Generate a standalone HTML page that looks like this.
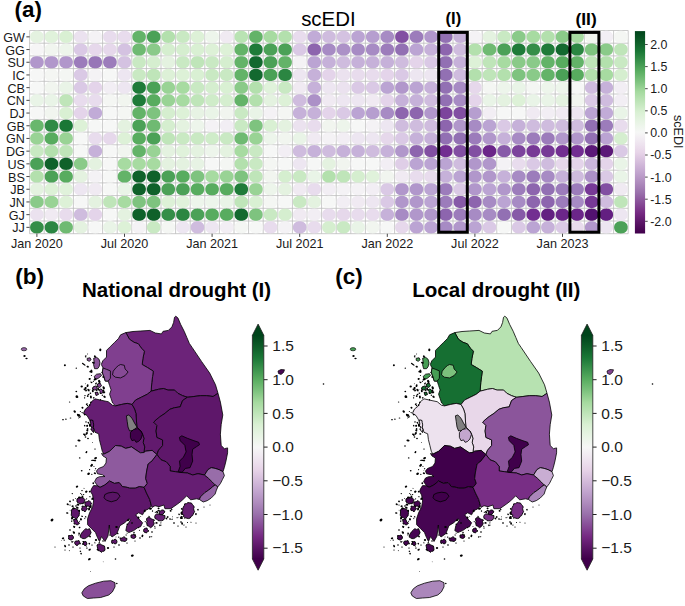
<!DOCTYPE html>
<html><head><meta charset="utf-8"><title>scEDI figure</title>
<style>html,body{margin:0;padding:0;background:#fff;}body{width:685px;height:606px;overflow:hidden;font-family:"Liberation Sans",sans-serif;}svg{display:block;}</style>
</head><body>
<svg width="685" height="606" viewBox="0 0 685 606"><defs><path id="se" d="M6.75 0.00 L6.70 0.99 L6.55 1.82 L6.29 2.58 L5.94 3.27 L5.49 3.89 L4.96 4.45 L4.34 4.92 L3.65 5.32 L2.87 5.64 L2.03 5.87 L1.10 6.00 L0.00 6.05 L-1.10 6.00 L-2.03 5.87 L-2.87 5.64 L-3.65 5.32 L-4.34 4.92 L-4.96 4.45 L-5.49 3.89 L-5.94 3.27 L-6.29 2.58 L-6.55 1.82 L-6.70 0.99 L-6.75 0.00 L-6.70 -0.99 L-6.55 -1.82 L-6.29 -2.58 L-5.94 -3.27 L-5.49 -3.89 L-4.96 -4.45 L-4.34 -4.92 L-3.65 -5.32 L-2.87 -5.64 L-2.03 -5.87 L-1.10 -6.00 L-0.00 -6.05 L1.10 -6.00 L2.03 -5.87 L2.87 -5.64 L3.65 -5.32 L4.34 -4.92 L4.96 -4.45 L5.49 -3.89 L5.94 -3.27 L6.29 -2.58 L6.55 -1.82 L6.70 -0.99Z"/><linearGradient id="cbA" x1="0" y1="0" x2="0" y2="1"><stop offset="0.000" stop-color="#00441b"/><stop offset="0.050" stop-color="#0d5c28"/><stop offset="0.100" stop-color="#1a7736"/><stop offset="0.150" stop-color="#3a924c"/><stop offset="0.200" stop-color="#5aae61"/><stop offset="0.250" stop-color="#7ec37f"/><stop offset="0.300" stop-color="#a5da9f"/><stop offset="0.350" stop-color="#bfe5b9"/><stop offset="0.400" stop-color="#d9f0d3"/><stop offset="0.450" stop-color="#e8f4e5"/><stop offset="0.500" stop-color="#f6f7f6"/><stop offset="0.550" stop-color="#efe6f0"/><stop offset="0.600" stop-color="#e7d4e8"/><stop offset="0.650" stop-color="#d4bcdb"/><stop offset="0.700" stop-color="#c1a4ce"/><stop offset="0.750" stop-color="#ae8bbd"/><stop offset="0.800" stop-color="#9970ab"/><stop offset="0.850" stop-color="#874c97"/><stop offset="0.900" stop-color="#752982"/><stop offset="0.950" stop-color="#591465"/><stop offset="1.000" stop-color="#40004b"/></linearGradient><linearGradient id="cbM" x1="0" y1="0" x2="0" y2="1"><stop offset="0.000" stop-color="#00441b"/><stop offset="0.050" stop-color="#0d5c28"/><stop offset="0.100" stop-color="#1a7736"/><stop offset="0.150" stop-color="#3a924c"/><stop offset="0.200" stop-color="#5aae61"/><stop offset="0.250" stop-color="#7ec37f"/><stop offset="0.300" stop-color="#a5da9f"/><stop offset="0.350" stop-color="#bfe5b9"/><stop offset="0.400" stop-color="#d9f0d3"/><stop offset="0.450" stop-color="#e8f4e5"/><stop offset="0.500" stop-color="#f6f7f6"/><stop offset="0.550" stop-color="#efe6f0"/><stop offset="0.600" stop-color="#e7d4e8"/><stop offset="0.650" stop-color="#d4bcdb"/><stop offset="0.700" stop-color="#c1a4ce"/><stop offset="0.750" stop-color="#ae8bbd"/><stop offset="0.800" stop-color="#9970ab"/><stop offset="0.850" stop-color="#874c97"/><stop offset="0.900" stop-color="#752982"/><stop offset="0.950" stop-color="#591465"/><stop offset="1.000" stop-color="#40004b"/></linearGradient></defs><rect x="29.6" y="30.5" width="598.6" height="203.2" fill="#ffffff"/>
<path d="M29.60 30.5V233.7M44.20 30.5V233.7M58.80 30.5V233.7M73.40 30.5V233.7M88.00 30.5V233.7M102.60 30.5V233.7M117.20 30.5V233.7M131.80 30.5V233.7M146.40 30.5V233.7M161.00 30.5V233.7M175.60 30.5V233.7M190.20 30.5V233.7M204.80 30.5V233.7M219.40 30.5V233.7M234.00 30.5V233.7M248.60 30.5V233.7M263.20 30.5V233.7M277.80 30.5V233.7M292.40 30.5V233.7M307.00 30.5V233.7M321.60 30.5V233.7M336.20 30.5V233.7M350.80 30.5V233.7M365.40 30.5V233.7M380.00 30.5V233.7M394.60 30.5V233.7M409.20 30.5V233.7M423.80 30.5V233.7M438.40 30.5V233.7M453.00 30.5V233.7M467.60 30.5V233.7M482.20 30.5V233.7M496.80 30.5V233.7M511.40 30.5V233.7M526.00 30.5V233.7M540.60 30.5V233.7M555.20 30.5V233.7M569.80 30.5V233.7M584.40 30.5V233.7M599.00 30.5V233.7M613.60 30.5V233.7M628.20 30.5V233.7M29.6 30.50H628.2M29.6 43.20H628.2M29.6 55.90H628.2M29.6 68.60H628.2M29.6 81.30H628.2M29.6 94.00H628.2M29.6 106.70H628.2M29.6 119.40H628.2M29.6 132.10H628.2M29.6 144.80H628.2M29.6 157.50H628.2M29.6 170.20H628.2M29.6 182.90H628.2M29.6 195.60H628.2M29.6 208.30H628.2M29.6 221.00H628.2M29.6 233.70H628.2" stroke="#bdbdbd" stroke-width="0.8" fill="none"/>
<use href="#se" x="36.90" y="36.85" fill="#e4f2e0"/>
<use href="#se" x="51.50" y="36.85" fill="#e0f2db"/>
<use href="#se" x="66.10" y="36.85" fill="#d9f0d3"/>
<use href="#se" x="80.70" y="36.85" fill="#ebe2ef"/>
<use href="#se" x="95.30" y="36.85" fill="#f4f2f5"/>
<use href="#se" x="109.90" y="36.85" fill="#e8dced"/>
<use href="#se" x="124.50" y="36.85" fill="#e8dced"/>
<use href="#se" x="139.10" y="36.85" fill="#63b368"/>
<use href="#se" x="153.70" y="36.85" fill="#4ba157"/>
<use href="#se" x="168.30" y="36.85" fill="#b3e0ad"/>
<use href="#se" x="182.90" y="36.85" fill="#c9e9c3"/>
<use href="#se" x="197.50" y="36.85" fill="#ddf1d7"/>
<use href="#se" x="212.10" y="36.85" fill="#edf5eb"/>
<use href="#se" x="226.70" y="36.85" fill="#f0eaf2"/>
<use href="#se" x="241.30" y="36.85" fill="#b9e3b3"/>
<use href="#se" x="255.90" y="36.85" fill="#63b368"/>
<use href="#se" x="270.50" y="36.85" fill="#a7dba1"/>
<use href="#se" x="285.10" y="36.85" fill="#b3e0ad"/>
<use href="#se" x="299.70" y="36.85" fill="#e8dced"/>
<use href="#se" x="314.30" y="36.85" fill="#c1abd7"/>
<use href="#se" x="328.90" y="36.85" fill="#cfbcde"/>
<use href="#se" x="343.50" y="36.85" fill="#d4c2e1"/>
<use href="#se" x="358.10" y="36.85" fill="#bba4d3"/>
<use href="#se" x="372.70" y="36.85" fill="#b69ecf"/>
<use href="#se" x="387.30" y="36.85" fill="#a78bc4"/>
<use href="#se" x="401.90" y="36.85" fill="#824fa2"/>
<use href="#se" x="416.50" y="36.85" fill="#9c7cbb"/>
<use href="#se" x="431.10" y="36.85" fill="#b197cb"/>
<use href="#se" x="445.70" y="36.85" fill="#9270b3"/>
<use href="#se" x="460.30" y="36.85" fill="#c6b1d9"/>
<use href="#se" x="474.90" y="36.85" fill="#f4f2f5"/>
<use href="#se" x="489.50" y="36.85" fill="#e4f2e0"/>
<use href="#se" x="504.10" y="36.85" fill="#c9e9c3"/>
<use href="#se" x="518.70" y="36.85" fill="#8aca89"/>
<use href="#se" x="533.30" y="36.85" fill="#a7dba1"/>
<use href="#se" x="547.90" y="36.85" fill="#b3e0ad"/>
<use href="#se" x="562.50" y="36.85" fill="#8aca89"/>
<use href="#se" x="577.10" y="36.85" fill="#a7dba1"/>
<use href="#se" x="591.70" y="36.85" fill="#f1f5ef"/>
<use href="#se" x="606.30" y="36.85" fill="#f2eef4"/>
<use href="#se" x="620.90" y="36.85" fill="#f4f6f3"/>
<use href="#se" x="36.90" y="49.55" fill="#f6f5f6"/>
<use href="#se" x="51.50" y="49.55" fill="#f1f5ef"/>
<use href="#se" x="66.10" y="49.55" fill="#edf5eb"/>
<use href="#se" x="80.70" y="49.55" fill="#dac9e5"/>
<use href="#se" x="95.30" y="49.55" fill="#e6d8eb"/>
<use href="#se" x="109.90" y="49.55" fill="#e6d8eb"/>
<use href="#se" x="124.50" y="49.55" fill="#d4c2e1"/>
<use href="#se" x="139.10" y="49.55" fill="#6fba72"/>
<use href="#se" x="153.70" y="49.55" fill="#8aca89"/>
<use href="#se" x="168.30" y="49.55" fill="#d5eecf"/>
<use href="#se" x="182.90" y="49.55" fill="#d5eecf"/>
<use href="#se" x="197.50" y="49.55" fill="#d9f0d3"/>
<use href="#se" x="212.10" y="49.55" fill="#ddf1d7"/>
<use href="#se" x="226.70" y="49.55" fill="#ddf1d7"/>
<use href="#se" x="241.30" y="49.55" fill="#63b368"/>
<use href="#se" x="255.90" y="49.55" fill="#1f7b39"/>
<use href="#se" x="270.50" y="49.55" fill="#4ba157"/>
<use href="#se" x="285.10" y="49.55" fill="#4ba157"/>
<use href="#se" x="299.70" y="49.55" fill="#dac9e5"/>
<use href="#se" x="314.30" y="49.55" fill="#8d65ae"/>
<use href="#se" x="328.90" y="49.55" fill="#a78bc4"/>
<use href="#se" x="343.50" y="49.55" fill="#ac91c7"/>
<use href="#se" x="358.10" y="49.55" fill="#a78bc4"/>
<use href="#se" x="372.70" y="49.55" fill="#a78bc4"/>
<use href="#se" x="387.30" y="49.55" fill="#9c7cbb"/>
<use href="#se" x="401.90" y="49.55" fill="#9270b3"/>
<use href="#se" x="416.50" y="49.55" fill="#bba4d3"/>
<use href="#se" x="431.10" y="49.55" fill="#c6b1d9"/>
<use href="#se" x="445.70" y="49.55" fill="#8d65ae"/>
<use href="#se" x="460.30" y="49.55" fill="#cfbcde"/>
<use href="#se" x="474.90" y="49.55" fill="#b3e0ad"/>
<use href="#se" x="489.50" y="49.55" fill="#6fba72"/>
<use href="#se" x="504.10" y="49.55" fill="#4ba157"/>
<use href="#se" x="518.70" y="49.55" fill="#1f7b39"/>
<use href="#se" x="533.30" y="49.55" fill="#358e48"/>
<use href="#se" x="547.90" y="49.55" fill="#1f7b39"/>
<use href="#se" x="562.50" y="49.55" fill="#13692f"/>
<use href="#se" x="577.10" y="49.55" fill="#2b8642"/>
<use href="#se" x="591.70" y="49.55" fill="#7ec37f"/>
<use href="#se" x="606.30" y="49.55" fill="#8aca89"/>
<use href="#se" x="620.90" y="49.55" fill="#bfe5b9"/>
<use href="#se" x="36.90" y="62.25" fill="#b197cb"/>
<use href="#se" x="51.50" y="62.25" fill="#b197cb"/>
<use href="#se" x="66.10" y="62.25" fill="#b197cb"/>
<use href="#se" x="80.70" y="62.25" fill="#9c7cbb"/>
<use href="#se" x="95.30" y="62.25" fill="#9776b7"/>
<use href="#se" x="109.90" y="62.25" fill="#9c7cbb"/>
<use href="#se" x="124.50" y="62.25" fill="#d4c2e1"/>
<use href="#se" x="139.10" y="62.25" fill="#c9e9c3"/>
<use href="#se" x="153.70" y="62.25" fill="#d5eecf"/>
<use href="#se" x="168.30" y="62.25" fill="#e4f2e0"/>
<use href="#se" x="182.90" y="62.25" fill="#c9e9c3"/>
<use href="#se" x="197.50" y="62.25" fill="#bfe5b9"/>
<use href="#se" x="212.10" y="62.25" fill="#c9e9c3"/>
<use href="#se" x="226.70" y="62.25" fill="#d5eecf"/>
<use href="#se" x="241.30" y="62.25" fill="#63b368"/>
<use href="#se" x="255.90" y="62.25" fill="#13692f"/>
<use href="#se" x="270.50" y="62.25" fill="#4ba157"/>
<use href="#se" x="285.10" y="62.25" fill="#63b368"/>
<use href="#se" x="299.70" y="62.25" fill="#f4f2f5"/>
<use href="#se" x="314.30" y="62.25" fill="#bba4d3"/>
<use href="#se" x="328.90" y="62.25" fill="#c6b1d9"/>
<use href="#se" x="343.50" y="62.25" fill="#cfbcde"/>
<use href="#se" x="358.10" y="62.25" fill="#c6b1d9"/>
<use href="#se" x="372.70" y="62.25" fill="#c6b1d9"/>
<use href="#se" x="387.30" y="62.25" fill="#c6b1d9"/>
<use href="#se" x="401.90" y="62.25" fill="#cfbcde"/>
<use href="#se" x="416.50" y="62.25" fill="#e4d4ea"/>
<use href="#se" x="431.10" y="62.25" fill="#dac9e5"/>
<use href="#se" x="445.70" y="62.25" fill="#9270b3"/>
<use href="#se" x="460.30" y="62.25" fill="#c6b1d9"/>
<use href="#se" x="474.90" y="62.25" fill="#ddf1d7"/>
<use href="#se" x="489.50" y="62.25" fill="#bfe5b9"/>
<use href="#se" x="504.10" y="62.25" fill="#a7dba1"/>
<use href="#se" x="518.70" y="62.25" fill="#8aca89"/>
<use href="#se" x="533.30" y="62.25" fill="#8aca89"/>
<use href="#se" x="547.90" y="62.25" fill="#63b368"/>
<use href="#se" x="562.50" y="62.25" fill="#58ac5f"/>
<use href="#se" x="577.10" y="62.25" fill="#63b368"/>
<use href="#se" x="591.70" y="62.25" fill="#bfe5b9"/>
<use href="#se" x="606.30" y="62.25" fill="#b3e0ad"/>
<use href="#se" x="620.90" y="62.25" fill="#c9e9c3"/>
<use href="#se" x="36.90" y="74.95" fill="#f6f7f6"/>
<use href="#se" x="51.50" y="74.95" fill="#f4f6f3"/>
<use href="#se" x="66.10" y="74.95" fill="#f4f6f3"/>
<use href="#se" x="80.70" y="74.95" fill="#dac9e5"/>
<use href="#se" x="95.30" y="74.95" fill="#f4f2f5"/>
<use href="#se" x="109.90" y="74.95" fill="#f6f7f6"/>
<use href="#se" x="124.50" y="74.95" fill="#ede6f1"/>
<use href="#se" x="139.10" y="74.95" fill="#c9e9c3"/>
<use href="#se" x="153.70" y="74.95" fill="#bfe5b9"/>
<use href="#se" x="168.30" y="74.95" fill="#ddf1d7"/>
<use href="#se" x="182.90" y="74.95" fill="#ddf1d7"/>
<use href="#se" x="197.50" y="74.95" fill="#d9f0d3"/>
<use href="#se" x="212.10" y="74.95" fill="#c9e9c3"/>
<use href="#se" x="226.70" y="74.95" fill="#c9e9c3"/>
<use href="#se" x="241.30" y="74.95" fill="#63b368"/>
<use href="#se" x="255.90" y="74.95" fill="#13692f"/>
<use href="#se" x="270.50" y="74.95" fill="#4ba157"/>
<use href="#se" x="285.10" y="74.95" fill="#2b8642"/>
<use href="#se" x="299.70" y="74.95" fill="#ede6f1"/>
<use href="#se" x="314.30" y="74.95" fill="#c6b1d9"/>
<use href="#se" x="328.90" y="74.95" fill="#e4d4ea"/>
<use href="#se" x="343.50" y="74.95" fill="#ebe2ef"/>
<use href="#se" x="358.10" y="74.95" fill="#e8dced"/>
<use href="#se" x="372.70" y="74.95" fill="#e8dced"/>
<use href="#se" x="387.30" y="74.95" fill="#e4d4ea"/>
<use href="#se" x="401.90" y="74.95" fill="#dac9e5"/>
<use href="#se" x="416.50" y="74.95" fill="#ede6f1"/>
<use href="#se" x="431.10" y="74.95" fill="#ede6f1"/>
<use href="#se" x="445.70" y="74.95" fill="#9270b3"/>
<use href="#se" x="460.30" y="74.95" fill="#cfbcde"/>
<use href="#se" x="474.90" y="74.95" fill="#b3e0ad"/>
<use href="#se" x="489.50" y="74.95" fill="#bfe5b9"/>
<use href="#se" x="504.10" y="74.95" fill="#b3e0ad"/>
<use href="#se" x="518.70" y="74.95" fill="#7ec37f"/>
<use href="#se" x="533.30" y="74.95" fill="#8aca89"/>
<use href="#se" x="547.90" y="74.95" fill="#63b368"/>
<use href="#se" x="562.50" y="74.95" fill="#4ba157"/>
<use href="#se" x="577.10" y="74.95" fill="#58ac5f"/>
<use href="#se" x="591.70" y="74.95" fill="#b3e0ad"/>
<use href="#se" x="606.30" y="74.95" fill="#a7dba1"/>
<use href="#se" x="620.90" y="74.95" fill="#d5eecf"/>
<use href="#se" x="36.90" y="87.65" fill="#f6f7f6"/>
<use href="#se" x="51.50" y="87.65" fill="#f1f5ef"/>
<use href="#se" x="66.10" y="87.65" fill="#e9f4e7"/>
<use href="#se" x="80.70" y="87.65" fill="#dac9e5"/>
<use href="#se" x="95.30" y="87.65" fill="#e4d4ea"/>
<use href="#se" x="109.90" y="87.65" fill="#f2eef4"/>
<use href="#se" x="124.50" y="87.65" fill="#ede6f1"/>
<use href="#se" x="139.10" y="87.65" fill="#1f7b39"/>
<use href="#se" x="153.70" y="87.65" fill="#4ba157"/>
<use href="#se" x="168.30" y="87.65" fill="#99d395"/>
<use href="#se" x="182.90" y="87.65" fill="#a7dba1"/>
<use href="#se" x="197.50" y="87.65" fill="#c9e9c3"/>
<use href="#se" x="212.10" y="87.65" fill="#d5eecf"/>
<use href="#se" x="226.70" y="87.65" fill="#d9f0d3"/>
<use href="#se" x="241.30" y="87.65" fill="#8aca89"/>
<use href="#se" x="255.90" y="87.65" fill="#b3e0ad"/>
<use href="#se" x="270.50" y="87.65" fill="#e0f2db"/>
<use href="#se" x="285.10" y="87.65" fill="#c9e9c3"/>
<use href="#se" x="299.70" y="87.65" fill="#f0eaf2"/>
<use href="#se" x="314.30" y="87.65" fill="#c6b1d9"/>
<use href="#se" x="328.90" y="87.65" fill="#ede6f1"/>
<use href="#se" x="343.50" y="87.65" fill="#ebe2ef"/>
<use href="#se" x="358.10" y="87.65" fill="#dac9e5"/>
<use href="#se" x="372.70" y="87.65" fill="#dac9e5"/>
<use href="#se" x="387.30" y="87.65" fill="#bba4d3"/>
<use href="#se" x="401.90" y="87.65" fill="#b197cb"/>
<use href="#se" x="416.50" y="87.65" fill="#bba4d3"/>
<use href="#se" x="431.10" y="87.65" fill="#c6b1d9"/>
<use href="#se" x="445.70" y="87.65" fill="#9270b3"/>
<use href="#se" x="460.30" y="87.65" fill="#a78bc4"/>
<use href="#se" x="474.90" y="87.65" fill="#e6d8eb"/>
<use href="#se" x="489.50" y="87.65" fill="#f4f6f3"/>
<use href="#se" x="504.10" y="87.65" fill="#edf5eb"/>
<use href="#se" x="518.70" y="87.65" fill="#e9f4e7"/>
<use href="#se" x="533.30" y="87.65" fill="#f4f6f3"/>
<use href="#se" x="547.90" y="87.65" fill="#edf5eb"/>
<use href="#se" x="562.50" y="87.65" fill="#edf5eb"/>
<use href="#se" x="577.10" y="87.65" fill="#f6f7f6"/>
<use href="#se" x="591.70" y="87.65" fill="#cfbcde"/>
<use href="#se" x="606.30" y="87.65" fill="#c6b1d9"/>
<use href="#se" x="620.90" y="87.65" fill="#f2eef4"/>
<use href="#se" x="36.90" y="100.35" fill="#e9f4e7"/>
<use href="#se" x="51.50" y="100.35" fill="#e9f4e7"/>
<use href="#se" x="66.10" y="100.35" fill="#bfe5b9"/>
<use href="#se" x="80.70" y="100.35" fill="#e8dced"/>
<use href="#se" x="95.30" y="100.35" fill="#e8dced"/>
<use href="#se" x="109.90" y="100.35" fill="#f4f6f3"/>
<use href="#se" x="124.50" y="100.35" fill="#f1f5ef"/>
<use href="#se" x="139.10" y="100.35" fill="#1f7b39"/>
<use href="#se" x="153.70" y="100.35" fill="#58ac5f"/>
<use href="#se" x="168.30" y="100.35" fill="#99d395"/>
<use href="#se" x="182.90" y="100.35" fill="#a7dba1"/>
<use href="#se" x="197.50" y="100.35" fill="#bfe5b9"/>
<use href="#se" x="212.10" y="100.35" fill="#cfecc9"/>
<use href="#se" x="226.70" y="100.35" fill="#d5eecf"/>
<use href="#se" x="241.30" y="100.35" fill="#63b368"/>
<use href="#se" x="255.90" y="100.35" fill="#b3e0ad"/>
<use href="#se" x="270.50" y="100.35" fill="#e4f2e0"/>
<use href="#se" x="285.10" y="100.35" fill="#ddf1d7"/>
<use href="#se" x="299.70" y="100.35" fill="#cfbcde"/>
<use href="#se" x="314.30" y="100.35" fill="#ac91c7"/>
<use href="#se" x="328.90" y="100.35" fill="#f0eaf2"/>
<use href="#se" x="343.50" y="100.35" fill="#ede6f1"/>
<use href="#se" x="358.10" y="100.35" fill="#ede6f1"/>
<use href="#se" x="372.70" y="100.35" fill="#f0eaf2"/>
<use href="#se" x="387.30" y="100.35" fill="#e4d4ea"/>
<use href="#se" x="401.90" y="100.35" fill="#c6b1d9"/>
<use href="#se" x="416.50" y="100.35" fill="#c6b1d9"/>
<use href="#se" x="431.10" y="100.35" fill="#cfbcde"/>
<use href="#se" x="445.70" y="100.35" fill="#9270b3"/>
<use href="#se" x="460.30" y="100.35" fill="#a78bc4"/>
<use href="#se" x="474.90" y="100.35" fill="#e4d4ea"/>
<use href="#se" x="489.50" y="100.35" fill="#e9f4e7"/>
<use href="#se" x="504.10" y="100.35" fill="#e4f2e0"/>
<use href="#se" x="518.70" y="100.35" fill="#ddf1d7"/>
<use href="#se" x="533.30" y="100.35" fill="#e9f4e7"/>
<use href="#se" x="547.90" y="100.35" fill="#e9f4e7"/>
<use href="#se" x="562.50" y="100.35" fill="#e4f2e0"/>
<use href="#se" x="577.10" y="100.35" fill="#f1f5ef"/>
<use href="#se" x="591.70" y="100.35" fill="#dac9e5"/>
<use href="#se" x="606.30" y="100.35" fill="#cfbcde"/>
<use href="#se" x="620.90" y="100.35" fill="#f2eef4"/>
<use href="#se" x="36.90" y="113.05" fill="#f6f7f6"/>
<use href="#se" x="51.50" y="113.05" fill="#f1f5ef"/>
<use href="#se" x="66.10" y="113.05" fill="#d9f0d3"/>
<use href="#se" x="80.70" y="113.05" fill="#e4d4ea"/>
<use href="#se" x="95.30" y="113.05" fill="#c1abd7"/>
<use href="#se" x="109.90" y="113.05" fill="#f6f7f6"/>
<use href="#se" x="124.50" y="113.05" fill="#f4f6f3"/>
<use href="#se" x="139.10" y="113.05" fill="#63b368"/>
<use href="#se" x="153.70" y="113.05" fill="#7ec37f"/>
<use href="#se" x="168.30" y="113.05" fill="#d5eecf"/>
<use href="#se" x="182.90" y="113.05" fill="#ddf1d7"/>
<use href="#se" x="197.50" y="113.05" fill="#e7f3e4"/>
<use href="#se" x="212.10" y="113.05" fill="#e9f4e7"/>
<use href="#se" x="226.70" y="113.05" fill="#f1f5ef"/>
<use href="#se" x="241.30" y="113.05" fill="#c9e9c3"/>
<use href="#se" x="255.90" y="113.05" fill="#e9f4e7"/>
<use href="#se" x="270.50" y="113.05" fill="#f4f2f5"/>
<use href="#se" x="285.10" y="113.05" fill="#f4f6f3"/>
<use href="#se" x="299.70" y="113.05" fill="#c6b1d9"/>
<use href="#se" x="314.30" y="113.05" fill="#c6b1d9"/>
<use href="#se" x="328.90" y="113.05" fill="#e4d4ea"/>
<use href="#se" x="343.50" y="113.05" fill="#dac9e5"/>
<use href="#se" x="358.10" y="113.05" fill="#bba4d3"/>
<use href="#se" x="372.70" y="113.05" fill="#b69ecf"/>
<use href="#se" x="387.30" y="113.05" fill="#a78bc4"/>
<use href="#se" x="401.90" y="113.05" fill="#8d65ae"/>
<use href="#se" x="416.50" y="113.05" fill="#8d65ae"/>
<use href="#se" x="431.10" y="113.05" fill="#b197cb"/>
<use href="#se" x="445.70" y="113.05" fill="#7c449c"/>
<use href="#se" x="460.30" y="113.05" fill="#824fa2"/>
<use href="#se" x="474.90" y="113.05" fill="#b69ecf"/>
<use href="#se" x="489.50" y="113.05" fill="#f2eef4"/>
<use href="#se" x="504.10" y="113.05" fill="#f6f7f6"/>
<use href="#se" x="518.70" y="113.05" fill="#f6f7f6"/>
<use href="#se" x="533.30" y="113.05" fill="#f0eaf2"/>
<use href="#se" x="547.90" y="113.05" fill="#f2eef4"/>
<use href="#se" x="562.50" y="113.05" fill="#f0eaf2"/>
<use href="#se" x="577.10" y="113.05" fill="#ede6f1"/>
<use href="#se" x="591.70" y="113.05" fill="#bba4d3"/>
<use href="#se" x="606.30" y="113.05" fill="#c1abd7"/>
<use href="#se" x="620.90" y="113.05" fill="#e9f4e7"/>
<use href="#se" x="36.90" y="125.75" fill="#69b76d"/>
<use href="#se" x="51.50" y="125.75" fill="#308a45"/>
<use href="#se" x="66.10" y="125.75" fill="#1a7736"/>
<use href="#se" x="80.70" y="125.75" fill="#ddf1d7"/>
<use href="#se" x="95.30" y="125.75" fill="#f6f7f6"/>
<use href="#se" x="109.90" y="125.75" fill="#f6f7f6"/>
<use href="#se" x="124.50" y="125.75" fill="#e4f2e0"/>
<use href="#se" x="139.10" y="125.75" fill="#4ba157"/>
<use href="#se" x="153.70" y="125.75" fill="#6fba72"/>
<use href="#se" x="168.30" y="125.75" fill="#d5eecf"/>
<use href="#se" x="182.90" y="125.75" fill="#e4f2e0"/>
<use href="#se" x="197.50" y="125.75" fill="#edf5eb"/>
<use href="#se" x="212.10" y="125.75" fill="#f4f2f5"/>
<use href="#se" x="226.70" y="125.75" fill="#f2eef4"/>
<use href="#se" x="241.30" y="125.75" fill="#c9e9c3"/>
<use href="#se" x="255.90" y="125.75" fill="#7ec37f"/>
<use href="#se" x="270.50" y="125.75" fill="#d9f0d3"/>
<use href="#se" x="285.10" y="125.75" fill="#e4f2e0"/>
<use href="#se" x="299.70" y="125.75" fill="#ebe2ef"/>
<use href="#se" x="314.30" y="125.75" fill="#e8dced"/>
<use href="#se" x="328.90" y="125.75" fill="#f1f5ef"/>
<use href="#se" x="343.50" y="125.75" fill="#edf5eb"/>
<use href="#se" x="358.10" y="125.75" fill="#f6f7f6"/>
<use href="#se" x="372.70" y="125.75" fill="#f4f2f5"/>
<use href="#se" x="387.30" y="125.75" fill="#ede6f1"/>
<use href="#se" x="401.90" y="125.75" fill="#cfbcde"/>
<use href="#se" x="416.50" y="125.75" fill="#cfbcde"/>
<use href="#se" x="431.10" y="125.75" fill="#cfbcde"/>
<use href="#se" x="445.70" y="125.75" fill="#8d65ae"/>
<use href="#se" x="460.30" y="125.75" fill="#b197cb"/>
<use href="#se" x="474.90" y="125.75" fill="#a78bc4"/>
<use href="#se" x="489.50" y="125.75" fill="#bba4d3"/>
<use href="#se" x="504.10" y="125.75" fill="#dac9e5"/>
<use href="#se" x="518.70" y="125.75" fill="#c6b1d9"/>
<use href="#se" x="533.30" y="125.75" fill="#cfbcde"/>
<use href="#se" x="547.90" y="125.75" fill="#cfbcde"/>
<use href="#se" x="562.50" y="125.75" fill="#cfbcde"/>
<use href="#se" x="577.10" y="125.75" fill="#cfbcde"/>
<use href="#se" x="591.70" y="125.75" fill="#9270b3"/>
<use href="#se" x="606.30" y="125.75" fill="#9c7cbb"/>
<use href="#se" x="620.90" y="125.75" fill="#e8dced"/>
<use href="#se" x="36.90" y="138.45" fill="#99d395"/>
<use href="#se" x="51.50" y="138.45" fill="#58ac5f"/>
<use href="#se" x="66.10" y="138.45" fill="#99d395"/>
<use href="#se" x="80.70" y="138.45" fill="#f6f7f6"/>
<use href="#se" x="95.30" y="138.45" fill="#e8dced"/>
<use href="#se" x="109.90" y="138.45" fill="#e6d8eb"/>
<use href="#se" x="124.50" y="138.45" fill="#ddf1d7"/>
<use href="#se" x="139.10" y="138.45" fill="#58ac5f"/>
<use href="#se" x="153.70" y="138.45" fill="#4ba157"/>
<use href="#se" x="168.30" y="138.45" fill="#bfe5b9"/>
<use href="#se" x="182.90" y="138.45" fill="#c9e9c3"/>
<use href="#se" x="197.50" y="138.45" fill="#c9e9c3"/>
<use href="#se" x="212.10" y="138.45" fill="#cfecc9"/>
<use href="#se" x="226.70" y="138.45" fill="#c9e9c3"/>
<use href="#se" x="241.30" y="138.45" fill="#6fba72"/>
<use href="#se" x="255.90" y="138.45" fill="#99d395"/>
<use href="#se" x="270.50" y="138.45" fill="#edf5eb"/>
<use href="#se" x="285.10" y="138.45" fill="#f1f5ef"/>
<use href="#se" x="299.70" y="138.45" fill="#e9f4e7"/>
<use href="#se" x="314.30" y="138.45" fill="#f0eaf2"/>
<use href="#se" x="328.90" y="138.45" fill="#f4f2f5"/>
<use href="#se" x="343.50" y="138.45" fill="#f2eef4"/>
<use href="#se" x="358.10" y="138.45" fill="#ede6f1"/>
<use href="#se" x="372.70" y="138.45" fill="#ede6f1"/>
<use href="#se" x="387.30" y="138.45" fill="#e6d8eb"/>
<use href="#se" x="401.90" y="138.45" fill="#dac9e5"/>
<use href="#se" x="416.50" y="138.45" fill="#c6b1d9"/>
<use href="#se" x="431.10" y="138.45" fill="#c6b1d9"/>
<use href="#se" x="445.70" y="138.45" fill="#9270b3"/>
<use href="#se" x="460.30" y="138.45" fill="#9270b3"/>
<use href="#se" x="474.90" y="138.45" fill="#9c7cbb"/>
<use href="#se" x="489.50" y="138.45" fill="#b197cb"/>
<use href="#se" x="504.10" y="138.45" fill="#c6b1d9"/>
<use href="#se" x="518.70" y="138.45" fill="#a78bc4"/>
<use href="#se" x="533.30" y="138.45" fill="#9c7cbb"/>
<use href="#se" x="547.90" y="138.45" fill="#9c7cbb"/>
<use href="#se" x="562.50" y="138.45" fill="#b197cb"/>
<use href="#se" x="577.10" y="138.45" fill="#b197cb"/>
<use href="#se" x="591.70" y="138.45" fill="#9270b3"/>
<use href="#se" x="606.30" y="138.45" fill="#bba4d3"/>
<use href="#se" x="620.90" y="138.45" fill="#d5eecf"/>
<use href="#se" x="36.90" y="151.15" fill="#c9e9c3"/>
<use href="#se" x="51.50" y="151.15" fill="#b3e0ad"/>
<use href="#se" x="66.10" y="151.15" fill="#bfe5b9"/>
<use href="#se" x="80.70" y="151.15" fill="#f6f7f6"/>
<use href="#se" x="95.30" y="151.15" fill="#c6b1d9"/>
<use href="#se" x="109.90" y="151.15" fill="#f6f7f6"/>
<use href="#se" x="124.50" y="151.15" fill="#f1f5ef"/>
<use href="#se" x="139.10" y="151.15" fill="#63b368"/>
<use href="#se" x="153.70" y="151.15" fill="#99d395"/>
<use href="#se" x="168.30" y="151.15" fill="#e4f2e0"/>
<use href="#se" x="182.90" y="151.15" fill="#e0f2db"/>
<use href="#se" x="197.50" y="151.15" fill="#e4f2e0"/>
<use href="#se" x="212.10" y="151.15" fill="#edf5eb"/>
<use href="#se" x="226.70" y="151.15" fill="#e4f2e0"/>
<use href="#se" x="241.30" y="151.15" fill="#a7dba1"/>
<use href="#se" x="255.90" y="151.15" fill="#c9e9c3"/>
<use href="#se" x="270.50" y="151.15" fill="#f6f7f6"/>
<use href="#se" x="285.10" y="151.15" fill="#f2eef4"/>
<use href="#se" x="299.70" y="151.15" fill="#cfbcde"/>
<use href="#se" x="314.30" y="151.15" fill="#c6b1d9"/>
<use href="#se" x="328.90" y="151.15" fill="#cfbcde"/>
<use href="#se" x="343.50" y="151.15" fill="#c6b1d9"/>
<use href="#se" x="358.10" y="151.15" fill="#c6b1d9"/>
<use href="#se" x="372.70" y="151.15" fill="#cfbcde"/>
<use href="#se" x="387.30" y="151.15" fill="#c6b1d9"/>
<use href="#se" x="401.90" y="151.15" fill="#b197cb"/>
<use href="#se" x="416.50" y="151.15" fill="#8d65ae"/>
<use href="#se" x="431.10" y="151.15" fill="#824fa2"/>
<use href="#se" x="445.70" y="151.15" fill="#722e91"/>
<use href="#se" x="460.30" y="151.15" fill="#824fa2"/>
<use href="#se" x="474.90" y="151.15" fill="#824fa2"/>
<use href="#se" x="489.50" y="151.15" fill="#6b2689"/>
<use href="#se" x="504.10" y="151.15" fill="#875aa8"/>
<use href="#se" x="518.70" y="151.15" fill="#7c449c"/>
<use href="#se" x="533.30" y="151.15" fill="#773996"/>
<use href="#se" x="547.90" y="151.15" fill="#773996"/>
<use href="#se" x="562.50" y="151.15" fill="#722e91"/>
<use href="#se" x="577.10" y="151.15" fill="#722e91"/>
<use href="#se" x="591.70" y="151.15" fill="#5b1978"/>
<use href="#se" x="606.30" y="151.15" fill="#5b1978"/>
<use href="#se" x="620.90" y="151.15" fill="#dac9e5"/>
<use href="#se" x="36.90" y="163.85" fill="#4ba157"/>
<use href="#se" x="51.50" y="163.85" fill="#0f612a"/>
<use href="#se" x="66.10" y="163.85" fill="#0f612a"/>
<use href="#se" x="80.70" y="163.85" fill="#8aca89"/>
<use href="#se" x="95.30" y="163.85" fill="#e4f2e0"/>
<use href="#se" x="109.90" y="163.85" fill="#f6f7f6"/>
<use href="#se" x="124.50" y="163.85" fill="#a7dba1"/>
<use href="#se" x="139.10" y="163.85" fill="#a7dba1"/>
<use href="#se" x="153.70" y="163.85" fill="#a7dba1"/>
<use href="#se" x="168.30" y="163.85" fill="#e4f2e0"/>
<use href="#se" x="182.90" y="163.85" fill="#e4f2e0"/>
<use href="#se" x="197.50" y="163.85" fill="#e7f3e4"/>
<use href="#se" x="212.10" y="163.85" fill="#f6f7f6"/>
<use href="#se" x="226.70" y="163.85" fill="#f4f6f3"/>
<use href="#se" x="241.30" y="163.85" fill="#b3e0ad"/>
<use href="#se" x="255.90" y="163.85" fill="#c9e9c3"/>
<use href="#se" x="270.50" y="163.85" fill="#f4f6f3"/>
<use href="#se" x="285.10" y="163.85" fill="#f6f7f6"/>
<use href="#se" x="299.70" y="163.85" fill="#ede6f1"/>
<use href="#se" x="314.30" y="163.85" fill="#f6f7f6"/>
<use href="#se" x="328.90" y="163.85" fill="#e4f2e0"/>
<use href="#se" x="343.50" y="163.85" fill="#f1f5ef"/>
<use href="#se" x="358.10" y="163.85" fill="#f6f7f6"/>
<use href="#se" x="372.70" y="163.85" fill="#f6f7f6"/>
<use href="#se" x="387.30" y="163.85" fill="#f2eef4"/>
<use href="#se" x="401.90" y="163.85" fill="#dfcee7"/>
<use href="#se" x="416.50" y="163.85" fill="#bba4d3"/>
<use href="#se" x="431.10" y="163.85" fill="#bba4d3"/>
<use href="#se" x="445.70" y="163.85" fill="#bba4d3"/>
<use href="#se" x="460.30" y="163.85" fill="#cfbcde"/>
<use href="#se" x="474.90" y="163.85" fill="#b197cb"/>
<use href="#se" x="489.50" y="163.85" fill="#b197cb"/>
<use href="#se" x="504.10" y="163.85" fill="#f4f2f5"/>
<use href="#se" x="518.70" y="163.85" fill="#e8dced"/>
<use href="#se" x="533.30" y="163.85" fill="#dac9e5"/>
<use href="#se" x="547.90" y="163.85" fill="#cfbcde"/>
<use href="#se" x="562.50" y="163.85" fill="#e6d8eb"/>
<use href="#se" x="577.10" y="163.85" fill="#e4d4ea"/>
<use href="#se" x="591.70" y="163.85" fill="#cbb7dc"/>
<use href="#se" x="606.30" y="163.85" fill="#e4d4ea"/>
<use href="#se" x="620.90" y="163.85" fill="#e9f4e7"/>
<use href="#se" x="36.90" y="176.55" fill="#b3e0ad"/>
<use href="#se" x="51.50" y="176.55" fill="#4ba157"/>
<use href="#se" x="66.10" y="176.55" fill="#58ac5f"/>
<use href="#se" x="80.70" y="176.55" fill="#e4f2e0"/>
<use href="#se" x="95.30" y="176.55" fill="#f4f2f5"/>
<use href="#se" x="109.90" y="176.55" fill="#f6f7f6"/>
<use href="#se" x="124.50" y="176.55" fill="#63b368"/>
<use href="#se" x="139.10" y="176.55" fill="#0f612a"/>
<use href="#se" x="153.70" y="176.55" fill="#0f612a"/>
<use href="#se" x="168.30" y="176.55" fill="#4ba157"/>
<use href="#se" x="182.90" y="176.55" fill="#58ac5f"/>
<use href="#se" x="197.50" y="176.55" fill="#7ec37f"/>
<use href="#se" x="212.10" y="176.55" fill="#a7dba1"/>
<use href="#se" x="226.70" y="176.55" fill="#99d395"/>
<use href="#se" x="241.30" y="176.55" fill="#7ec37f"/>
<use href="#se" x="255.90" y="176.55" fill="#bfe5b9"/>
<use href="#se" x="270.50" y="176.55" fill="#f1f5ef"/>
<use href="#se" x="285.10" y="176.55" fill="#d5eecf"/>
<use href="#se" x="299.70" y="176.55" fill="#c9e9c3"/>
<use href="#se" x="314.30" y="176.55" fill="#e9f4e7"/>
<use href="#se" x="328.90" y="176.55" fill="#b3e0ad"/>
<use href="#se" x="343.50" y="176.55" fill="#bfe5b9"/>
<use href="#se" x="358.10" y="176.55" fill="#d5eecf"/>
<use href="#se" x="372.70" y="176.55" fill="#e0f2db"/>
<use href="#se" x="387.30" y="176.55" fill="#f1f5ef"/>
<use href="#se" x="401.90" y="176.55" fill="#f0eaf2"/>
<use href="#se" x="416.50" y="176.55" fill="#e8dced"/>
<use href="#se" x="431.10" y="176.55" fill="#e8dced"/>
<use href="#se" x="445.70" y="176.55" fill="#c6b1d9"/>
<use href="#se" x="460.30" y="176.55" fill="#bba4d3"/>
<use href="#se" x="474.90" y="176.55" fill="#b197cb"/>
<use href="#se" x="489.50" y="176.55" fill="#b197cb"/>
<use href="#se" x="504.10" y="176.55" fill="#c6b1d9"/>
<use href="#se" x="518.70" y="176.55" fill="#a78bc4"/>
<use href="#se" x="533.30" y="176.55" fill="#9c7cbb"/>
<use href="#se" x="547.90" y="176.55" fill="#a78bc4"/>
<use href="#se" x="562.50" y="176.55" fill="#c6b1d9"/>
<use href="#se" x="577.10" y="176.55" fill="#cfbcde"/>
<use href="#se" x="591.70" y="176.55" fill="#ac91c7"/>
<use href="#se" x="606.30" y="176.55" fill="#dac9e5"/>
<use href="#se" x="620.90" y="176.55" fill="#e9f4e7"/>
<use href="#se" x="36.90" y="189.25" fill="#e4f2e0"/>
<use href="#se" x="51.50" y="189.25" fill="#ddf1d7"/>
<use href="#se" x="66.10" y="189.25" fill="#e0f2db"/>
<use href="#se" x="80.70" y="189.25" fill="#ede6f1"/>
<use href="#se" x="95.30" y="189.25" fill="#f0eaf2"/>
<use href="#se" x="109.90" y="189.25" fill="#f6f7f6"/>
<use href="#se" x="124.50" y="189.25" fill="#e9f4e7"/>
<use href="#se" x="139.10" y="189.25" fill="#0f612a"/>
<use href="#se" x="153.70" y="189.25" fill="#0f612a"/>
<use href="#se" x="168.30" y="189.25" fill="#4ba157"/>
<use href="#se" x="182.90" y="189.25" fill="#4ba157"/>
<use href="#se" x="197.50" y="189.25" fill="#58ac5f"/>
<use href="#se" x="212.10" y="189.25" fill="#58ac5f"/>
<use href="#se" x="226.70" y="189.25" fill="#58ac5f"/>
<use href="#se" x="241.30" y="189.25" fill="#1f7b39"/>
<use href="#se" x="255.90" y="189.25" fill="#99d395"/>
<use href="#se" x="270.50" y="189.25" fill="#edf5eb"/>
<use href="#se" x="285.10" y="189.25" fill="#e4f2e0"/>
<use href="#se" x="299.70" y="189.25" fill="#f0eaf2"/>
<use href="#se" x="314.30" y="189.25" fill="#e8dced"/>
<use href="#se" x="328.90" y="189.25" fill="#f2eef4"/>
<use href="#se" x="343.50" y="189.25" fill="#f4f2f5"/>
<use href="#se" x="358.10" y="189.25" fill="#f4f2f5"/>
<use href="#se" x="372.70" y="189.25" fill="#f2eef4"/>
<use href="#se" x="387.30" y="189.25" fill="#dac9e5"/>
<use href="#se" x="401.90" y="189.25" fill="#b197cb"/>
<use href="#se" x="416.50" y="189.25" fill="#b197cb"/>
<use href="#se" x="431.10" y="189.25" fill="#bba4d3"/>
<use href="#se" x="445.70" y="189.25" fill="#9c7cbb"/>
<use href="#se" x="460.30" y="189.25" fill="#dac9e5"/>
<use href="#se" x="474.90" y="189.25" fill="#b197cb"/>
<use href="#se" x="489.50" y="189.25" fill="#bba4d3"/>
<use href="#se" x="504.10" y="189.25" fill="#b197cb"/>
<use href="#se" x="518.70" y="189.25" fill="#9c7cbb"/>
<use href="#se" x="533.30" y="189.25" fill="#8d65ae"/>
<use href="#se" x="547.90" y="189.25" fill="#9270b3"/>
<use href="#se" x="562.50" y="189.25" fill="#9c7cbb"/>
<use href="#se" x="577.10" y="189.25" fill="#9c7cbb"/>
<use href="#se" x="591.70" y="189.25" fill="#773996"/>
<use href="#se" x="606.30" y="189.25" fill="#824fa2"/>
<use href="#se" x="620.90" y="189.25" fill="#f0eaf2"/>
<use href="#se" x="36.90" y="201.95" fill="#8aca89"/>
<use href="#se" x="51.50" y="201.95" fill="#99d395"/>
<use href="#se" x="66.10" y="201.95" fill="#ddf1d7"/>
<use href="#se" x="80.70" y="201.95" fill="#f6f7f6"/>
<use href="#se" x="95.30" y="201.95" fill="#e4f2e0"/>
<use href="#se" x="109.90" y="201.95" fill="#bfe5b9"/>
<use href="#se" x="124.50" y="201.95" fill="#a7dba1"/>
<use href="#se" x="139.10" y="201.95" fill="#7ec37f"/>
<use href="#se" x="153.70" y="201.95" fill="#7ec37f"/>
<use href="#se" x="168.30" y="201.95" fill="#ddf1d7"/>
<use href="#se" x="182.90" y="201.95" fill="#e0f2db"/>
<use href="#se" x="197.50" y="201.95" fill="#edf5eb"/>
<use href="#se" x="212.10" y="201.95" fill="#edf5eb"/>
<use href="#se" x="226.70" y="201.95" fill="#e9f4e7"/>
<use href="#se" x="241.30" y="201.95" fill="#bfe5b9"/>
<use href="#se" x="255.90" y="201.95" fill="#d9f0d3"/>
<use href="#se" x="270.50" y="201.95" fill="#f4f6f3"/>
<use href="#se" x="285.10" y="201.95" fill="#f6f7f6"/>
<use href="#se" x="299.70" y="201.95" fill="#c9e9c3"/>
<use href="#se" x="314.30" y="201.95" fill="#e4f2e0"/>
<use href="#se" x="328.90" y="201.95" fill="#f6f7f6"/>
<use href="#se" x="343.50" y="201.95" fill="#f2eef4"/>
<use href="#se" x="358.10" y="201.95" fill="#f0eaf2"/>
<use href="#se" x="372.70" y="201.95" fill="#ede6f1"/>
<use href="#se" x="387.30" y="201.95" fill="#dac9e5"/>
<use href="#se" x="401.90" y="201.95" fill="#b197cb"/>
<use href="#se" x="416.50" y="201.95" fill="#b197cb"/>
<use href="#se" x="431.10" y="201.95" fill="#bba4d3"/>
<use href="#se" x="445.70" y="201.95" fill="#9c7cbb"/>
<use href="#se" x="460.30" y="201.95" fill="#875aa8"/>
<use href="#se" x="474.90" y="201.95" fill="#8d65ae"/>
<use href="#se" x="489.50" y="201.95" fill="#a78bc4"/>
<use href="#se" x="504.10" y="201.95" fill="#bba4d3"/>
<use href="#se" x="518.70" y="201.95" fill="#a78bc4"/>
<use href="#se" x="533.30" y="201.95" fill="#8d65ae"/>
<use href="#se" x="547.90" y="201.95" fill="#8d65ae"/>
<use href="#se" x="562.50" y="201.95" fill="#9c7cbb"/>
<use href="#se" x="577.10" y="201.95" fill="#a78bc4"/>
<use href="#se" x="591.70" y="201.95" fill="#773996"/>
<use href="#se" x="606.30" y="201.95" fill="#cfbcde"/>
<use href="#se" x="620.90" y="201.95" fill="#bfe5b9"/>
<use href="#se" x="36.90" y="214.65" fill="#ebe2ef"/>
<use href="#se" x="51.50" y="214.65" fill="#f0eaf2"/>
<use href="#se" x="66.10" y="214.65" fill="#e8dced"/>
<use href="#se" x="80.70" y="214.65" fill="#cfbcde"/>
<use href="#se" x="95.30" y="214.65" fill="#e4d4ea"/>
<use href="#se" x="109.90" y="214.65" fill="#f6f7f6"/>
<use href="#se" x="124.50" y="214.65" fill="#e4f2e0"/>
<use href="#se" x="139.10" y="214.65" fill="#0f612a"/>
<use href="#se" x="153.70" y="214.65" fill="#0f612a"/>
<use href="#se" x="168.30" y="214.65" fill="#358e48"/>
<use href="#se" x="182.90" y="214.65" fill="#2b8642"/>
<use href="#se" x="197.50" y="214.65" fill="#4ba157"/>
<use href="#se" x="212.10" y="214.65" fill="#58ac5f"/>
<use href="#se" x="226.70" y="214.65" fill="#58ac5f"/>
<use href="#se" x="241.30" y="214.65" fill="#13692f"/>
<use href="#se" x="255.90" y="214.65" fill="#7ec37f"/>
<use href="#se" x="270.50" y="214.65" fill="#c9e9c3"/>
<use href="#se" x="285.10" y="214.65" fill="#d5eecf"/>
<use href="#se" x="299.70" y="214.65" fill="#f0eaf2"/>
<use href="#se" x="314.30" y="214.65" fill="#f2eef4"/>
<use href="#se" x="328.90" y="214.65" fill="#e8dced"/>
<use href="#se" x="343.50" y="214.65" fill="#e6d8eb"/>
<use href="#se" x="358.10" y="214.65" fill="#e8dced"/>
<use href="#se" x="372.70" y="214.65" fill="#e8dced"/>
<use href="#se" x="387.30" y="214.65" fill="#c6b1d9"/>
<use href="#se" x="401.90" y="214.65" fill="#a78bc4"/>
<use href="#se" x="416.50" y="214.65" fill="#b197cb"/>
<use href="#se" x="431.10" y="214.65" fill="#b197cb"/>
<use href="#se" x="445.70" y="214.65" fill="#8d65ae"/>
<use href="#se" x="460.30" y="214.65" fill="#9c7cbb"/>
<use href="#se" x="474.90" y="214.65" fill="#a78bc4"/>
<use href="#se" x="489.50" y="214.65" fill="#a78bc4"/>
<use href="#se" x="504.10" y="214.65" fill="#9270b3"/>
<use href="#se" x="518.70" y="214.65" fill="#875aa8"/>
<use href="#se" x="533.30" y="214.65" fill="#722e91"/>
<use href="#se" x="547.90" y="214.65" fill="#631f81"/>
<use href="#se" x="562.50" y="214.65" fill="#6b2689"/>
<use href="#se" x="577.10" y="214.65" fill="#6b2689"/>
<use href="#se" x="591.70" y="214.65" fill="#531270"/>
<use href="#se" x="606.30" y="214.65" fill="#631f81"/>
<use href="#se" x="620.90" y="214.65" fill="#ede6f1"/>
<use href="#se" x="36.90" y="227.35" fill="#358e48"/>
<use href="#se" x="51.50" y="227.35" fill="#2b8642"/>
<use href="#se" x="66.10" y="227.35" fill="#6fba72"/>
<use href="#se" x="80.70" y="227.35" fill="#e4f2e0"/>
<use href="#se" x="95.30" y="227.35" fill="#f6f7f6"/>
<use href="#se" x="109.90" y="227.35" fill="#e9f4e7"/>
<use href="#se" x="124.50" y="227.35" fill="#ddf1d7"/>
<use href="#se" x="139.10" y="227.35" fill="#f4f2f5"/>
<use href="#se" x="153.70" y="227.35" fill="#c9e9c3"/>
<use href="#se" x="168.30" y="227.35" fill="#f4f6f3"/>
<use href="#se" x="182.90" y="227.35" fill="#ede6f1"/>
<use href="#se" x="197.50" y="227.35" fill="#cfbcde"/>
<use href="#se" x="212.10" y="227.35" fill="#ede6f1"/>
<use href="#se" x="226.70" y="227.35" fill="#f2eef4"/>
<use href="#se" x="241.30" y="227.35" fill="#f4f6f3"/>
<use href="#se" x="255.90" y="227.35" fill="#f6f7f6"/>
<use href="#se" x="270.50" y="227.35" fill="#e8dced"/>
<use href="#se" x="285.10" y="227.35" fill="#f4f2f5"/>
<use href="#se" x="299.70" y="227.35" fill="#cfbcde"/>
<use href="#se" x="314.30" y="227.35" fill="#e8dced"/>
<use href="#se" x="328.90" y="227.35" fill="#d5eecf"/>
<use href="#se" x="343.50" y="227.35" fill="#c9e9c3"/>
<use href="#se" x="358.10" y="227.35" fill="#e9f4e7"/>
<use href="#se" x="372.70" y="227.35" fill="#f1f5ef"/>
<use href="#se" x="387.30" y="227.35" fill="#f6f7f6"/>
<use href="#se" x="401.90" y="227.35" fill="#e6d8eb"/>
<use href="#se" x="416.50" y="227.35" fill="#bba4d3"/>
<use href="#se" x="431.10" y="227.35" fill="#bba4d3"/>
<use href="#se" x="445.70" y="227.35" fill="#a78bc4"/>
<use href="#se" x="460.30" y="227.35" fill="#b197cb"/>
<use href="#se" x="474.90" y="227.35" fill="#bba4d3"/>
<use href="#se" x="489.50" y="227.35" fill="#dac9e5"/>
<use href="#se" x="504.10" y="227.35" fill="#f6f7f6"/>
<use href="#se" x="518.70" y="227.35" fill="#dac9e5"/>
<use href="#se" x="533.30" y="227.35" fill="#bba4d3"/>
<use href="#se" x="547.90" y="227.35" fill="#c6b1d9"/>
<use href="#se" x="562.50" y="227.35" fill="#dac9e5"/>
<use href="#se" x="577.10" y="227.35" fill="#e8dced"/>
<use href="#se" x="591.70" y="227.35" fill="#b197cb"/>
<use href="#se" x="606.30" y="227.35" fill="#ede6f1"/>
<use href="#se" x="620.90" y="227.35" fill="#4ba157"/>
<rect x="438.7" y="32.4" width="28.6" height="199.8" fill="none" stroke="#000" stroke-width="3"/>
<rect x="569.9" y="32.4" width="29.0" height="199.8" fill="none" stroke="#000" stroke-width="3"/>
<text x="24.9" y="41.85" font-size="12.6" text-anchor="end" font-family="Liberation Sans, sans-serif" fill="#1a1a1a">GW</text>
<text x="24.9" y="54.55" font-size="12.6" text-anchor="end" font-family="Liberation Sans, sans-serif" fill="#1a1a1a">GG</text>
<text x="24.9" y="67.25" font-size="12.6" text-anchor="end" font-family="Liberation Sans, sans-serif" fill="#1a1a1a">SU</text>
<text x="24.9" y="79.95" font-size="12.6" text-anchor="end" font-family="Liberation Sans, sans-serif" fill="#1a1a1a">IC</text>
<text x="24.9" y="92.65" font-size="12.6" text-anchor="end" font-family="Liberation Sans, sans-serif" fill="#1a1a1a">CB</text>
<text x="24.9" y="105.35" font-size="12.6" text-anchor="end" font-family="Liberation Sans, sans-serif" fill="#1a1a1a">CN</text>
<text x="24.9" y="118.05" font-size="12.6" text-anchor="end" font-family="Liberation Sans, sans-serif" fill="#1a1a1a">DJ</text>
<text x="24.9" y="130.75" font-size="12.6" text-anchor="end" font-family="Liberation Sans, sans-serif" fill="#1a1a1a">GB</text>
<text x="24.9" y="143.45" font-size="12.6" text-anchor="end" font-family="Liberation Sans, sans-serif" fill="#1a1a1a">GN</text>
<text x="24.9" y="156.15" font-size="12.6" text-anchor="end" font-family="Liberation Sans, sans-serif" fill="#1a1a1a">DG</text>
<text x="24.9" y="168.85" font-size="12.6" text-anchor="end" font-family="Liberation Sans, sans-serif" fill="#1a1a1a">US</text>
<text x="24.9" y="181.55" font-size="12.6" text-anchor="end" font-family="Liberation Sans, sans-serif" fill="#1a1a1a">BS</text>
<text x="24.9" y="194.25" font-size="12.6" text-anchor="end" font-family="Liberation Sans, sans-serif" fill="#1a1a1a">JB</text>
<text x="24.9" y="206.95" font-size="12.6" text-anchor="end" font-family="Liberation Sans, sans-serif" fill="#1a1a1a">JN</text>
<text x="24.9" y="219.65" font-size="12.6" text-anchor="end" font-family="Liberation Sans, sans-serif" fill="#1a1a1a">GJ</text>
<text x="24.9" y="232.35" font-size="12.6" text-anchor="end" font-family="Liberation Sans, sans-serif" fill="#1a1a1a">JJ</text>
<text x="36.90" y="247.7" font-size="12.6" text-anchor="middle" font-family="Liberation Sans, sans-serif" fill="#1a1a1a">Jan 2020</text>
<text x="124.50" y="247.7" font-size="12.6" text-anchor="middle" font-family="Liberation Sans, sans-serif" fill="#1a1a1a">Jul 2020</text>
<text x="212.10" y="247.7" font-size="12.6" text-anchor="middle" font-family="Liberation Sans, sans-serif" fill="#1a1a1a">Jan 2021</text>
<text x="299.70" y="247.7" font-size="12.6" text-anchor="middle" font-family="Liberation Sans, sans-serif" fill="#1a1a1a">Jul 2021</text>
<text x="387.30" y="247.7" font-size="12.6" text-anchor="middle" font-family="Liberation Sans, sans-serif" fill="#1a1a1a">Jan 2022</text>
<text x="474.90" y="247.7" font-size="12.6" text-anchor="middle" font-family="Liberation Sans, sans-serif" fill="#1a1a1a">Jul 2022</text>
<text x="562.50" y="247.7" font-size="12.6" text-anchor="middle" font-family="Liberation Sans, sans-serif" fill="#1a1a1a">Jan 2023</text>
<path d="M26.4 36.85H29.6M26.4 49.55H29.6M26.4 62.25H29.6M26.4 74.95H29.6M26.4 87.65H29.6M26.4 100.35H29.6M26.4 113.05H29.6M26.4 125.75H29.6M26.4 138.45H29.6M26.4 151.15H29.6M26.4 163.85H29.6M26.4 176.55H29.6M26.4 189.25H29.6M26.4 201.95H29.6M26.4 214.65H29.6M26.4 227.35H29.6M36.90 233.7V236.89999999999998M124.50 233.7V236.89999999999998M212.10 233.7V236.89999999999998M299.70 233.7V236.89999999999998M387.30 233.7V236.89999999999998M474.90 233.7V236.89999999999998M562.50 233.7V236.89999999999998" stroke="#333" stroke-width="0.9" fill="none"/>
<text x="14.6" y="17.3" font-size="22.4" font-weight="bold" font-family="Liberation Sans, sans-serif" fill="#000">(a)</text>
<text x="328.4" y="25.9" font-size="19.6" text-anchor="middle" textLength="54.5" lengthAdjust="spacingAndGlyphs" font-family="Liberation Sans, sans-serif" fill="#000">scEDI</text>
<text x="453.4" y="24.2" font-size="16.6" font-weight="bold" text-anchor="middle" font-family="Liberation Sans, sans-serif" fill="#000">(I)</text>
<text x="586.1" y="25.2" font-size="17.4" font-weight="bold" text-anchor="middle" font-family="Liberation Sans, sans-serif" fill="#000">(II)</text>
<rect x="634.9" y="31.1" width="10.2" height="202.4" fill="url(#cbA)"/>
<text x="650.2" y="48.90" font-size="12.4" font-family="Liberation Sans, sans-serif" fill="#1a1a1a">2.0</text>
<text x="650.2" y="71.00" font-size="12.4" font-family="Liberation Sans, sans-serif" fill="#1a1a1a">1.5</text>
<text x="650.2" y="93.10" font-size="12.4" font-family="Liberation Sans, sans-serif" fill="#1a1a1a">1.0</text>
<text x="650.2" y="115.20" font-size="12.4" font-family="Liberation Sans, sans-serif" fill="#1a1a1a">0.5</text>
<text x="650.2" y="137.30" font-size="12.4" font-family="Liberation Sans, sans-serif" fill="#1a1a1a">0.0</text>
<text x="650.2" y="159.40" font-size="12.4" font-family="Liberation Sans, sans-serif" fill="#1a1a1a">-0.5</text>
<text x="650.2" y="181.50" font-size="12.4" font-family="Liberation Sans, sans-serif" fill="#1a1a1a">-1.0</text>
<text x="650.2" y="203.60" font-size="12.4" font-family="Liberation Sans, sans-serif" fill="#1a1a1a">-1.5</text>
<text x="650.2" y="225.70" font-size="12.4" font-family="Liberation Sans, sans-serif" fill="#1a1a1a">-2.0</text>
<path d="M645.1 44.50h2.6M645.1 66.60h2.6M645.1 88.70h2.6M645.1 110.80h2.6M645.1 132.90h2.6M645.1 155.00h2.6M645.1 177.10h2.6M645.1 199.20h2.6M645.1 221.30h2.6" stroke="#333" stroke-width="0.9" fill="none"/>
<text x="0" y="0" font-size="12.6" text-anchor="middle" font-family="Liberation Sans, sans-serif" fill="#1a1a1a" transform="translate(674.4 131.75) rotate(90)">scEDI</text>
<path d="M175.8 316.2 L174.5 317.3 L173.6 322.5 L171.9 326.9 L168.4 330.4 L163.1 331.3 L161.4 333.9 L155.3 333.0 L150.0 330.4 L140.7 331.0 L133.0 331.5 L125.8 332.6 L129.5 339.3 L134.0 342.3 L138.4 343.8 L141.4 348.2 L144.4 351.2 L142.9 358.6 L142.2 364.5 L147.4 367.5 L153.3 371.2 L152.6 376.4 L151.8 382.3 L151.1 391.2 L158.5 389.3 L163.4 388.5 L168.2 390.1 L174.6 390.1 L177.8 393.3 L182.6 395.7 L187.4 397.3 L193.9 396.5 L200.3 395.7 L206.7 395.7 L213.1 396.5 L218.0 393.3 L215.5 384.8 L209.7 373.1 L201.5 361.4 L192.1 347.4 L189.4 343.5 L186.8 337.4 L184.2 331.3 L180.6 324.3 L178.0 318.1Z" fill="#6c2379" stroke="#000" stroke-width="0.8" stroke-linejoin="round"/>
<path d="M125.8 332.6 L120.6 334.8 L118.4 338.6 L114.7 342.3 L110.2 346.7 L106.5 350.4 L106.5 357.1 L102.8 360.8 L101.3 364.5 L103.1 368.0 L102.3 372.3 L103.8 376.7 L105.3 381.1 L108.2 381.1 L109.6 385.5 L111.1 389.9 L109.6 394.2 L111.1 398.6 L112.6 403.0 L115.5 405.9 L121.3 404.5 L127.2 403.4 L132.0 404.5 L135.5 400.1 L141.4 397.2 L147.4 394.2 L151.1 391.2 L151.8 382.3 L152.6 376.4 L153.3 371.2 L147.4 367.5 L142.2 364.5 L142.9 358.6 L144.4 351.2 L141.4 348.2 L138.4 343.8 L134.0 342.3 L129.5 339.3Z" fill="#803f8f" stroke="#000" stroke-width="0.8" stroke-linejoin="round"/>
<path d="M132.0 404.5 L135.5 400.1 L141.4 397.2 L147.4 394.2 L151.1 391.2 L158.5 389.3 L163.4 388.5 L168.2 390.1 L174.6 390.1 L177.8 393.3 L182.6 395.7 L187.4 397.3 L182.6 400.5 L180.2 406.9 L174.6 407.7 L169.8 409.3 L165.0 413.4 L160.1 416.6 L156.1 419.8 L153.7 422.2 L156.9 425.4 L156.1 431.0 L156.9 437.4 L162.6 439.9 L162.6 445.5 L158.5 450.3 L156.9 454.5 L152.1 450.4 L145.7 451.2 L143.9 452.5 L144.7 446.9 L143.2 442.6 L143.9 438.2 L142.5 434.2 L140.9 431.0 L136.9 427.0 L135.9 413.4 L134.5 409.0Z" fill="#621a6e" stroke="#000" stroke-width="0.8" stroke-linejoin="round"/>
<path d="M95.0 398.8 L100.9 400.2 L108.2 401.7 L112.6 405.3 L115.5 405.9 L121.3 404.5 L127.2 403.4 L132.0 404.5 L134.5 409.0 L135.9 413.4 L136.9 427.0 L140.9 431.0 L142.5 434.2 L143.9 438.2 L143.2 442.6 L144.7 446.9 L143.9 452.5 L140.3 452.8 L135.9 449.9 L131.5 446.9 L125.7 448.4 L121.3 446.2 L115.5 445.5 L109.6 451.3 L103.8 454.2 L102.3 451.3 L100.9 445.5 L99.4 439.6 L98.7 433.8 L95.0 432.3 L93.6 427.9 L91.4 423.6 L89.2 419.2 L87.0 415.5 L83.4 413.4 L85.5 409.0 L89.2 406.1 L91.4 401.7Z" fill="#661e73" stroke="#000" stroke-width="0.8" stroke-linejoin="round"/>
<path d="M187.4 397.3 L193.9 396.5 L200.3 395.7 L206.7 395.7 L213.1 396.5 L218.0 393.3 L220.4 402.1 L222.8 415.0 L221.2 424.6 L220.4 434.2 L221.2 445.5 L224.4 448.7 L227.6 447.9 L227.6 452.8 L226.0 460.9 L224.4 467.3 L223.0 471.7 L219.1 469.7 L215.1 468.4 L211.2 467.7 L207.9 469.7 L204.6 475.0 L198.0 473.7 L192.7 475.0 L187.4 473.0 L178.8 472.3 L175.5 471.7 L170.2 471.0 L170.2 466.4 L166.3 461.8 L161.0 459.8 L156.9 454.5 L158.5 450.3 L162.6 445.5 L162.6 439.9 L156.9 437.4 L156.1 431.0 L156.9 425.4 L153.7 422.2 L156.1 419.8 L160.1 416.6 L165.0 413.4 L169.8 409.3 L174.6 407.7 L180.2 406.9 L182.6 400.5Z" fill="#5e176a" stroke="#000" stroke-width="0.8" stroke-linejoin="round"/>
<path d="M103.8 454.2 L109.6 451.3 L115.5 445.5 L121.3 446.2 L125.7 448.4 L131.5 446.9 L135.9 449.9 L140.3 452.8 L143.9 452.5 L145.7 451.2 L152.1 450.4 L156.9 454.5 L152.1 460.9 L148.1 464.1 L146.5 472.1 L145.7 478.5 L147.3 483.4 L144.1 487.4 L139.3 486.6 L135.3 488.2 L129.6 488.2 L127.3 487.4 L122.4 486.6 L119.2 482.6 L114.4 483.4 L109.6 481.0 L104.8 485.0 L100.0 487.4 L97.6 485.8 L94.6 481.7 L96.5 478.0 L99.5 476.7 L105.0 476.5 L102.5 474.8 L97.5 473.8 L96.5 471.0 L98.5 468.5 L103.5 466.5 L106.0 463.0 L106.4 458.0 L103.0 456.0 L101.5 453.5Z" fill="#8e5a9e" stroke="#000" stroke-width="0.8" stroke-linejoin="round"/>
<path d="M97.6 485.8 L100.0 487.4 L104.8 485.0 L109.6 481.0 L114.4 483.4 L119.2 482.6 L122.4 486.6 L127.3 487.4 L129.6 488.2 L135.3 488.2 L139.3 486.6 L144.1 487.4 L146.5 493.0 L149.7 499.4 L151.4 505.8 L148.6 508.9 L144.6 510.8 L142.6 514.8 L138.7 512.8 L135.7 514.8 L138.7 518.8 L142.6 522.7 L140.6 526.7 L137.7 527.7 L133.7 530.6 L128.8 532.6 L125.8 530.6 L126.8 525.7 L130.7 519.8 L128.8 518.8 L124.8 522.7 L119.9 525.7 L116.9 533.6 L112.0 537.0 L110.2 534.6 L109.3 525.0 L108.0 536.0 L105.0 541.5 L101.5 536.6 L99.5 541.5 L97.5 537.6 L95.5 532.6 L91.6 528.7 L87.6 524.7 L87.6 518.8 L89.6 512.8 L92.6 506.9 L93.6 500.9 L92.6 495.0 L90.6 491.6 L91.6 488.6 L93.6 485.6Z" fill="#5e176a" stroke="#000" stroke-width="0.8" stroke-linejoin="round"/>
<path d="M156.9 454.5 L161.0 459.8 L166.3 461.8 L170.2 466.4 L170.2 471.0 L175.5 471.7 L178.8 472.3 L187.4 473.0 L192.7 475.0 L198.0 473.7 L204.6 475.0 L208.5 478.3 L212.5 482.2 L215.1 484.9 L212.5 486.9 L208.5 490.2 L204.6 492.8 L200.6 496.8 L199.3 499.4 L196.6 498.8 L190.6 499.8 L186.7 495.8 L181.7 500.8 L177.8 503.8 L170.8 508.7 L164.9 508.7 L163.9 505.0 L159.0 506.7 L155.0 505.7 L152.1 507.4 L151.4 505.8 L149.7 499.4 L146.5 493.0 L144.1 487.4 L147.3 483.4 L145.7 478.5 L146.5 472.1 L148.1 464.1 L152.1 460.9Z" fill="#661e73" stroke="#000" stroke-width="0.8" stroke-linejoin="round"/>
<path d="M204.6 475.0 L207.9 469.7 L211.2 467.7 L215.1 468.4 L219.1 469.7 L223.0 471.7 L224.4 475.6 L222.4 479.6 L220.4 483.6 L217.8 486.9 L215.1 484.9 L212.5 482.2 L208.5 478.3Z" fill="#986da9" stroke="#000" stroke-width="0.8" stroke-linejoin="round"/>
<path d="M215.1 484.9 L217.8 486.9 L216.4 490.2 L215.1 494.1 L211.2 498.1 L207.2 500.7 L203.2 502.0 L199.3 499.4 L200.6 496.8 L204.6 492.8 L208.5 490.2 L212.5 486.9Z" fill="#9465a5" stroke="#000" stroke-width="0.8" stroke-linejoin="round"/>
<path d="M113.2 371.2 L116.2 367.5 L118.5 365.5 L120.6 364.5 L124.3 365.3 L125.1 369.0 L128.1 372.0 L125.1 375.6 L120.6 377.9 L115.4 377.2 L112.5 374.9Z" fill="#864a95" stroke="#000" stroke-width="0.8" stroke-linejoin="round"/>
<path d="M103.1 368.0 L106.7 369.4 L110.4 370.9 L110.4 378.2 L108.2 381.1 L105.3 381.1 L103.8 376.7 L102.3 372.3Z" fill="#8b559b" stroke="#000" stroke-width="0.8" stroke-linejoin="round"/>
<path d="M93.6 358.3 L96.6 357.3 L99.1 359.3 L100.0 362.8 L99.1 366.7 L97.6 368.7 L94.6 368.7 L93.6 364.8 L94.1 361.8Z" fill="#8b559b" stroke="#000" stroke-width="0.8" stroke-linejoin="round"/>
<path d="M87.2 358.3 L90.1 357.8 L91.1 359.8 L89.2 361.3 L87.2 360.3Z" fill="#8b559b" stroke="#000" stroke-width="0.8" stroke-linejoin="round"/>
<path d="M94.1 376.6 L96.6 374.2 L100.5 373.7 L101.5 375.6 L98.6 378.1 L95.6 379.6Z" fill="#8b559b" stroke="#000" stroke-width="0.8" stroke-linejoin="round"/>
<path d="M80.7 534.6 L81.6 533.1 L82.7 531.6 L84.2 530.2 L85.6 528.7 L87.6 529.4 L89.6 528.7 L90.4 530.6 L91.1 532.6 L90.3 534.1 L89.6 535.6 L88.0 536.5 L86.6 537.6 L84.8 538.6 L82.7 538.6 L81.5 537.8 L80.2 537.1Z" fill="#5e176a" stroke="#000" stroke-width="0.9" stroke-linejoin="round"/>
<path d="M182.7 508.7 L183.3 507.1 L184.3 505.5 L184.7 503.8 L186.4 503.7 L187.9 502.6 L189.7 502.8 L191.5 503.1 L192.4 504.6 L193.6 505.7 L194.2 507.1 L193.6 508.8 L194.0 510.3 L194.6 511.7 L193.8 512.9 L193.2 514.3 L192.6 515.6 L191.1 516.4 L190.3 518.0 L188.7 518.6 L186.7 518.2 L184.7 517.6 L183.5 516.7 L183.8 514.8 L181.8 514.3 L181.7 512.7 L182.7 510.8Z" fill="#661e73" stroke="#000" stroke-width="0.9" stroke-linejoin="round"/>
<path d="M155.5 514.7 L156.9 513.9 L158.6 514.2 L160.0 513.5 L161.5 514.4 L163.1 515.4 L164.9 515.5 L164.9 517.1 L164.4 518.6 L163.5 520.0 L161.7 520.8 L159.9 520.8 L158.0 520.6 L156.7 519.2 L155.0 518.5 L154.7 516.5Z" fill="#661e73" stroke="#000" stroke-width="0.9" stroke-linejoin="round"/>
<path d="M146.6 518.5 L148.2 517.5 L150.0 517.8 L151.4 518.8 L152.9 519.5 L154.5 520.0 L153.5 521.5 L154.2 523.4 L153.5 525.0 L152.3 526.6 L150.5 527.7 L148.9 526.3 L147.0 525.5 L147.2 524.1 L146.5 522.7 L147.1 521.3 L146.5 519.9Z" fill="#5e176a" stroke="#000" stroke-width="0.9" stroke-linejoin="round"/>
<path d="M158.5 510.5 L160.4 510.9 L162.0 509.9 L163.9 510.3 L165.0 512.0 L163.7 513.0 L163.0 514.5 L160.9 514.8 L159.0 514.0 L159.5 512.1Z" fill="#5e176a" stroke="#000" stroke-width="0.9" stroke-linejoin="round"/>
<path d="M72.0 509.0 L73.7 508.5 L75.5 508.5 L76.8 509.3 L78.2 510.1 L79.5 511.0 L79.4 512.7 L79.3 514.3 L79.0 516.0 L77.8 516.8 L77.3 518.3 L76.0 519.0 L74.4 517.8 L72.5 517.0 L71.2 515.2 L71.5 513.0 L71.4 511.0Z" fill="#5e176a" stroke="#000" stroke-width="0.9" stroke-linejoin="round"/>
<path d="M73.5 519.5 L75.2 519.5 L77.0 519.5 L77.4 521.0 L78.1 522.3 L79.5 523.0 L78.5 524.3 L77.0 525.0 L75.6 524.1 L74.0 524.0 L74.2 522.5 L73.9 521.0Z" fill="#5e176a" stroke="#000" stroke-width="0.9" stroke-linejoin="round"/>
<path d="M77.0 499.0 L78.2 498.0 L79.8 498.2 L81.0 497.5 L82.5 497.9 L83.9 498.4 L85.0 499.5 L84.5 501.3 L84.0 503.0 L82.0 503.5 L80.0 504.0 L78.5 503.0 L77.0 502.0 L76.9 500.5Z" fill="#5e176a" stroke="#000" stroke-width="0.9" stroke-linejoin="round"/>
<path d="M85.0 502.0 L86.4 501.8 L87.8 501.4 L89.0 500.5 L90.2 501.8 L91.5 503.0 L91.0 504.3 L90.7 505.7 L90.0 507.0 L88.1 506.0 L86.0 506.5 L85.3 505.1 L84.8 503.6Z" fill="#5e176a" stroke="#000" stroke-width="0.9" stroke-linejoin="round"/>
<path d="M82.0 506.0 L84.1 506.4 L86.0 505.5 L86.5 507.4 L87.5 509.0 L85.9 510.2 L85.0 512.0 L83.8 510.7 L82.0 510.5 L81.6 509.0 L82.2 507.5Z" fill="#5e176a" stroke="#000" stroke-width="0.9" stroke-linejoin="round"/>
<path d="M97.0 545.0 L98.6 544.0 L100.5 544.0 L101.7 544.9 L103.1 545.5 L104.5 546.0 L104.8 548.0 L105.0 550.0 L104.1 551.2 L102.4 551.2 L101.5 552.4 L100.0 551.0 L98.0 550.5 L97.7 548.7 L97.3 546.8Z" fill="#5e176a" stroke="#000" stroke-width="0.9" stroke-linejoin="round"/>
<path d="M112.0 540.0 L113.7 540.2 L115.0 539.0 L116.4 539.9 L117.0 541.5 L116.6 543.2 L115.0 544.0 L113.6 543.0 L112.0 543.5 L111.5 541.8Z" fill="#5e176a" stroke="#000" stroke-width="0.9" stroke-linejoin="round"/>
<path d="M120.0 538.0 L121.6 538.1 L122.9 537.7 L124.0 536.5 L125.2 538.0 L127.0 538.5 L126.6 540.4 L125.0 541.5 L123.0 541.1 L121.0 541.0 L120.4 539.5Z" fill="#5e176a" stroke="#000" stroke-width="0.9" stroke-linejoin="round"/>
<path d="M131.0 535.0 L132.6 534.8 L134.0 534.0 L134.6 535.6 L136.0 536.5 L135.1 537.9 L133.5 538.5 L131.0 537.5Z" fill="#5e176a" stroke="#000" stroke-width="0.9" stroke-linejoin="round"/>
<path d="M144.0 529.0 L145.4 528.3 L147.0 528.0 L147.4 529.9 L149.0 531.0 L147.4 531.6 L146.5 533.0 L144.0 532.0 L143.5 530.5Z" fill="#5e176a" stroke="#000" stroke-width="0.9" stroke-linejoin="round"/>
<path d="M68.5 535.5 L70.3 535.6 L72.0 535.0 L73.2 536.3 L73.5 538.0 L72.5 539.4 L71.0 540.0 L68.5 539.0 L68.7 537.2Z" fill="#5e176a" stroke="#000" stroke-width="0.9" stroke-linejoin="round"/>
<path d="M75.5 541.0 L77.3 541.0 L79.0 540.5 L79.5 542.1 L80.5 543.5 L78.6 543.9 L77.5 545.5 L76.0 545.2 L75.0 544.0 L74.6 542.4Z" fill="#5e176a" stroke="#000" stroke-width="0.9" stroke-linejoin="round"/>
<path d="M83.5 542.0 L86.0 541.5 L87.0 544.0 L86.1 545.3 L84.5 545.5 L83.4 543.9Z" fill="#5e176a" stroke="#000" stroke-width="0.9" stroke-linejoin="round"/>
<path d="M90.6 419.8 L93.0 420.5 L93.1 422.3 L93.6 424.1 L93.6 426.0 L93.0 427.6 L93.9 429.3 L93.6 431.0 L93.6 432.6 L92.4 431.5 L91.5 430.0 L91.2 428.5 L91.9 426.9 L90.3 425.6 L90.8 424.0 L90.6 422.6 L90.2 421.2Z" fill="#661e73" stroke="#000" stroke-width="0.9" stroke-linejoin="round"/>
<path d="M97.5 384.0 L100.0 383.0 L100.7 384.3 L101.5 385.5 L100.7 386.7 L99.5 387.5 L97.0 386.5Z" fill="#803f8f" stroke="#000" stroke-width="0.9" stroke-linejoin="round"/>
<path d="M93.0 387.0 L95.5 386.0 L96.9 386.8 L97.0 388.5 L96.1 389.8 L94.5 390.0 L92.5 389.0Z" fill="#803f8f" stroke="#000" stroke-width="0.9" stroke-linejoin="round"/>
<path d="M99.0 390.0 L100.4 389.1 L102.0 389.5 L102.9 390.9 L103.0 392.5 L101.6 393.3 L100.0 393.5 L100.1 391.6Z" fill="#803f8f" stroke="#000" stroke-width="0.9" stroke-linejoin="round"/>
<path d="M95.0 392.5 L97.5 392.0 L98.5 394.5 L96.0 395.5 L95.6 394.0Z" fill="#803f8f" stroke="#000" stroke-width="0.9" stroke-linejoin="round"/>
<ellipse cx="64.9" cy="365.2" rx="1.0" ry="1.0" transform="rotate(0 64.9 365.2)" fill="#000"/>
<ellipse cx="76.3" cy="368.2" rx="0.7" ry="0.6" transform="rotate(0 76.3 368.2)" fill="#000"/>
<ellipse cx="83.7" cy="364.3" rx="2.2" ry="0.7" transform="rotate(35 83.7 364.3)" fill="#000"/>
<ellipse cx="87.7" cy="366.7" rx="1.2" ry="0.9" transform="rotate(20 87.7 366.7)" fill="#000"/>
<ellipse cx="90.6" cy="371.7" rx="1.3" ry="0.8" transform="rotate(10 90.6 371.7)" fill="#000"/>
<ellipse cx="81.7" cy="386.5" rx="1.2" ry="1.1" transform="rotate(0 81.7 386.5)" fill="#000"/>
<ellipse cx="84.7" cy="389.5" rx="1.3" ry="0.9" transform="rotate(30 84.7 389.5)" fill="#000"/>
<ellipse cx="76.3" cy="391.5" rx="0.9" ry="0.7" transform="rotate(0 76.3 391.5)" fill="#000"/>
<ellipse cx="76.8" cy="396.4" rx="1.2" ry="1.1" transform="rotate(0 76.8 396.4)" fill="#000"/>
<ellipse cx="91.5" cy="382.5" rx="1.0" ry="0.8" transform="rotate(0 91.5 382.5)" fill="#000"/>
<ellipse cx="88.5" cy="394.5" rx="0.9" ry="0.7" transform="rotate(0 88.5 394.5)" fill="#000"/>
<ellipse cx="77.0" cy="397.0" rx="1.4" ry="1.1" transform="rotate(0 77.0 397.0)" fill="#000"/>
<ellipse cx="69.6" cy="402.0" rx="0.7" ry="0.6" transform="rotate(0 69.6 402.0)" fill="#000"/>
<ellipse cx="63.0" cy="419.7" rx="0.9" ry="0.6" transform="rotate(0 63.0 419.7)" fill="#000"/>
<ellipse cx="65.9" cy="419.2" rx="0.8" ry="0.6" transform="rotate(0 65.9 419.2)" fill="#000"/>
<ellipse cx="70.5" cy="418.0" rx="0.8" ry="0.6" transform="rotate(0 70.5 418.0)" fill="#000"/>
<ellipse cx="80.0" cy="417.0" rx="1.2" ry="0.6" transform="rotate(-20 80.0 417.0)" fill="#000"/>
<ellipse cx="84.7" cy="414.6" rx="1.0" ry="0.8" transform="rotate(0 84.7 414.6)" fill="#000"/>
<ellipse cx="86.0" cy="421.9" rx="0.8" ry="0.7" transform="rotate(0 86.0 421.9)" fill="#000"/>
<ellipse cx="87.2" cy="425.5" rx="0.9" ry="0.8" transform="rotate(0 87.2 425.5)" fill="#000"/>
<ellipse cx="79.0" cy="440.5" rx="1.6" ry="0.9" transform="rotate(10 79.0 440.5)" fill="#000"/>
<ellipse cx="76.0" cy="446.0" rx="0.8" ry="0.7" transform="rotate(0 76.0 446.0)" fill="#000"/>
<ellipse cx="85.5" cy="437.0" rx="0.8" ry="0.7" transform="rotate(0 85.5 437.0)" fill="#000"/>
<ellipse cx="88.0" cy="438.5" rx="0.9" ry="0.8" transform="rotate(0 88.0 438.5)" fill="#000"/>
<ellipse cx="86.3" cy="452.5" rx="0.9" ry="0.8" transform="rotate(0 86.3 452.5)" fill="#000"/>
<ellipse cx="95.0" cy="449.0" rx="0.8" ry="0.6" transform="rotate(0 95.0 449.0)" fill="#000"/>
<ellipse cx="86.6" cy="451.8" rx="0.8" ry="0.8" transform="rotate(0 86.6 451.8)" fill="#000"/>
<ellipse cx="79.7" cy="457.9" rx="0.8" ry="0.7" transform="rotate(0 79.7 457.9)" fill="#000"/>
<ellipse cx="93.5" cy="460.4" rx="2.8" ry="0.7" transform="rotate(5 93.5 460.4)" fill="#000"/>
<ellipse cx="81.7" cy="470.8" rx="0.9" ry="0.8" transform="rotate(0 81.7 470.8)" fill="#000"/>
<ellipse cx="88.6" cy="473.8" rx="1.4" ry="1.1" transform="rotate(-30 88.6 473.8)" fill="#000"/>
<ellipse cx="77.0" cy="486.6" rx="1.3" ry="0.9" transform="rotate(-30 77.0 486.6)" fill="#000"/>
<ellipse cx="82.0" cy="490.6" rx="0.8" ry="0.7" transform="rotate(0 82.0 490.6)" fill="#000"/>
<ellipse cx="83.5" cy="494.6" rx="0.8" ry="0.6" transform="rotate(0 83.5 494.6)" fill="#000"/>
<ellipse cx="72.3" cy="493.6" rx="0.7" ry="0.6" transform="rotate(0 72.3 493.6)" fill="#000"/>
<ellipse cx="73.3" cy="500.0" rx="0.8" ry="0.7" transform="rotate(0 73.3 500.0)" fill="#000"/>
<ellipse cx="52.0" cy="520.0" rx="1.6" ry="1.2" transform="rotate(-40 52.0 520.0)" fill="#000"/>
<ellipse cx="70.0" cy="530.0" rx="0.9" ry="0.7" transform="rotate(0 70.0 530.0)" fill="#000"/>
<ellipse cx="74.0" cy="533.0" rx="1.0" ry="0.7" transform="rotate(0 74.0 533.0)" fill="#000"/>
<ellipse cx="69.0" cy="545.0" rx="0.8" ry="0.7" transform="rotate(0 69.0 545.0)" fill="#000"/>
<ellipse cx="73.0" cy="547.0" rx="0.9" ry="0.6" transform="rotate(0 73.0 547.0)" fill="#000"/>
<ellipse cx="80.0" cy="548.0" rx="0.8" ry="0.6" transform="rotate(0 80.0 548.0)" fill="#000"/>
<ellipse cx="65.0" cy="550.0" rx="0.7" ry="0.6" transform="rotate(0 65.0 550.0)" fill="#000"/>
<ellipse cx="55.0" cy="547.0" rx="0.6" ry="0.5" transform="rotate(0 55.0 547.0)" fill="#000"/>
<ellipse cx="92.0" cy="545.0" rx="0.8" ry="0.6" transform="rotate(0 92.0 545.0)" fill="#000"/>
<ellipse cx="108.0" cy="548.0" rx="1.2" ry="0.9" transform="rotate(0 108.0 548.0)" fill="#000"/>
<ellipse cx="114.0" cy="547.0" rx="0.8" ry="0.6" transform="rotate(0 114.0 547.0)" fill="#000"/>
<ellipse cx="119.0" cy="545.0" rx="0.9" ry="0.7" transform="rotate(0 119.0 545.0)" fill="#000"/>
<ellipse cx="127.0" cy="543.0" rx="0.8" ry="0.6" transform="rotate(0 127.0 543.0)" fill="#000"/>
<ellipse cx="135.0" cy="541.0" rx="0.7" ry="0.6" transform="rotate(0 135.0 541.0)" fill="#000"/>
<ellipse cx="140.0" cy="538.0" rx="0.9" ry="0.7" transform="rotate(0 140.0 538.0)" fill="#000"/>
<ellipse cx="152.0" cy="532.0" rx="0.9" ry="0.7" transform="rotate(0 152.0 532.0)" fill="#000"/>
<ellipse cx="155.0" cy="528.0" rx="0.8" ry="0.6" transform="rotate(0 155.0 528.0)" fill="#000"/>
<ellipse cx="170.0" cy="519.0" rx="0.9" ry="0.7" transform="rotate(0 170.0 519.0)" fill="#000"/>
<ellipse cx="174.0" cy="523.0" rx="1.0" ry="0.8" transform="rotate(0 174.0 523.0)" fill="#000"/>
<ellipse cx="178.0" cy="526.0" rx="0.8" ry="0.6" transform="rotate(0 178.0 526.0)" fill="#000"/>
<ellipse cx="181.0" cy="522.0" rx="0.9" ry="0.7" transform="rotate(0 181.0 522.0)" fill="#000"/>
<ellipse cx="186.0" cy="527.0" rx="0.7" ry="0.6" transform="rotate(0 186.0 527.0)" fill="#000"/>
<ellipse cx="196.0" cy="523.0" rx="0.6" ry="0.5" transform="rotate(0 196.0 523.0)" fill="#000"/>
<ellipse cx="204.0" cy="507.0" rx="0.6" ry="0.5" transform="rotate(0 204.0 507.0)" fill="#000"/>
<ellipse cx="210.0" cy="505.0" rx="0.5" ry="0.5" transform="rotate(0 210.0 505.0)" fill="#000"/>
<ellipse cx="96.0" cy="540.0" rx="1.2" ry="1.0" transform="rotate(0 96.0 540.0)" fill="#000"/>
<ellipse cx="103.0" cy="541.0" rx="0.8" ry="0.7" transform="rotate(0 103.0 541.0)" fill="#000"/>
<ellipse cx="116.5" cy="527.0" rx="1.3" ry="0.9" transform="rotate(0 116.5 527.0)" fill="#000"/>
<ellipse cx="132.0" cy="523.0" rx="1.0" ry="0.8" transform="rotate(0 132.0 523.0)" fill="#000"/>
<ellipse cx="76.0" cy="506.0" rx="0.9" ry="0.7" transform="rotate(0 76.0 506.0)" fill="#000"/>
<ellipse cx="70.0" cy="505.0" rx="0.7" ry="0.6" transform="rotate(0 70.0 505.0)" fill="#000"/>
<ellipse cx="87.0" cy="548.0" rx="0.8" ry="0.6" transform="rotate(0 87.0 548.0)" fill="#000"/>
<ellipse cx="89.4" cy="559.2" rx="1.5" ry="1.0" transform="rotate(-30 89.4 559.2)" fill="#000"/>
<ellipse cx="115.5" cy="559.0" rx="0.8" ry="0.8" transform="rotate(0 115.5 559.0)" fill="#000"/>
<ellipse cx="132.3" cy="555.6" rx="1.5" ry="1.1" transform="rotate(-20 132.3 555.6)" fill="#000"/>
<ellipse cx="103.2" cy="561.8" rx="0.4" ry="0.4" transform="rotate(0 103.2 561.8)" fill="#000"/>
<ellipse cx="90.4" cy="571.5" rx="0.4" ry="0.4" transform="rotate(0 90.4 571.5)" fill="#000"/>
<ellipse cx="116.8" cy="583.5" rx="0.8" ry="0.8" transform="rotate(0 116.8 583.5)" fill="#000"/>
<ellipse cx="94.5" cy="379.6" rx="0.5283787874742435" ry="0.6242666876844392" transform="rotate(91.33843197409564 94.5 379.6)" fill="#000"/>
<ellipse cx="103.4" cy="390.7" rx="0.9060821617998973" ry="1.08219132919469" transform="rotate(154.52432262876232 103.4 390.7)" fill="#000"/>
<ellipse cx="99.5" cy="382.0" rx="0.9103772768244055" ry="0.8291851016946381" transform="rotate(98.5940038277204 99.5 382.0)" fill="#000"/>
<ellipse cx="87.8" cy="384.9" rx="0.7173552166624212" ry="0.6898882822780815" transform="rotate(142.9883066740484 87.8 384.9)" fill="#000"/>
<ellipse cx="96.0" cy="383.4" rx="1.1159278928651157" ry="0.7438973778585887" transform="rotate(131.30015209905918 96.0 383.4)" fill="#000"/>
<ellipse cx="89.7" cy="378.9" rx="1.1620611467175304" ry="0.92342814965961" transform="rotate(157.58600612955988 89.7 378.9)" fill="#000"/>
<ellipse cx="92.8" cy="390.8" rx="1.5245923845877303" ry="0.9799758353844061" transform="rotate(85.337700735536 92.8 390.8)" fill="#000"/>
<ellipse cx="94.9" cy="379.3" rx="1.3319407984131322" ry="0.8353466408957516" transform="rotate(147.94646158974868 94.9 379.3)" fill="#000"/>
<ellipse cx="88.5" cy="390.1" rx="1.4381905879533483" ry="0.964459878376806" transform="rotate(50.11579161250148 88.5 390.1)" fill="#000"/>
<ellipse cx="87.5" cy="385.9" rx="0.9836215724838985" ry="1.0682984029729936" transform="rotate(31.719191128266658 87.5 385.9)" fill="#000"/>
<ellipse cx="86.1" cy="390.5" rx="1.0521999344473896" ry="0.8678702428519834" transform="rotate(111.16669489364298 86.1 390.5)" fill="#000"/>
<ellipse cx="95.3" cy="379.2" rx="1.4021015476883656" ry="0.9349771180295546" transform="rotate(143.61716181538188 95.3 379.2)" fill="#000"/>
<ellipse cx="93.4" cy="381.3" rx="0.666303433868391" ry="0.6105421595402762" transform="rotate(22.111601537195085 93.4 381.3)" fill="#000"/>
<ellipse cx="100.5" cy="399.8" rx="0.619280884514761" ry="0.7128759923122021" transform="rotate(18.39377101467032 100.5 399.8)" fill="#000"/>
<ellipse cx="85.3" cy="383.8" rx="0.38556709287731894" ry="0.4710789578948236" transform="rotate(171.17740311744637 85.3 383.8)" fill="#000"/>
<ellipse cx="90.8" cy="381.2" rx="0.4526649753319512" ry="0.37028186856662637" transform="rotate(176.1302236894151 90.8 381.2)" fill="#000"/>
<ellipse cx="100.9" cy="393.3" rx="0.5835442122937843" ry="0.6250248438208841" transform="rotate(138.94882351236564 100.9 393.3)" fill="#000"/>
<ellipse cx="104.5" cy="396.8" rx="1.3414416915710792" ry="0.96374970749403" transform="rotate(40.81310820568528 104.5 396.8)" fill="#000"/>
<ellipse cx="103.7" cy="387.8" rx="1.706369193303631" ry="1.0910285436521452" transform="rotate(65.6344593651359 103.7 387.8)" fill="#000"/>
<ellipse cx="93.7" cy="397.8" rx="0.9383692794371247" ry="0.7096050696961537" transform="rotate(143.93587407293882 93.7 397.8)" fill="#000"/>
<ellipse cx="102.3" cy="395.2" rx="0.6680092640828492" ry="0.7085245584455002" transform="rotate(142.04437758364975 102.3 395.2)" fill="#000"/>
<ellipse cx="85.0" cy="395.6" rx="0.7252220183999047" ry="0.6468788713020861" transform="rotate(170.42346116368074 85.0 395.6)" fill="#000"/>
<ellipse cx="99.2" cy="381.2" rx="1.4388130963193455" ry="1.0852294575852728" transform="rotate(63.07335218835052 99.2 381.2)" fill="#000"/>
<ellipse cx="104.1" cy="392.3" rx="1.20465067582142" ry="1.05021860379307" transform="rotate(156.91372703809273 104.1 392.3)" fill="#000"/>
<ellipse cx="99.8" cy="382.6" rx="0.5654130339223509" ry="0.5697249895026641" transform="rotate(105.55869026987311 99.8 382.6)" fill="#000"/>
<ellipse cx="85.6" cy="388.1" rx="1.1685776536138046" ry="1.02822258090653" transform="rotate(165.18979518167959 85.6 388.1)" fill="#000"/>
<ellipse cx="90.0" cy="389.7" rx="0.41939738321986314" ry="0.364028650929065" transform="rotate(32.959419708995775 90.0 389.7)" fill="#000"/>
<ellipse cx="96.8" cy="390.2" rx="0.9192805010836137" ry="0.7387615345272777" transform="rotate(141.16904556578558 96.8 390.2)" fill="#000"/>
<ellipse cx="98.2" cy="389.2" rx="1.4075833259100097" ry="0.9199948569425125" transform="rotate(79.784710843939 98.2 389.2)" fill="#000"/>
<ellipse cx="90.4" cy="393.2" rx="0.886779315820772" ry="0.7499640781843782" transform="rotate(169.4702029569301 90.4 393.2)" fill="#000"/>
<ellipse cx="89.6" cy="405.1" rx="0.7728297174826156" ry="0.8451923863935282" transform="rotate(158.90991005827357 89.6 405.1)" fill="#000"/>
<ellipse cx="87.5" cy="405.5" rx="0.7892255546200103" ry="0.7367037933532694" transform="rotate(35.23403990410761 87.5 405.5)" fill="#000"/>
<ellipse cx="92.5" cy="442.5" rx="0.4339211828455927" ry="0.42858469570462365" transform="rotate(7.125874184532178 92.5 442.5)" fill="#000"/>
<ellipse cx="90.3" cy="429.7" rx="0.35287261747916593" ry="0.41709665588510575" transform="rotate(123.87700284273866 90.3 429.7)" fill="#000"/>
<ellipse cx="91.0" cy="433.4" rx="0.6130111833513967" ry="0.41280689467588855" transform="rotate(11.992056277403062 91.0 433.4)" fill="#000"/>
<ellipse cx="88.5" cy="422.8" rx="1.17881038903296" ry="0.7647980888435264" transform="rotate(48.21475440194175 88.5 422.8)" fill="#000"/>
<ellipse cx="90.8" cy="402.3" rx="0.8062641430246218" ry="0.6741331893383121" transform="rotate(150.23050799944008 90.8 402.3)" fill="#000"/>
<ellipse cx="84.4" cy="411.1" rx="0.6088909402498452" ry="0.41336365453094803" transform="rotate(156.69680782459469 84.4 411.1)" fill="#000"/>
<ellipse cx="82.1" cy="412.6" rx="0.6652698719004362" ry="0.5697938694352516" transform="rotate(28.355929169257024 82.1 412.6)" fill="#000"/>
<ellipse cx="74.7" cy="411.5" rx="1.3360120306604237" ry="1.0794672484597823" transform="rotate(44.00036890954084 74.7 411.5)" fill="#000"/>
<ellipse cx="84.8" cy="434.8" rx="1.121971210857632" ry="1.0093180201755425" transform="rotate(58.704255742742916 84.8 434.8)" fill="#000"/>
<ellipse cx="86.8" cy="404.2" rx="1.0690761679563667" ry="0.7282782884415957" transform="rotate(144.84196903477874 86.8 404.2)" fill="#000"/>
<ellipse cx="87.3" cy="430.5" rx="1.1679500639938318" ry="0.8621715271253756" transform="rotate(41.38932969656963 87.3 430.5)" fill="#000"/>
<ellipse cx="87.6" cy="429.0" rx="1.102071794687998" ry="0.8196698441995895" transform="rotate(88.07297667475581 87.6 429.0)" fill="#000"/>
<ellipse cx="84.7" cy="425.7" rx="0.7202019730001936" ry="0.8444746169782624" transform="rotate(132.62189913760508 84.7 425.7)" fill="#000"/>
<ellipse cx="90.9" cy="397.0" rx="1.5192587591693842" ry="0.9649232695249013" transform="rotate(80.90117453719714 90.9 397.0)" fill="#000"/>
<ellipse cx="87.1" cy="426.0" rx="0.8644340270475889" ry="0.8775027790955559" transform="rotate(161.58702520807194 87.1 426.0)" fill="#000"/>
<ellipse cx="87.7" cy="396.1" rx="0.8775148484574815" ry="0.9793330959878465" transform="rotate(166.75179477954956 87.7 396.1)" fill="#000"/>
<ellipse cx="86.8" cy="433.2" rx="1.3081985806723926" ry="1.0555244737536813" transform="rotate(129.52306475120665 86.8 433.2)" fill="#000"/>
<ellipse cx="89.9" cy="425.3" rx="1.6446076232423152" ry="1.0296945426585205" transform="rotate(80.99287984472619 89.9 425.3)" fill="#000"/>
<ellipse cx="83.8" cy="434.2" rx="0.8601443887010672" ry="0.6929937814455669" transform="rotate(7.118326576395974 83.8 434.2)" fill="#000"/>
<ellipse cx="90.4" cy="434.1" rx="0.4466151808662138" ry="0.4459751361597668" transform="rotate(114.53239752901713 90.4 434.1)" fill="#000"/>
<ellipse cx="91.6" cy="434.0" rx="0.6978693593801633" ry="0.7064781650506577" transform="rotate(44.47050918095225 91.6 434.0)" fill="#000"/>
<ellipse cx="82.5" cy="407.7" rx="1.088745703248946" ry="0.9043469163318149" transform="rotate(36.93934566695399 82.5 407.7)" fill="#000"/>
<ellipse cx="84.6" cy="397.9" rx="0.6967948220968196" ry="0.6339645622621868" transform="rotate(59.7055481347317 84.6 397.9)" fill="#000"/>
<ellipse cx="80.4" cy="411.5" rx="0.5994061624468318" ry="0.5873627233741511" transform="rotate(0.6788908681494754 80.4 411.5)" fill="#000"/>
<ellipse cx="78.2" cy="415.2" rx="1.610305821441862" ry="1.0126059698232717" transform="rotate(47.680436912389716 78.2 415.2)" fill="#000"/>
<ellipse cx="78.7" cy="418.0" rx="0.49836546802995535" ry="0.499392568167659" transform="rotate(44.16125344031096 78.7 418.0)" fill="#000"/>
<ellipse cx="79.1" cy="415.3" rx="1.3196162399885256" ry="1.09433654497908" transform="rotate(41.64856997829167 79.1 415.3)" fill="#000"/>
<ellipse cx="86.7" cy="434.5" rx="0.5034831984332825" ry="0.42674931551045975" transform="rotate(147.43848712444634 86.7 434.5)" fill="#000"/>
<ellipse cx="73.5" cy="508.4" rx="1.1500776292690802" ry="1.0476303108508693" transform="rotate(155.90291911361084 73.5 508.4)" fill="#000"/>
<ellipse cx="90.6" cy="506.7" rx="1.033021775281268" ry="0.7971102992615072" transform="rotate(39.176175942583455 90.6 506.7)" fill="#000"/>
<ellipse cx="95.6" cy="468.7" rx="0.7001617423545886" ry="0.6178862870526316" transform="rotate(155.56434734165126 95.6 468.7)" fill="#000"/>
<ellipse cx="91.8" cy="474.4" rx="0.6470069097023898" ry="0.6956796767547047" transform="rotate(2.670187423416752 91.8 474.4)" fill="#000"/>
<ellipse cx="84.0" cy="488.4" rx="0.5408699598269677" ry="0.41677333399391453" transform="rotate(66.75185242820388 84.0 488.4)" fill="#000"/>
<ellipse cx="91.3" cy="508.0" rx="0.6917159351217942" ry="0.44498776590801187" transform="rotate(175.59838491904551 91.3 508.0)" fill="#000"/>
<ellipse cx="94.9" cy="473.3" rx="1.189985809584021" ry="0.8152572256785812" transform="rotate(28.84970691247578 94.9 473.3)" fill="#000"/>
<ellipse cx="90.1" cy="496.8" rx="0.5712279683490082" ry="0.4846767757676319" transform="rotate(19.27369290651171 90.1 496.8)" fill="#000"/>
<ellipse cx="89.3" cy="496.7" rx="0.4700649391394616" ry="0.3906986982676697" transform="rotate(68.01527334372861 89.3 496.7)" fill="#000"/>
<ellipse cx="95.6" cy="458.2" rx="1.520206318724788" ry="1.0970931370600523" transform="rotate(146.69810071383304 95.6 458.2)" fill="#000"/>
<ellipse cx="90.9" cy="505.8" rx="0.8614736817365242" ry="0.6131730490016452" transform="rotate(28.57814087190493 90.9 505.8)" fill="#000"/>
<ellipse cx="94.0" cy="466.5" rx="0.5500271471815584" ry="0.4576792213367003" transform="rotate(165.58340613856438 94.0 466.5)" fill="#000"/>
<ellipse cx="72.7" cy="506.2" rx="0.9551519369971451" ry="1.0215598276453512" transform="rotate(141.27647673771793 72.7 506.2)" fill="#000"/>
<ellipse cx="93.3" cy="483.3" rx="0.8942039762181271" ry="1.0119012014722513" transform="rotate(178.73182949741354 93.3 483.3)" fill="#000"/>
<ellipse cx="91.1" cy="465.9" rx="0.8520836490468829" ry="0.7830203839365139" transform="rotate(137.63505454845276 91.1 465.9)" fill="#000"/>
<ellipse cx="91.8" cy="465.2" rx="1.3803940528044276" ry="1.0880413983220043" transform="rotate(119.46573556386035 91.8 465.2)" fill="#000"/>
<ellipse cx="82.9" cy="503.7" rx="0.6882812551367583" ry="0.5204447303666888" transform="rotate(4.012114031543912 82.9 503.7)" fill="#000"/>
<ellipse cx="71.9" cy="506.2" rx="0.40499609005916215" ry="0.46198481051727996" transform="rotate(114.87781737777956 71.9 506.2)" fill="#000"/>
<ellipse cx="86.6" cy="498.8" rx="0.6054422780500731" ry="0.582036868466626" transform="rotate(8.728339962147478 86.6 498.8)" fill="#000"/>
<ellipse cx="81.5" cy="494.5" rx="0.4593208613273729" ry="0.5194613117535253" transform="rotate(41.81340378465917 81.5 494.5)" fill="#000"/>
<ellipse cx="89.7" cy="491.7" rx="0.8950666474504766" ry="0.88376317053586" transform="rotate(99.68179644839672 89.7 491.7)" fill="#000"/>
<ellipse cx="80.6" cy="497.3" rx="0.7211312599099922" ry="0.5489721840002592" transform="rotate(173.72534603589799 80.6 497.3)" fill="#000"/>
<ellipse cx="89.6" cy="469.6" rx="0.591246879975953" ry="0.5964152943411707" transform="rotate(163.3623109262215 89.6 469.6)" fill="#000"/>
<ellipse cx="86.3" cy="491.6" rx="1.2746500043321498" ry="1.084260057302318" transform="rotate(151.14802819126317 86.3 491.6)" fill="#000"/>
<ellipse cx="80.7" cy="493.5" rx="0.5631406587442596" ry="0.5808131258331373" transform="rotate(112.0719725292907 80.7 493.5)" fill="#000"/>
<ellipse cx="94.9" cy="470.7" rx="0.30961943847525397" ry="0.3715494708951741" transform="rotate(124.67253860710598 94.9 470.7)" fill="#000"/>
<ellipse cx="86.4" cy="491.8" rx="0.508091106231224" ry="0.39932395102361945" transform="rotate(65.41310083773875 86.4 491.8)" fill="#000"/>
<ellipse cx="91.7" cy="499.2" rx="0.5968886030005184" ry="0.39946131378252764" transform="rotate(164.5935801269439 91.7 499.2)" fill="#000"/>
<ellipse cx="92.6" cy="498.7" rx="1.2644997828637428" ry="0.9687952016559975" transform="rotate(51.72571618766159 92.6 498.7)" fill="#000"/>
<ellipse cx="77.3" cy="507.8" rx="1.2797752621652931" ry="0.9885329940597458" transform="rotate(5.576644852981372 77.3 507.8)" fill="#000"/>
<ellipse cx="71.8" cy="521.2" rx="0.8319914431916073" ry="0.6100862503178883" transform="rotate(96.81849794013452 71.8 521.2)" fill="#000"/>
<ellipse cx="61.7" cy="540.7" rx="0.421331924458661" ry="0.3532712519977447" transform="rotate(88.46713725579849 61.7 540.7)" fill="#000"/>
<ellipse cx="82.1" cy="516.3" rx="0.9768863359559069" ry="0.6459495944446421" transform="rotate(15.511122763033196 82.1 516.3)" fill="#000"/>
<ellipse cx="74.1" cy="526.9" rx="1.2047518002965698" ry="0.9147420618981994" transform="rotate(62.72737998280371 74.1 526.9)" fill="#000"/>
<ellipse cx="67.7" cy="504.3" rx="1.1797784727587242" ry="0.846575133243963" transform="rotate(30.519096131386487 67.7 504.3)" fill="#000"/>
<ellipse cx="73.1" cy="541.4" rx="0.5199436327363737" ry="0.4445427846203767" transform="rotate(159.32259414629257 73.1 541.4)" fill="#000"/>
<ellipse cx="85.8" cy="545.6" rx="0.4660855847936398" ry="0.4669892902007363" transform="rotate(58.7812631467068 85.8 545.6)" fill="#000"/>
<ellipse cx="77.1" cy="504.7" rx="0.7773473219763942" ry="0.49195505860459887" transform="rotate(131.1718144944799 77.1 504.7)" fill="#000"/>
<ellipse cx="99.2" cy="542.7" rx="0.647084031956986" ry="0.676192252005379" transform="rotate(114.83655530253387 99.2 542.7)" fill="#000"/>
<ellipse cx="90.0" cy="536.6" rx="0.9649253220431531" ry="0.8242833038580415" transform="rotate(25.52625496907859 90.0 536.6)" fill="#000"/>
<ellipse cx="81.0" cy="519.3" rx="1.179490734895985" ry="1.0310029159461593" transform="rotate(103.31604604226968 81.0 519.3)" fill="#000"/>
<ellipse cx="63.0" cy="538.3" rx="1.2655877819079018" ry="0.9305362666492855" transform="rotate(153.4399177219652 63.0 538.3)" fill="#000"/>
<ellipse cx="72.1" cy="541.9" rx="0.822251145272656" ry="0.8222110283921942" transform="rotate(76.24437218080347 72.1 541.9)" fill="#000"/>
<ellipse cx="73.8" cy="532.3" rx="1.3224689519164394" ry="0.8564337551282898" transform="rotate(32.95117364085462 73.8 532.3)" fill="#000"/>
<ellipse cx="83.4" cy="541.7" rx="1.1332422588017939" ry="0.7173801230724451" transform="rotate(6.86619524076699 83.4 541.7)" fill="#000"/>
<ellipse cx="78.1" cy="504.7" rx="1.2827573804733323" ry="1.0554407868523796" transform="rotate(18.195659164255172 78.1 504.7)" fill="#000"/>
<ellipse cx="79.6" cy="527.5" rx="0.962762247152844" ry="0.7341433712249983" transform="rotate(149.217357833568 79.6 527.5)" fill="#000"/>
<ellipse cx="84.8" cy="518.5" rx="0.7013840942534368" ry="0.4417959701033671" transform="rotate(63.98514028461564 84.8 518.5)" fill="#000"/>
<ellipse cx="89.3" cy="543.6" rx="0.8770857368122181" ry="0.7018689683202615" transform="rotate(40.67762528833059 89.3 543.6)" fill="#000"/>
<ellipse cx="82.7" cy="544.1" rx="0.7259455206844838" ry="0.7010756622784141" transform="rotate(98.68818817235048 82.7 544.1)" fill="#000"/>
<ellipse cx="70.1" cy="510.2" rx="0.39258903889050534" ry="0.4894172933785374" transform="rotate(129.92209392640237 70.1 510.2)" fill="#000"/>
<ellipse cx="69.4" cy="550.7" rx="0.5743950961588353" ry="0.39279715429216583" transform="rotate(163.04507060681402 69.4 550.7)" fill="#000"/>
<ellipse cx="94.9" cy="542.3" rx="0.6744463747284363" ry="0.4980278828803166" transform="rotate(95.54318602495421 94.9 542.3)" fill="#000"/>
<ellipse cx="75.7" cy="498.5" rx="0.5468153602094162" ry="0.458315628210576" transform="rotate(89.67161871217897 75.7 498.5)" fill="#000"/>
<ellipse cx="79.0" cy="534.9" rx="0.7164666318395148" ry="0.6312184081924006" transform="rotate(172.91043700032205 79.0 534.9)" fill="#000"/>
<ellipse cx="82.5" cy="496.7" rx="1.3318665110378525" ry="0.8619410515010801" transform="rotate(59.482041489689976 82.5 496.7)" fill="#000"/>
<ellipse cx="74.8" cy="526.5" rx="0.5833115051016952" ry="0.5080439654224611" transform="rotate(76.02994803550058 74.8 526.5)" fill="#000"/>
<ellipse cx="67.2" cy="513.0" rx="1.1791747354308473" ry="0.8261156649565857" transform="rotate(7.20919766871706 67.2 513.0)" fill="#000"/>
<ellipse cx="86.7" cy="548.1" rx="0.4028915862787215" ry="0.38727468884633154" transform="rotate(1.117921980853387 86.7 548.1)" fill="#000"/>
<ellipse cx="89.9" cy="549.6" rx="1.0574609750251827" ry="0.8125243590048605" transform="rotate(125.35263153942282 89.9 549.6)" fill="#000"/>
<ellipse cx="89.2" cy="549.8" rx="0.9137140885596444" ry="0.6266519889529165" transform="rotate(141.57720875503318 89.2 549.8)" fill="#000"/>
<ellipse cx="79.0" cy="510.5" rx="0.7028416671271954" ry="0.6663385300016449" transform="rotate(77.52151147976427 79.0 510.5)" fill="#000"/>
<ellipse cx="79.2" cy="497.4" rx="1.2070097694442614" ry="0.9577488628462226" transform="rotate(165.35334358242693 79.2 497.4)" fill="#000"/>
<ellipse cx="80.4" cy="551.3" rx="0.798395666653601" ry="0.7065863097266479" transform="rotate(18.36777549182214 80.4 551.3)" fill="#000"/>
<ellipse cx="86.3" cy="546.3" rx="0.5383800920702345" ry="0.4132172094274869" transform="rotate(127.66232706351144 86.3 546.3)" fill="#000"/>
<ellipse cx="83.2" cy="544.0" rx="0.807022558097057" ry="0.5832969492999547" transform="rotate(29.879466387524122 83.2 544.0)" fill="#000"/>
<ellipse cx="79.6" cy="521.3" rx="0.6595305986267728" ry="0.4586798960325603" transform="rotate(65.38780727759496 79.6 521.3)" fill="#000"/>
<ellipse cx="72.1" cy="518.1" rx="1.5114931237000548" ry="1.058691456943643" transform="rotate(102.02697739079144 72.1 518.1)" fill="#000"/>
<ellipse cx="81.1" cy="553.6" rx="0.8383955218745194" ry="0.8008529817645902" transform="rotate(77.1411358993482 81.1 553.6)" fill="#000"/>
<ellipse cx="95.0" cy="543.4" rx="0.3549294154263484" ry="0.35126375251370967" transform="rotate(76.05000278585015 95.0 543.4)" fill="#000"/>
<ellipse cx="80.2" cy="544.0" rx="0.5598283103598386" ry="0.3817224317520192" transform="rotate(146.11543476812724 80.2 544.0)" fill="#000"/>
<ellipse cx="65.1" cy="546.1" rx="1.3219860068604632" ry="0.8634790974317779" transform="rotate(62.43358415529376 65.1 546.1)" fill="#000"/>
<ellipse cx="90.3" cy="507.0" rx="1.0353945460426717" ry="1.0487920476995958" transform="rotate(109.2416767057845 90.3 507.0)" fill="#000"/>
<ellipse cx="64.2" cy="540.1" rx="0.604577352274913" ry="0.6947880924151943" transform="rotate(145.18349113999992 64.2 540.1)" fill="#000"/>
<ellipse cx="89.1" cy="509.0" rx="1.5423037156986046" ry="1.022696826567174" transform="rotate(93.93453417553532 89.1 509.0)" fill="#000"/>
<ellipse cx="85.7" cy="516.8" rx="0.7912209298275081" ry="0.6518684691543051" transform="rotate(26.82162377487772 85.7 516.8)" fill="#000"/>
<ellipse cx="70.0" cy="501.4" rx="0.8699008435945702" ry="0.9405106612392112" transform="rotate(107.49823008078769 70.0 501.4)" fill="#000"/>
<ellipse cx="79.2" cy="510.7" rx="1.0424867624628826" ry="0.6694624880167157" transform="rotate(138.10481329829713 79.2 510.7)" fill="#000"/>
<ellipse cx="97.5" cy="549.6" rx="0.8927141679446843" ry="0.7985511368504282" transform="rotate(21.584886216727977 97.5 549.6)" fill="#000"/>
<ellipse cx="79.1" cy="533.4" rx="0.9498738709233644" ry="0.8522911159684938" transform="rotate(80.70181781757618 79.1 533.4)" fill="#000"/>
<ellipse cx="116.0" cy="537.0" rx="0.42898927434968936" ry="0.5162913943014517" transform="rotate(46.055194358603146 116.0 537.0)" fill="#000"/>
<ellipse cx="135.2" cy="535.1" rx="0.8191333486096418" ry="0.9779134280184845" transform="rotate(141.5471830397857 135.2 535.1)" fill="#000"/>
<ellipse cx="167.7" cy="517.0" rx="0.8121947849883404" ry="0.9184233493312194" transform="rotate(58.30531423467279 167.7 517.0)" fill="#000"/>
<ellipse cx="144.7" cy="510.9" rx="1.2788402121392957" ry="0.9816869837515213" transform="rotate(81.4200920985343 144.7 510.9)" fill="#000"/>
<ellipse cx="134.0" cy="532.7" rx="0.7506955275398858" ry="0.8211373636463588" transform="rotate(39.89716136821591 134.0 532.7)" fill="#000"/>
<ellipse cx="155.3" cy="512.3" rx="0.6209553278197186" ry="0.5497975898064469" transform="rotate(28.023562912461216 155.3 512.3)" fill="#000"/>
<ellipse cx="127.1" cy="533.2" rx="0.5675946033579202" ry="0.47584839348125535" transform="rotate(57.25203366661992 127.1 533.2)" fill="#000"/>
<ellipse cx="197.9" cy="509.7" rx="0.8247602230860515" ry="0.8512100092613792" transform="rotate(85.94196371995517 197.9 509.7)" fill="#000"/>
<ellipse cx="172.6" cy="516.8" rx="0.5233448114710962" ry="0.3620213950543268" transform="rotate(61.36307293132838 172.6 516.8)" fill="#000"/>
<ellipse cx="157.1" cy="512.1" rx="1.2704785372341572" ry="0.9278343075723589" transform="rotate(35.40807268110926 157.1 512.1)" fill="#000"/>
<ellipse cx="160.9" cy="522.9" rx="0.6508089613516306" ry="0.5045239340721117" transform="rotate(127.39636878013637 160.9 522.9)" fill="#000"/>
<ellipse cx="181.1" cy="518.1" rx="1.1924775434985666" ry="0.9983790014626969" transform="rotate(2.780124945290521 181.1 518.1)" fill="#000"/>
<ellipse cx="191.0" cy="522.3" rx="0.5215732346503386" ry="0.5496946590859815" transform="rotate(149.69210831395097 191.0 522.3)" fill="#000"/>
<ellipse cx="171.1" cy="519.4" rx="0.5931632702315026" ry="0.39590600333106696" transform="rotate(171.72935717977776 171.1 519.4)" fill="#000"/>
<ellipse cx="181.7" cy="508.9" rx="0.8358189362963837" ry="0.8742254570429135" transform="rotate(3.1837228739241685 181.7 508.9)" fill="#000"/>
<ellipse cx="159.9" cy="525.3" rx="0.7737556741084046" ry="0.8769840067860428" transform="rotate(156.5147027142579 159.9 525.3)" fill="#000"/>
<ellipse cx="171.7" cy="509.4" rx="0.8646680259312342" ry="0.7201939317541313" transform="rotate(50.332110969775904 171.7 509.4)" fill="#000"/>
<ellipse cx="151.7" cy="536.7" rx="0.6109079706049493" ry="0.536963333955947" transform="rotate(113.88416738867616 151.7 536.7)" fill="#000"/>
<ellipse cx="150.5" cy="508.6" rx="1.5310877369142313" ry="1.077272130905008" transform="rotate(168.64824698620762 150.5 508.6)" fill="#000"/>
<ellipse cx="127.3" cy="524.3" rx="0.8163226780764407" ry="0.8159433370484274" transform="rotate(93.65490006253198 127.3 524.3)" fill="#000"/>
<ellipse cx="146.6" cy="524.0" rx="0.40090300762957715" ry="0.4429400372037615" transform="rotate(52.84790340666377 146.6 524.0)" fill="#000"/>
<ellipse cx="140.7" cy="516.6" rx="0.5144717542560799" ry="0.41588541757540914" transform="rotate(151.15450025905255 140.7 516.6)" fill="#000"/>
<ellipse cx="161.0" cy="525.1" rx="0.6853670420169665" ry="0.5008938961582675" transform="rotate(82.95901745949455 161.0 525.1)" fill="#000"/>
<ellipse cx="154.8" cy="526.4" rx="0.5792666328178486" ry="0.5828784057738017" transform="rotate(39.88450731325696 154.8 526.4)" fill="#000"/>
<ellipse cx="158.6" cy="508.4" rx="0.9872650927042854" ry="0.9963989109848342" transform="rotate(100.19757537980375 158.6 508.4)" fill="#000"/>
<ellipse cx="149.1" cy="516.5" rx="0.8103989343473367" ry="0.5716281931302" transform="rotate(28.542002433561787 149.1 516.5)" fill="#000"/>
<ellipse cx="182.1" cy="523.5" rx="1.2774805380194547" ry="0.9074592068160179" transform="rotate(85.54291463168617 182.1 523.5)" fill="#000"/>
<ellipse cx="149.8" cy="536.9" rx="0.9466844212152457" ry="0.6634326013733443" transform="rotate(157.09702977427781 149.8 536.9)" fill="#000"/>
<ellipse cx="145.2" cy="521.7" rx="0.6338062597082728" ry="0.5696891364806537" transform="rotate(99.96329819541938 145.2 521.7)" fill="#000"/>
<ellipse cx="138.5" cy="517.7" rx="1.1842541457305722" ry="0.9871747329257098" transform="rotate(79.92556299272249 138.5 517.7)" fill="#000"/>
<ellipse cx="158.2" cy="510.6" rx="0.8743569773065776" ry="0.5929001888387833" transform="rotate(150.86752238629398 158.2 510.6)" fill="#000"/>
<ellipse cx="195.9" cy="514.1" rx="0.8351794891931554" ry="1.0329299887041414" transform="rotate(8.539574490329333 195.9 514.1)" fill="#000"/>
<ellipse cx="156.5" cy="522.9" rx="1.1447805669022297" ry="0.9301111961477545" transform="rotate(179.69896285749044 156.5 522.9)" fill="#000"/>
<ellipse cx="152.5" cy="511.0" rx="0.8127333128241638" ry="0.6506702585995365" transform="rotate(103.3298601788258 152.5 511.0)" fill="#000"/>
<ellipse cx="181.6" cy="513.1" rx="1.5832697584594773" ry="1.0838200606876272" transform="rotate(92.26684906784779 181.6 513.1)" fill="#000"/>
<ellipse cx="178.8" cy="517.2" rx="0.36831051609329307" ry="0.35293480558525075" transform="rotate(151.58843157983938 178.8 517.2)" fill="#000"/>
<ellipse cx="177.1" cy="517.7" rx="0.5757108661793763" ry="0.6153836008651988" transform="rotate(47.98980961118403 177.1 517.7)" fill="#000"/>
<ellipse cx="109.9" cy="535.1" rx="0.7094583409588577" ry="0.6116701825986772" transform="rotate(69.41818716763483 109.9 535.1)" fill="#000"/>
<ellipse cx="144.0" cy="526.6" rx="0.5915796293291437" ry="0.3829840695079533" transform="rotate(153.84879627254315 144.0 526.6)" fill="#000"/>
<ellipse cx="181.6" cy="517.1" rx="1.2802184138298993" ry="1.070021742695011" transform="rotate(170.94803953286015 181.6 517.1)" fill="#000"/>
<ellipse cx="187.5" cy="522.5" rx="0.49993777049931176" ry="0.5325432223498764" transform="rotate(64.51128876374413 187.5 522.5)" fill="#000"/>
<ellipse cx="118.7" cy="537.1" rx="0.6877961488952182" ry="0.7711505206093359" transform="rotate(96.07508791139183 118.7 537.1)" fill="#000"/>
<ellipse cx="182.6" cy="518.5" rx="0.5066539340100524" ry="0.4933966185916989" transform="rotate(42.69144608381211 182.6 518.5)" fill="#000"/>
<ellipse cx="170.6" cy="510.8" rx="0.8808128049878373" ry="0.9762559450462183" transform="rotate(79.79556325129798 170.6 510.8)" fill="#000"/>
<ellipse cx="172.2" cy="519.3" rx="0.7898091260054283" ry="0.5060442110370116" transform="rotate(90.86934981346269 172.2 519.3)" fill="#000"/>
<ellipse cx="126.1" cy="535.0" rx="0.6241191372570103" ry="0.6259968072250173" transform="rotate(109.47665223356263 126.1 535.0)" fill="#000"/>
<ellipse cx="138.5" cy="527.7" rx="0.6483675912161393" ry="0.5830917195323874" transform="rotate(15.486653335686064 138.5 527.7)" fill="#000"/>
<ellipse cx="117.7" cy="533.5" rx="0.7514868398708752" ry="0.8470616040266346" transform="rotate(101.1583192981261 117.7 533.5)" fill="#000"/>
<ellipse cx="128.2" cy="520.1" rx="1.402649623606024" ry="0.931247605167525" transform="rotate(155.03048058865537 128.2 520.1)" fill="#000"/>
<ellipse cx="166.4" cy="518.5" rx="1.1477373128905597" ry="0.8442976704078896" transform="rotate(44.71577972165577 166.4 518.5)" fill="#000"/>
<ellipse cx="184.7" cy="518.6" rx="0.4338185993107835" ry="0.4862426744297695" transform="rotate(164.28348980549737 184.7 518.6)" fill="#000"/>
<ellipse cx="183.9" cy="525.1" rx="0.6210752392152665" ry="0.5410318206568782" transform="rotate(123.17897724769672 183.9 525.1)" fill="#000"/>
<ellipse cx="179.1" cy="514.3" rx="0.7925703094567667" ry="0.9121437071653784" transform="rotate(125.0418708764608 179.1 514.3)" fill="#000"/>
<ellipse cx="139.4" cy="530.4" rx="0.4890525626180009" ry="0.5608742698691298" transform="rotate(170.3450680593413 139.4 530.4)" fill="#000"/>
<ellipse cx="142.4" cy="535.9" rx="1.323386865923923" ry="0.9039580342643768" transform="rotate(113.05820876859697 142.4 535.9)" fill="#000"/>
<ellipse cx="94.9" cy="356.3" rx="0.9437009093065697" ry="1.0460974099761855" transform="rotate(137.14601691121828 94.9 356.3)" fill="#000"/>
<ellipse cx="100.3" cy="349.9" rx="1.4109640876946807" ry="1.0770607638034595" transform="rotate(97.90768762566023 100.3 349.9)" fill="#000"/>
<ellipse cx="85.8" cy="356.9" rx="0.6378314670743349" ry="0.6135957768077955" transform="rotate(159.24335768363443 85.8 356.9)" fill="#000"/>
<ellipse cx="93.3" cy="362.7" rx="1.3545087716798587" ry="0.9246192731304029" transform="rotate(20.606085093494514 93.3 362.7)" fill="#000"/>
<ellipse cx="95.1" cy="357.0" rx="0.6971468070535395" ry="0.5933530154362646" transform="rotate(65.33565351449722 95.1 357.0)" fill="#000"/>
<ellipse cx="91.4" cy="375.5" rx="0.5368306886345903" ry="0.538559040351247" transform="rotate(24.95744358405983 91.4 375.5)" fill="#000"/>
<ellipse cx="91.9" cy="372.1" rx="0.6800737968153916" ry="0.47634436657006146" transform="rotate(149.47090160744514 91.9 372.1)" fill="#000"/>
<ellipse cx="87.6" cy="354.0" rx="0.44110373546206305" ry="0.5295347783214714" transform="rotate(102.03650388495052 87.6 354.0)" fill="#000"/>
<ellipse cx="91.4" cy="371.1" rx="1.6009087982067685" ry="1.028896835356282" transform="rotate(88.98837056857644 91.4 371.1)" fill="#000"/>
<ellipse cx="102.0" cy="372.5" rx="0.6868844722609901" ry="0.6690832462711007" transform="rotate(119.09251444007222 102.0 372.5)" fill="#000"/>
<ellipse cx="85.7" cy="356.0" rx="0.9050545197372108" ry="0.6790200587853673" transform="rotate(148.69294950165408 85.7 356.0)" fill="#000"/>
<ellipse cx="103.3" cy="377.0" rx="1.180726487503881" ry="0.8149019357642457" transform="rotate(10.801520869868353 103.3 377.0)" fill="#000"/>
<path d="M126.4 415.8 L128.8 415.0 L132.0 418.2 L134.5 423.0 L136.9 427.0 L133.7 430.2 L129.6 431.0 L128.0 427.0 L127.2 421.4Z" fill="#808080" stroke="#000" stroke-width="0.8" stroke-linejoin="round"/>
<path d="M130.4 432.6 L133.7 429.4 L137.7 428.6 L140.9 431.0 L142.5 434.2 L140.9 439.0 L138.5 441.5 L136.1 442.3 L134.5 439.9 L132.0 440.7 L130.4 437.4Z" fill="#40004b" stroke="#000" stroke-width="0.8" stroke-linejoin="round"/>
<path d="M179.4 437.4 L181.8 435.8 L187.4 438.3 L193.9 440.7 L198.7 442.3 L199.5 444.7 L196.6 446.6 L192.7 449.2 L192.0 454.5 L192.7 461.1 L190.0 467.7 L185.4 468.4 L182.1 472.3 L178.2 471.7 L180.1 466.4 L179.5 461.1 L183.4 457.2 L186.1 451.9 L184.8 445.3 L180.2 440.7Z" fill="#40004b" stroke="#000" stroke-width="0.8" stroke-linejoin="round"/>
<path d="M104.8 494.6 L108.0 493.0 L112.8 492.2 L117.6 493.0 L120.0 496.2 L116.8 500.2 L111.2 501.8 L106.4 500.2 L104.0 497.8Z" fill="#591465" stroke="#000" stroke-width="0.8" stroke-linejoin="round"/>
<path d="M81.8 592.9 L84.3 588.8 L88.4 585.8 L95.5 583.2 L103.7 581.2 L110.9 580.7 L115.0 582.7 L115.0 586.8 L112.4 591.9 L108.8 595.0 L100.7 597.5 L93.5 598.0 L87.4 598.5 L83.3 596.0Z" fill="#894f98" stroke="#000" stroke-width="0.8" stroke-linejoin="round"/>
<path d="M504.8 316.2 L503.5 317.3 L502.6 322.5 L500.9 326.9 L497.4 330.4 L492.1 331.3 L490.4 333.9 L484.3 333.0 L479.0 330.4 L469.7 331.0 L462.0 331.5 L454.8 332.6 L458.5 339.3 L463.0 342.3 L467.4 343.8 L470.4 348.2 L473.4 351.2 L471.9 358.6 L471.2 364.5 L476.4 367.5 L482.3 371.2 L481.6 376.4 L480.8 382.3 L480.1 391.2 L487.5 389.3 L492.4 388.5 L497.2 390.1 L503.6 390.1 L506.8 393.3 L511.6 395.7 L516.4 397.3 L522.9 396.5 L529.3 395.7 L535.7 395.7 L542.1 396.5 L547.0 393.3 L544.5 384.8 L538.7 373.1 L530.5 361.4 L521.1 347.4 L518.4 343.5 L515.8 337.4 L513.2 331.3 L509.6 324.3 L507.0 318.1Z" fill="#b7e2b1" stroke="#000" stroke-width="0.8" stroke-linejoin="round"/>
<path d="M454.8 332.6 L449.6 334.8 L447.4 338.6 L443.7 342.3 L439.2 346.7 L435.5 350.4 L435.5 357.1 L431.8 360.8 L430.3 364.5 L432.1 368.0 L431.3 372.3 L432.8 376.7 L434.3 381.1 L437.2 381.1 L438.6 385.5 L440.1 389.9 L438.6 394.2 L440.1 398.6 L441.6 403.0 L444.5 405.9 L450.3 404.5 L456.2 403.4 L461.0 404.5 L464.5 400.1 L470.4 397.2 L476.4 394.2 L480.1 391.2 L480.8 382.3 L481.6 376.4 L482.3 371.2 L476.4 367.5 L471.2 364.5 L471.9 358.6 L473.4 351.2 L470.4 348.2 L467.4 343.8 L463.0 342.3 L458.5 339.3Z" fill="#166f32" stroke="#000" stroke-width="0.8" stroke-linejoin="round"/>
<path d="M461.0 404.5 L464.5 400.1 L470.4 397.2 L476.4 394.2 L480.1 391.2 L487.5 389.3 L492.4 388.5 L497.2 390.1 L503.6 390.1 L506.8 393.3 L511.6 395.7 L516.4 397.3 L511.6 400.5 L509.2 406.9 L503.6 407.7 L498.8 409.3 L494.0 413.4 L489.1 416.6 L485.1 419.8 L482.7 422.2 L485.9 425.4 L485.1 431.0 L485.9 437.4 L491.6 439.9 L491.6 445.5 L487.5 450.3 L485.9 454.5 L481.1 450.4 L474.7 451.2 L472.9 452.5 L473.7 446.9 L472.2 442.6 L472.9 438.2 L471.5 434.2 L469.9 431.0 L465.9 427.0 L464.9 413.4 L463.5 409.0Z" fill="#e8d7e9" stroke="#000" stroke-width="0.8" stroke-linejoin="round"/>
<path d="M424.0 398.8 L429.9 400.2 L437.2 401.7 L441.6 405.3 L444.5 405.9 L450.3 404.5 L456.2 403.4 L461.0 404.5 L463.5 409.0 L464.9 413.4 L465.9 427.0 L469.9 431.0 L471.5 434.2 L472.9 438.2 L472.2 442.6 L473.7 446.9 L472.9 452.5 L469.3 452.8 L464.9 449.9 L460.5 446.9 L454.7 448.4 L450.3 446.2 L444.5 445.5 L438.6 451.3 L432.8 454.2 L431.3 451.3 L429.9 445.5 L428.4 439.6 L427.7 433.8 L424.0 432.3 L422.6 427.9 L420.4 423.6 L418.2 419.2 L416.0 415.5 L412.4 413.4 L414.5 409.0 L418.2 406.1 L420.4 401.7Z" fill="#ede2ee" stroke="#000" stroke-width="0.8" stroke-linejoin="round"/>
<path d="M516.4 397.3 L522.9 396.5 L529.3 395.7 L535.7 395.7 L542.1 396.5 L547.0 393.3 L549.4 402.1 L551.8 415.0 L550.2 424.6 L549.4 434.2 L550.2 445.5 L553.4 448.7 L556.6 447.9 L556.6 452.8 L555.0 460.9 L553.4 467.3 L552.0 471.7 L548.1 469.7 L544.1 468.4 L540.2 467.7 L536.9 469.7 L533.6 475.0 L527.0 473.7 L521.7 475.0 L516.4 473.0 L507.8 472.3 L504.5 471.7 L499.2 471.0 L499.2 466.4 L495.3 461.8 L490.0 459.8 L485.9 454.5 L487.5 450.3 L491.6 445.5 L491.6 439.9 L485.9 437.4 L485.1 431.0 L485.9 425.4 L482.7 422.2 L485.1 419.8 L489.1 416.6 L494.0 413.4 L498.8 409.3 L503.6 407.7 L509.2 406.9 L511.6 400.5Z" fill="#8b559b" stroke="#000" stroke-width="0.8" stroke-linejoin="round"/>
<path d="M432.8 454.2 L438.6 451.3 L444.5 445.5 L450.3 446.2 L454.7 448.4 L460.5 446.9 L464.9 449.9 L469.3 452.8 L472.9 452.5 L474.7 451.2 L481.1 450.4 L485.9 454.5 L481.1 460.9 L477.1 464.1 L475.5 472.1 L474.7 478.5 L476.3 483.4 L473.1 487.4 L468.3 486.6 L464.3 488.2 L458.6 488.2 L456.3 487.4 L451.4 486.6 L448.2 482.6 L443.4 483.4 L438.6 481.0 L433.8 485.0 L429.0 487.4 L426.6 485.8 L423.6 481.7 L425.5 478.0 L428.5 476.7 L434.0 476.5 L431.5 474.8 L426.5 473.8 L425.5 471.0 L427.5 468.5 L432.5 466.5 L435.0 463.0 L435.4 458.0 L432.0 456.0 L430.5 453.5Z" fill="#40004b" stroke="#000" stroke-width="0.8" stroke-linejoin="round"/>
<path d="M426.6 485.8 L429.0 487.4 L433.8 485.0 L438.6 481.0 L443.4 483.4 L448.2 482.6 L451.4 486.6 L456.3 487.4 L458.6 488.2 L464.3 488.2 L468.3 486.6 L473.1 487.4 L475.5 493.0 L478.7 499.4 L480.4 505.8 L477.6 508.9 L473.6 510.8 L471.6 514.8 L467.7 512.8 L464.7 514.8 L467.7 518.8 L471.6 522.7 L469.6 526.7 L466.7 527.7 L462.7 530.6 L457.8 532.6 L454.8 530.6 L455.8 525.7 L459.7 519.8 L457.8 518.8 L453.8 522.7 L448.9 525.7 L445.9 533.6 L441.0 537.0 L439.2 534.6 L438.3 525.0 L437.0 536.0 L434.0 541.5 L430.5 536.6 L428.5 541.5 L426.5 537.6 L424.5 532.6 L420.6 528.7 L416.6 524.7 L416.6 518.8 L418.6 512.8 L421.6 506.9 L422.6 500.9 L421.6 495.0 L419.6 491.6 L420.6 488.6 L422.6 485.6Z" fill="#460552" stroke="#000" stroke-width="0.8" stroke-linejoin="round"/>
<path d="M485.9 454.5 L490.0 459.8 L495.3 461.8 L499.2 466.4 L499.2 471.0 L504.5 471.7 L507.8 472.3 L516.4 473.0 L521.7 475.0 L527.0 473.7 L533.6 475.0 L537.5 478.3 L541.5 482.2 L544.1 484.9 L541.5 486.9 L537.5 490.2 L533.6 492.8 L529.6 496.8 L528.3 499.4 L525.6 498.8 L519.6 499.8 L515.7 495.8 L510.7 500.8 L506.8 503.8 L499.8 508.7 L493.9 508.7 L492.9 505.0 L488.0 506.7 L484.0 505.7 L481.1 507.4 L480.4 505.8 L478.7 499.4 L475.5 493.0 L473.1 487.4 L476.3 483.4 L474.7 478.5 L475.5 472.1 L477.1 464.1 L481.1 460.9Z" fill="#782e85" stroke="#000" stroke-width="0.8" stroke-linejoin="round"/>
<path d="M533.6 475.0 L536.9 469.7 L540.2 467.7 L544.1 468.4 L548.1 469.7 L552.0 471.7 L553.4 475.6 L551.4 479.6 L549.4 483.6 L546.8 486.9 L544.1 484.9 L541.5 482.2 L537.5 478.3Z" fill="#c9add3" stroke="#000" stroke-width="0.8" stroke-linejoin="round"/>
<path d="M544.1 484.9 L546.8 486.9 L545.4 490.2 L544.1 494.1 L540.2 498.1 L536.2 500.7 L532.2 502.0 L528.3 499.4 L529.6 496.8 L533.6 492.8 L537.5 490.2 L541.5 486.9Z" fill="#ab87bb" stroke="#000" stroke-width="0.8" stroke-linejoin="round"/>
<path d="M442.2 371.2 L445.2 367.5 L447.5 365.5 L449.6 364.5 L453.3 365.3 L454.1 369.0 L457.1 372.0 L454.1 375.6 L449.6 377.9 L444.4 377.2 L441.5 374.9Z" fill="#7bc17c" stroke="#000" stroke-width="0.8" stroke-linejoin="round"/>
<path d="M432.1 368.0 L435.7 369.4 L439.4 370.9 L439.4 378.2 L437.2 381.1 L434.3 381.1 L432.8 376.7 L431.3 372.3Z" fill="#469d54" stroke="#000" stroke-width="0.8" stroke-linejoin="round"/>
<path d="M422.6 358.3 L425.6 357.3 L428.1 359.3 L429.0 362.8 L428.1 366.7 L426.6 368.7 L423.6 368.7 L422.6 364.8 L423.1 361.8Z" fill="#469d54" stroke="#000" stroke-width="0.8" stroke-linejoin="round"/>
<path d="M416.2 358.3 L419.1 357.8 L420.1 359.8 L418.2 361.3 L416.2 360.3Z" fill="#469d54" stroke="#000" stroke-width="0.8" stroke-linejoin="round"/>
<path d="M423.1 376.6 L425.6 374.2 L429.5 373.7 L430.5 375.6 L427.6 378.1 L424.6 379.6Z" fill="#469d54" stroke="#000" stroke-width="0.8" stroke-linejoin="round"/>
<path d="M409.7 534.6 L410.6 533.1 L411.7 531.6 L413.2 530.2 L414.6 528.7 L416.6 529.4 L418.6 528.7 L419.4 530.6 L420.1 532.6 L419.3 534.1 L418.6 535.6 L417.0 536.5 L415.6 537.6 L413.8 538.6 L411.7 538.6 L410.5 537.8 L409.2 537.1Z" fill="#460552" stroke="#000" stroke-width="0.9" stroke-linejoin="round"/>
<path d="M511.7 508.7 L512.3 507.1 L513.3 505.5 L513.7 503.8 L515.4 503.7 L516.9 502.6 L518.7 502.8 L520.5 503.1 L521.4 504.6 L522.6 505.7 L523.2 507.1 L522.6 508.8 L523.0 510.3 L523.6 511.7 L522.8 512.9 L522.2 514.3 L521.6 515.6 L520.1 516.4 L519.3 518.0 L517.7 518.6 L515.7 518.2 L513.7 517.6 L512.5 516.7 L512.8 514.8 L510.8 514.3 L510.7 512.7 L511.7 510.8Z" fill="#782e85" stroke="#000" stroke-width="0.9" stroke-linejoin="round"/>
<path d="M484.5 514.7 L485.9 513.9 L487.6 514.2 L489.0 513.5 L490.5 514.4 L492.1 515.4 L493.9 515.5 L493.9 517.1 L493.4 518.6 L492.5 520.0 L490.7 520.8 L488.9 520.8 L487.0 520.6 L485.7 519.2 L484.0 518.5 L483.7 516.5Z" fill="#782e85" stroke="#000" stroke-width="0.9" stroke-linejoin="round"/>
<path d="M475.6 518.5 L477.2 517.5 L479.0 517.8 L480.4 518.8 L481.9 519.5 L483.5 520.0 L482.5 521.5 L483.2 523.4 L482.5 525.0 L481.3 526.6 L479.5 527.7 L477.9 526.3 L476.0 525.5 L476.2 524.1 L475.5 522.7 L476.1 521.3 L475.5 519.9Z" fill="#460552" stroke="#000" stroke-width="0.9" stroke-linejoin="round"/>
<path d="M487.5 510.5 L489.4 510.9 L491.0 509.9 L492.9 510.3 L494.0 512.0 L492.7 513.0 L492.0 514.5 L489.9 514.8 L488.0 514.0 L488.5 512.1Z" fill="#460552" stroke="#000" stroke-width="0.9" stroke-linejoin="round"/>
<path d="M401.0 509.0 L402.7 508.5 L404.5 508.5 L405.8 509.3 L407.2 510.1 L408.5 511.0 L408.4 512.7 L408.3 514.3 L408.0 516.0 L406.8 516.8 L406.3 518.3 L405.0 519.0 L403.4 517.8 L401.5 517.0 L400.2 515.2 L400.5 513.0 L400.4 511.0Z" fill="#460552" stroke="#000" stroke-width="0.9" stroke-linejoin="round"/>
<path d="M402.5 519.5 L404.2 519.5 L406.0 519.5 L406.4 521.0 L407.1 522.3 L408.5 523.0 L407.5 524.3 L406.0 525.0 L404.6 524.1 L403.0 524.0 L403.2 522.5 L402.9 521.0Z" fill="#460552" stroke="#000" stroke-width="0.9" stroke-linejoin="round"/>
<path d="M406.0 499.0 L407.2 498.0 L408.8 498.2 L410.0 497.5 L411.5 497.9 L412.9 498.4 L414.0 499.5 L413.5 501.3 L413.0 503.0 L411.0 503.5 L409.0 504.0 L407.5 503.0 L406.0 502.0 L405.9 500.5Z" fill="#460552" stroke="#000" stroke-width="0.9" stroke-linejoin="round"/>
<path d="M414.0 502.0 L415.4 501.8 L416.8 501.4 L418.0 500.5 L419.2 501.8 L420.5 503.0 L420.0 504.3 L419.7 505.7 L419.0 507.0 L417.1 506.0 L415.0 506.5 L414.3 505.1 L413.8 503.6Z" fill="#460552" stroke="#000" stroke-width="0.9" stroke-linejoin="round"/>
<path d="M411.0 506.0 L413.1 506.4 L415.0 505.5 L415.5 507.4 L416.5 509.0 L414.9 510.2 L414.0 512.0 L412.8 510.7 L411.0 510.5 L410.6 509.0 L411.2 507.5Z" fill="#460552" stroke="#000" stroke-width="0.9" stroke-linejoin="round"/>
<path d="M426.0 545.0 L427.6 544.0 L429.5 544.0 L430.7 544.9 L432.1 545.5 L433.5 546.0 L433.8 548.0 L434.0 550.0 L433.1 551.2 L431.4 551.2 L430.5 552.4 L429.0 551.0 L427.0 550.5 L426.7 548.7 L426.3 546.8Z" fill="#460552" stroke="#000" stroke-width="0.9" stroke-linejoin="round"/>
<path d="M441.0 540.0 L442.7 540.2 L444.0 539.0 L445.4 539.9 L446.0 541.5 L445.6 543.2 L444.0 544.0 L442.6 543.0 L441.0 543.5 L440.5 541.8Z" fill="#460552" stroke="#000" stroke-width="0.9" stroke-linejoin="round"/>
<path d="M449.0 538.0 L450.6 538.1 L451.9 537.7 L453.0 536.5 L454.2 538.0 L456.0 538.5 L455.6 540.4 L454.0 541.5 L452.0 541.1 L450.0 541.0 L449.4 539.5Z" fill="#460552" stroke="#000" stroke-width="0.9" stroke-linejoin="round"/>
<path d="M460.0 535.0 L461.6 534.8 L463.0 534.0 L463.6 535.6 L465.0 536.5 L464.1 537.9 L462.5 538.5 L460.0 537.5Z" fill="#460552" stroke="#000" stroke-width="0.9" stroke-linejoin="round"/>
<path d="M473.0 529.0 L474.4 528.3 L476.0 528.0 L476.4 529.9 L478.0 531.0 L476.4 531.6 L475.5 533.0 L473.0 532.0 L472.5 530.5Z" fill="#460552" stroke="#000" stroke-width="0.9" stroke-linejoin="round"/>
<path d="M397.5 535.5 L399.3 535.6 L401.0 535.0 L402.2 536.3 L402.5 538.0 L401.5 539.4 L400.0 540.0 L397.5 539.0 L397.7 537.2Z" fill="#460552" stroke="#000" stroke-width="0.9" stroke-linejoin="round"/>
<path d="M404.5 541.0 L406.3 541.0 L408.0 540.5 L408.5 542.1 L409.5 543.5 L407.6 543.9 L406.5 545.5 L405.0 545.2 L404.0 544.0 L403.6 542.4Z" fill="#460552" stroke="#000" stroke-width="0.9" stroke-linejoin="round"/>
<path d="M412.5 542.0 L415.0 541.5 L416.0 544.0 L415.1 545.3 L413.5 545.5 L412.4 543.9Z" fill="#460552" stroke="#000" stroke-width="0.9" stroke-linejoin="round"/>
<path d="M419.6 419.8 L422.0 420.5 L422.1 422.3 L422.6 424.1 L422.6 426.0 L422.0 427.6 L422.9 429.3 L422.6 431.0 L422.6 432.6 L421.4 431.5 L420.5 430.0 L420.2 428.5 L420.9 426.9 L419.3 425.6 L419.8 424.0 L419.6 422.6 L419.2 421.2Z" fill="#ede2ee" stroke="#000" stroke-width="0.9" stroke-linejoin="round"/>
<path d="M426.5 384.0 L429.0 383.0 L429.7 384.3 L430.5 385.5 L429.7 386.7 L428.5 387.5 L426.0 386.5Z" fill="#166f32" stroke="#000" stroke-width="0.9" stroke-linejoin="round"/>
<path d="M422.0 387.0 L424.5 386.0 L425.9 386.8 L426.0 388.5 L425.1 389.8 L423.5 390.0 L421.5 389.0Z" fill="#166f32" stroke="#000" stroke-width="0.9" stroke-linejoin="round"/>
<path d="M428.0 390.0 L429.4 389.1 L431.0 389.5 L431.9 390.9 L432.0 392.5 L430.6 393.3 L429.0 393.5 L429.1 391.6Z" fill="#166f32" stroke="#000" stroke-width="0.9" stroke-linejoin="round"/>
<path d="M424.0 392.5 L426.5 392.0 L427.5 394.5 L425.0 395.5 L424.6 394.0Z" fill="#166f32" stroke="#000" stroke-width="0.9" stroke-linejoin="round"/>
<ellipse cx="393.9" cy="365.2" rx="1.0" ry="1.0" transform="rotate(0 393.9 365.2)" fill="#000"/>
<ellipse cx="405.3" cy="368.2" rx="0.7" ry="0.6" transform="rotate(0 405.3 368.2)" fill="#000"/>
<ellipse cx="412.7" cy="364.3" rx="2.2" ry="0.7" transform="rotate(35 412.7 364.3)" fill="#000"/>
<ellipse cx="416.7" cy="366.7" rx="1.2" ry="0.9" transform="rotate(20 416.7 366.7)" fill="#000"/>
<ellipse cx="419.6" cy="371.7" rx="1.3" ry="0.8" transform="rotate(10 419.6 371.7)" fill="#000"/>
<ellipse cx="410.7" cy="386.5" rx="1.2" ry="1.1" transform="rotate(0 410.7 386.5)" fill="#000"/>
<ellipse cx="413.7" cy="389.5" rx="1.3" ry="0.9" transform="rotate(30 413.7 389.5)" fill="#000"/>
<ellipse cx="405.3" cy="391.5" rx="0.9" ry="0.7" transform="rotate(0 405.3 391.5)" fill="#000"/>
<ellipse cx="405.8" cy="396.4" rx="1.2" ry="1.1" transform="rotate(0 405.8 396.4)" fill="#000"/>
<ellipse cx="420.5" cy="382.5" rx="1.0" ry="0.8" transform="rotate(0 420.5 382.5)" fill="#000"/>
<ellipse cx="417.5" cy="394.5" rx="0.9" ry="0.7" transform="rotate(0 417.5 394.5)" fill="#000"/>
<ellipse cx="406.0" cy="397.0" rx="1.4" ry="1.1" transform="rotate(0 406.0 397.0)" fill="#000"/>
<ellipse cx="398.6" cy="402.0" rx="0.7" ry="0.6" transform="rotate(0 398.6 402.0)" fill="#000"/>
<ellipse cx="392.0" cy="419.7" rx="0.9" ry="0.6" transform="rotate(0 392.0 419.7)" fill="#000"/>
<ellipse cx="394.9" cy="419.2" rx="0.8" ry="0.6" transform="rotate(0 394.9 419.2)" fill="#000"/>
<ellipse cx="399.5" cy="418.0" rx="0.8" ry="0.6" transform="rotate(0 399.5 418.0)" fill="#000"/>
<ellipse cx="409.0" cy="417.0" rx="1.2" ry="0.6" transform="rotate(-20 409.0 417.0)" fill="#000"/>
<ellipse cx="413.7" cy="414.6" rx="1.0" ry="0.8" transform="rotate(0 413.7 414.6)" fill="#000"/>
<ellipse cx="415.0" cy="421.9" rx="0.8" ry="0.7" transform="rotate(0 415.0 421.9)" fill="#000"/>
<ellipse cx="416.2" cy="425.5" rx="0.9" ry="0.8" transform="rotate(0 416.2 425.5)" fill="#000"/>
<ellipse cx="408.0" cy="440.5" rx="1.6" ry="0.9" transform="rotate(10 408.0 440.5)" fill="#000"/>
<ellipse cx="405.0" cy="446.0" rx="0.8" ry="0.7" transform="rotate(0 405.0 446.0)" fill="#000"/>
<ellipse cx="414.5" cy="437.0" rx="0.8" ry="0.7" transform="rotate(0 414.5 437.0)" fill="#000"/>
<ellipse cx="417.0" cy="438.5" rx="0.9" ry="0.8" transform="rotate(0 417.0 438.5)" fill="#000"/>
<ellipse cx="415.3" cy="452.5" rx="0.9" ry="0.8" transform="rotate(0 415.3 452.5)" fill="#000"/>
<ellipse cx="424.0" cy="449.0" rx="0.8" ry="0.6" transform="rotate(0 424.0 449.0)" fill="#000"/>
<ellipse cx="415.6" cy="451.8" rx="0.8" ry="0.8" transform="rotate(0 415.6 451.8)" fill="#000"/>
<ellipse cx="408.7" cy="457.9" rx="0.8" ry="0.7" transform="rotate(0 408.7 457.9)" fill="#000"/>
<ellipse cx="422.5" cy="460.4" rx="2.8" ry="0.7" transform="rotate(5 422.5 460.4)" fill="#000"/>
<ellipse cx="410.7" cy="470.8" rx="0.9" ry="0.8" transform="rotate(0 410.7 470.8)" fill="#000"/>
<ellipse cx="417.6" cy="473.8" rx="1.4" ry="1.1" transform="rotate(-30 417.6 473.8)" fill="#000"/>
<ellipse cx="406.0" cy="486.6" rx="1.3" ry="0.9" transform="rotate(-30 406.0 486.6)" fill="#000"/>
<ellipse cx="411.0" cy="490.6" rx="0.8" ry="0.7" transform="rotate(0 411.0 490.6)" fill="#000"/>
<ellipse cx="412.5" cy="494.6" rx="0.8" ry="0.6" transform="rotate(0 412.5 494.6)" fill="#000"/>
<ellipse cx="401.3" cy="493.6" rx="0.7" ry="0.6" transform="rotate(0 401.3 493.6)" fill="#000"/>
<ellipse cx="402.3" cy="500.0" rx="0.8" ry="0.7" transform="rotate(0 402.3 500.0)" fill="#000"/>
<ellipse cx="381.0" cy="520.0" rx="1.6" ry="1.2" transform="rotate(-40 381.0 520.0)" fill="#000"/>
<ellipse cx="399.0" cy="530.0" rx="0.9" ry="0.7" transform="rotate(0 399.0 530.0)" fill="#000"/>
<ellipse cx="403.0" cy="533.0" rx="1.0" ry="0.7" transform="rotate(0 403.0 533.0)" fill="#000"/>
<ellipse cx="398.0" cy="545.0" rx="0.8" ry="0.7" transform="rotate(0 398.0 545.0)" fill="#000"/>
<ellipse cx="402.0" cy="547.0" rx="0.9" ry="0.6" transform="rotate(0 402.0 547.0)" fill="#000"/>
<ellipse cx="409.0" cy="548.0" rx="0.8" ry="0.6" transform="rotate(0 409.0 548.0)" fill="#000"/>
<ellipse cx="394.0" cy="550.0" rx="0.7" ry="0.6" transform="rotate(0 394.0 550.0)" fill="#000"/>
<ellipse cx="384.0" cy="547.0" rx="0.6" ry="0.5" transform="rotate(0 384.0 547.0)" fill="#000"/>
<ellipse cx="421.0" cy="545.0" rx="0.8" ry="0.6" transform="rotate(0 421.0 545.0)" fill="#000"/>
<ellipse cx="437.0" cy="548.0" rx="1.2" ry="0.9" transform="rotate(0 437.0 548.0)" fill="#000"/>
<ellipse cx="443.0" cy="547.0" rx="0.8" ry="0.6" transform="rotate(0 443.0 547.0)" fill="#000"/>
<ellipse cx="448.0" cy="545.0" rx="0.9" ry="0.7" transform="rotate(0 448.0 545.0)" fill="#000"/>
<ellipse cx="456.0" cy="543.0" rx="0.8" ry="0.6" transform="rotate(0 456.0 543.0)" fill="#000"/>
<ellipse cx="464.0" cy="541.0" rx="0.7" ry="0.6" transform="rotate(0 464.0 541.0)" fill="#000"/>
<ellipse cx="469.0" cy="538.0" rx="0.9" ry="0.7" transform="rotate(0 469.0 538.0)" fill="#000"/>
<ellipse cx="481.0" cy="532.0" rx="0.9" ry="0.7" transform="rotate(0 481.0 532.0)" fill="#000"/>
<ellipse cx="484.0" cy="528.0" rx="0.8" ry="0.6" transform="rotate(0 484.0 528.0)" fill="#000"/>
<ellipse cx="499.0" cy="519.0" rx="0.9" ry="0.7" transform="rotate(0 499.0 519.0)" fill="#000"/>
<ellipse cx="503.0" cy="523.0" rx="1.0" ry="0.8" transform="rotate(0 503.0 523.0)" fill="#000"/>
<ellipse cx="507.0" cy="526.0" rx="0.8" ry="0.6" transform="rotate(0 507.0 526.0)" fill="#000"/>
<ellipse cx="510.0" cy="522.0" rx="0.9" ry="0.7" transform="rotate(0 510.0 522.0)" fill="#000"/>
<ellipse cx="515.0" cy="527.0" rx="0.7" ry="0.6" transform="rotate(0 515.0 527.0)" fill="#000"/>
<ellipse cx="525.0" cy="523.0" rx="0.6" ry="0.5" transform="rotate(0 525.0 523.0)" fill="#000"/>
<ellipse cx="533.0" cy="507.0" rx="0.6" ry="0.5" transform="rotate(0 533.0 507.0)" fill="#000"/>
<ellipse cx="539.0" cy="505.0" rx="0.5" ry="0.5" transform="rotate(0 539.0 505.0)" fill="#000"/>
<ellipse cx="425.0" cy="540.0" rx="1.2" ry="1.0" transform="rotate(0 425.0 540.0)" fill="#000"/>
<ellipse cx="432.0" cy="541.0" rx="0.8" ry="0.7" transform="rotate(0 432.0 541.0)" fill="#000"/>
<ellipse cx="445.5" cy="527.0" rx="1.3" ry="0.9" transform="rotate(0 445.5 527.0)" fill="#000"/>
<ellipse cx="461.0" cy="523.0" rx="1.0" ry="0.8" transform="rotate(0 461.0 523.0)" fill="#000"/>
<ellipse cx="405.0" cy="506.0" rx="0.9" ry="0.7" transform="rotate(0 405.0 506.0)" fill="#000"/>
<ellipse cx="399.0" cy="505.0" rx="0.7" ry="0.6" transform="rotate(0 399.0 505.0)" fill="#000"/>
<ellipse cx="416.0" cy="548.0" rx="0.8" ry="0.6" transform="rotate(0 416.0 548.0)" fill="#000"/>
<ellipse cx="418.4" cy="559.2" rx="1.5" ry="1.0" transform="rotate(-30 418.4 559.2)" fill="#000"/>
<ellipse cx="444.5" cy="559.0" rx="0.8" ry="0.8" transform="rotate(0 444.5 559.0)" fill="#000"/>
<ellipse cx="461.3" cy="555.6" rx="1.5" ry="1.1" transform="rotate(-20 461.3 555.6)" fill="#000"/>
<ellipse cx="432.2" cy="561.8" rx="0.4" ry="0.4" transform="rotate(0 432.2 561.8)" fill="#000"/>
<ellipse cx="419.4" cy="571.5" rx="0.4" ry="0.4" transform="rotate(0 419.4 571.5)" fill="#000"/>
<ellipse cx="445.8" cy="583.5" rx="0.8" ry="0.8" transform="rotate(0 445.8 583.5)" fill="#000"/>
<ellipse cx="423.5" cy="379.6" rx="0.5283787874742435" ry="0.6242666876844392" transform="rotate(91.33843197409564 423.5 379.6)" fill="#000"/>
<ellipse cx="432.4" cy="390.7" rx="0.9060821617998973" ry="1.08219132919469" transform="rotate(154.52432262876232 432.4 390.7)" fill="#000"/>
<ellipse cx="428.5" cy="382.0" rx="0.9103772768244055" ry="0.8291851016946381" transform="rotate(98.5940038277204 428.5 382.0)" fill="#000"/>
<ellipse cx="416.8" cy="384.9" rx="0.7173552166624212" ry="0.6898882822780815" transform="rotate(142.9883066740484 416.8 384.9)" fill="#000"/>
<ellipse cx="425.0" cy="383.4" rx="1.1159278928651157" ry="0.7438973778585887" transform="rotate(131.30015209905918 425.0 383.4)" fill="#000"/>
<ellipse cx="418.7" cy="378.9" rx="1.1620611467175304" ry="0.92342814965961" transform="rotate(157.58600612955988 418.7 378.9)" fill="#000"/>
<ellipse cx="421.8" cy="390.8" rx="1.5245923845877303" ry="0.9799758353844061" transform="rotate(85.337700735536 421.8 390.8)" fill="#000"/>
<ellipse cx="423.9" cy="379.3" rx="1.3319407984131322" ry="0.8353466408957516" transform="rotate(147.94646158974868 423.9 379.3)" fill="#000"/>
<ellipse cx="417.5" cy="390.1" rx="1.4381905879533483" ry="0.964459878376806" transform="rotate(50.11579161250148 417.5 390.1)" fill="#000"/>
<ellipse cx="416.5" cy="385.9" rx="0.9836215724838985" ry="1.0682984029729936" transform="rotate(31.719191128266658 416.5 385.9)" fill="#000"/>
<ellipse cx="415.1" cy="390.5" rx="1.0521999344473896" ry="0.8678702428519834" transform="rotate(111.16669489364298 415.1 390.5)" fill="#000"/>
<ellipse cx="424.3" cy="379.2" rx="1.4021015476883656" ry="0.9349771180295546" transform="rotate(143.61716181538188 424.3 379.2)" fill="#000"/>
<ellipse cx="422.4" cy="381.3" rx="0.666303433868391" ry="0.6105421595402762" transform="rotate(22.111601537195085 422.4 381.3)" fill="#000"/>
<ellipse cx="429.5" cy="399.8" rx="0.619280884514761" ry="0.7128759923122021" transform="rotate(18.39377101467032 429.5 399.8)" fill="#000"/>
<ellipse cx="414.3" cy="383.8" rx="0.38556709287731894" ry="0.4710789578948236" transform="rotate(171.17740311744637 414.3 383.8)" fill="#000"/>
<ellipse cx="419.8" cy="381.2" rx="0.4526649753319512" ry="0.37028186856662637" transform="rotate(176.1302236894151 419.8 381.2)" fill="#000"/>
<ellipse cx="429.9" cy="393.3" rx="0.5835442122937843" ry="0.6250248438208841" transform="rotate(138.94882351236564 429.9 393.3)" fill="#000"/>
<ellipse cx="433.5" cy="396.8" rx="1.3414416915710792" ry="0.96374970749403" transform="rotate(40.81310820568528 433.5 396.8)" fill="#000"/>
<ellipse cx="432.7" cy="387.8" rx="1.706369193303631" ry="1.0910285436521452" transform="rotate(65.6344593651359 432.7 387.8)" fill="#000"/>
<ellipse cx="422.7" cy="397.8" rx="0.9383692794371247" ry="0.7096050696961537" transform="rotate(143.93587407293882 422.7 397.8)" fill="#000"/>
<ellipse cx="431.3" cy="395.2" rx="0.6680092640828492" ry="0.7085245584455002" transform="rotate(142.04437758364975 431.3 395.2)" fill="#000"/>
<ellipse cx="414.0" cy="395.6" rx="0.7252220183999047" ry="0.6468788713020861" transform="rotate(170.42346116368074 414.0 395.6)" fill="#000"/>
<ellipse cx="428.2" cy="381.2" rx="1.4388130963193455" ry="1.0852294575852728" transform="rotate(63.07335218835052 428.2 381.2)" fill="#000"/>
<ellipse cx="433.1" cy="392.3" rx="1.20465067582142" ry="1.05021860379307" transform="rotate(156.91372703809273 433.1 392.3)" fill="#000"/>
<ellipse cx="428.8" cy="382.6" rx="0.5654130339223509" ry="0.5697249895026641" transform="rotate(105.55869026987311 428.8 382.6)" fill="#000"/>
<ellipse cx="414.6" cy="388.1" rx="1.1685776536138046" ry="1.02822258090653" transform="rotate(165.18979518167959 414.6 388.1)" fill="#000"/>
<ellipse cx="419.0" cy="389.7" rx="0.41939738321986314" ry="0.364028650929065" transform="rotate(32.959419708995775 419.0 389.7)" fill="#000"/>
<ellipse cx="425.8" cy="390.2" rx="0.9192805010836137" ry="0.7387615345272777" transform="rotate(141.16904556578558 425.8 390.2)" fill="#000"/>
<ellipse cx="427.2" cy="389.2" rx="1.4075833259100097" ry="0.9199948569425125" transform="rotate(79.784710843939 427.2 389.2)" fill="#000"/>
<ellipse cx="419.4" cy="393.2" rx="0.886779315820772" ry="0.7499640781843782" transform="rotate(169.4702029569301 419.4 393.2)" fill="#000"/>
<ellipse cx="418.6" cy="405.1" rx="0.7728297174826156" ry="0.8451923863935282" transform="rotate(158.90991005827357 418.6 405.1)" fill="#000"/>
<ellipse cx="416.5" cy="405.5" rx="0.7892255546200103" ry="0.7367037933532694" transform="rotate(35.23403990410761 416.5 405.5)" fill="#000"/>
<ellipse cx="421.5" cy="442.5" rx="0.4339211828455927" ry="0.42858469570462365" transform="rotate(7.125874184532178 421.5 442.5)" fill="#000"/>
<ellipse cx="419.3" cy="429.7" rx="0.35287261747916593" ry="0.41709665588510575" transform="rotate(123.87700284273866 419.3 429.7)" fill="#000"/>
<ellipse cx="420.0" cy="433.4" rx="0.6130111833513967" ry="0.41280689467588855" transform="rotate(11.992056277403062 420.0 433.4)" fill="#000"/>
<ellipse cx="417.5" cy="422.8" rx="1.17881038903296" ry="0.7647980888435264" transform="rotate(48.21475440194175 417.5 422.8)" fill="#000"/>
<ellipse cx="419.8" cy="402.3" rx="0.8062641430246218" ry="0.6741331893383121" transform="rotate(150.23050799944008 419.8 402.3)" fill="#000"/>
<ellipse cx="413.4" cy="411.1" rx="0.6088909402498452" ry="0.41336365453094803" transform="rotate(156.69680782459469 413.4 411.1)" fill="#000"/>
<ellipse cx="411.1" cy="412.6" rx="0.6652698719004362" ry="0.5697938694352516" transform="rotate(28.355929169257024 411.1 412.6)" fill="#000"/>
<ellipse cx="403.7" cy="411.5" rx="1.3360120306604237" ry="1.0794672484597823" transform="rotate(44.00036890954084 403.7 411.5)" fill="#000"/>
<ellipse cx="413.8" cy="434.8" rx="1.121971210857632" ry="1.0093180201755425" transform="rotate(58.704255742742916 413.8 434.8)" fill="#000"/>
<ellipse cx="415.8" cy="404.2" rx="1.0690761679563667" ry="0.7282782884415957" transform="rotate(144.84196903477874 415.8 404.2)" fill="#000"/>
<ellipse cx="416.3" cy="430.5" rx="1.1679500639938318" ry="0.8621715271253756" transform="rotate(41.38932969656963 416.3 430.5)" fill="#000"/>
<ellipse cx="416.6" cy="429.0" rx="1.102071794687998" ry="0.8196698441995895" transform="rotate(88.07297667475581 416.6 429.0)" fill="#000"/>
<ellipse cx="413.7" cy="425.7" rx="0.7202019730001936" ry="0.8444746169782624" transform="rotate(132.62189913760508 413.7 425.7)" fill="#000"/>
<ellipse cx="419.9" cy="397.0" rx="1.5192587591693842" ry="0.9649232695249013" transform="rotate(80.90117453719714 419.9 397.0)" fill="#000"/>
<ellipse cx="416.1" cy="426.0" rx="0.8644340270475889" ry="0.8775027790955559" transform="rotate(161.58702520807194 416.1 426.0)" fill="#000"/>
<ellipse cx="416.7" cy="396.1" rx="0.8775148484574815" ry="0.9793330959878465" transform="rotate(166.75179477954956 416.7 396.1)" fill="#000"/>
<ellipse cx="415.8" cy="433.2" rx="1.3081985806723926" ry="1.0555244737536813" transform="rotate(129.52306475120665 415.8 433.2)" fill="#000"/>
<ellipse cx="418.9" cy="425.3" rx="1.6446076232423152" ry="1.0296945426585205" transform="rotate(80.99287984472619 418.9 425.3)" fill="#000"/>
<ellipse cx="412.8" cy="434.2" rx="0.8601443887010672" ry="0.6929937814455669" transform="rotate(7.118326576395974 412.8 434.2)" fill="#000"/>
<ellipse cx="419.4" cy="434.1" rx="0.4466151808662138" ry="0.4459751361597668" transform="rotate(114.53239752901713 419.4 434.1)" fill="#000"/>
<ellipse cx="420.6" cy="434.0" rx="0.6978693593801633" ry="0.7064781650506577" transform="rotate(44.47050918095225 420.6 434.0)" fill="#000"/>
<ellipse cx="411.5" cy="407.7" rx="1.088745703248946" ry="0.9043469163318149" transform="rotate(36.93934566695399 411.5 407.7)" fill="#000"/>
<ellipse cx="413.6" cy="397.9" rx="0.6967948220968196" ry="0.6339645622621868" transform="rotate(59.7055481347317 413.6 397.9)" fill="#000"/>
<ellipse cx="409.4" cy="411.5" rx="0.5994061624468318" ry="0.5873627233741511" transform="rotate(0.6788908681494754 409.4 411.5)" fill="#000"/>
<ellipse cx="407.2" cy="415.2" rx="1.610305821441862" ry="1.0126059698232717" transform="rotate(47.680436912389716 407.2 415.2)" fill="#000"/>
<ellipse cx="407.7" cy="418.0" rx="0.49836546802995535" ry="0.499392568167659" transform="rotate(44.16125344031096 407.7 418.0)" fill="#000"/>
<ellipse cx="408.1" cy="415.3" rx="1.3196162399885256" ry="1.09433654497908" transform="rotate(41.64856997829167 408.1 415.3)" fill="#000"/>
<ellipse cx="415.7" cy="434.5" rx="0.5034831984332825" ry="0.42674931551045975" transform="rotate(147.43848712444634 415.7 434.5)" fill="#000"/>
<ellipse cx="402.5" cy="508.4" rx="1.1500776292690802" ry="1.0476303108508693" transform="rotate(155.90291911361084 402.5 508.4)" fill="#000"/>
<ellipse cx="419.6" cy="506.7" rx="1.033021775281268" ry="0.7971102992615072" transform="rotate(39.176175942583455 419.6 506.7)" fill="#000"/>
<ellipse cx="424.6" cy="468.7" rx="0.7001617423545886" ry="0.6178862870526316" transform="rotate(155.56434734165126 424.6 468.7)" fill="#000"/>
<ellipse cx="420.8" cy="474.4" rx="0.6470069097023898" ry="0.6956796767547047" transform="rotate(2.670187423416752 420.8 474.4)" fill="#000"/>
<ellipse cx="413.0" cy="488.4" rx="0.5408699598269677" ry="0.41677333399391453" transform="rotate(66.75185242820388 413.0 488.4)" fill="#000"/>
<ellipse cx="420.3" cy="508.0" rx="0.6917159351217942" ry="0.44498776590801187" transform="rotate(175.59838491904551 420.3 508.0)" fill="#000"/>
<ellipse cx="423.9" cy="473.3" rx="1.189985809584021" ry="0.8152572256785812" transform="rotate(28.84970691247578 423.9 473.3)" fill="#000"/>
<ellipse cx="419.1" cy="496.8" rx="0.5712279683490082" ry="0.4846767757676319" transform="rotate(19.27369290651171 419.1 496.8)" fill="#000"/>
<ellipse cx="418.3" cy="496.7" rx="0.4700649391394616" ry="0.3906986982676697" transform="rotate(68.01527334372861 418.3 496.7)" fill="#000"/>
<ellipse cx="424.6" cy="458.2" rx="1.520206318724788" ry="1.0970931370600523" transform="rotate(146.69810071383304 424.6 458.2)" fill="#000"/>
<ellipse cx="419.9" cy="505.8" rx="0.8614736817365242" ry="0.6131730490016452" transform="rotate(28.57814087190493 419.9 505.8)" fill="#000"/>
<ellipse cx="423.0" cy="466.5" rx="0.5500271471815584" ry="0.4576792213367003" transform="rotate(165.58340613856438 423.0 466.5)" fill="#000"/>
<ellipse cx="401.7" cy="506.2" rx="0.9551519369971451" ry="1.0215598276453512" transform="rotate(141.27647673771793 401.7 506.2)" fill="#000"/>
<ellipse cx="422.3" cy="483.3" rx="0.8942039762181271" ry="1.0119012014722513" transform="rotate(178.73182949741354 422.3 483.3)" fill="#000"/>
<ellipse cx="420.1" cy="465.9" rx="0.8520836490468829" ry="0.7830203839365139" transform="rotate(137.63505454845276 420.1 465.9)" fill="#000"/>
<ellipse cx="420.8" cy="465.2" rx="1.3803940528044276" ry="1.0880413983220043" transform="rotate(119.46573556386035 420.8 465.2)" fill="#000"/>
<ellipse cx="411.9" cy="503.7" rx="0.6882812551367583" ry="0.5204447303666888" transform="rotate(4.012114031543912 411.9 503.7)" fill="#000"/>
<ellipse cx="400.9" cy="506.2" rx="0.40499609005916215" ry="0.46198481051727996" transform="rotate(114.87781737777956 400.9 506.2)" fill="#000"/>
<ellipse cx="415.6" cy="498.8" rx="0.6054422780500731" ry="0.582036868466626" transform="rotate(8.728339962147478 415.6 498.8)" fill="#000"/>
<ellipse cx="410.5" cy="494.5" rx="0.4593208613273729" ry="0.5194613117535253" transform="rotate(41.81340378465917 410.5 494.5)" fill="#000"/>
<ellipse cx="418.7" cy="491.7" rx="0.8950666474504766" ry="0.88376317053586" transform="rotate(99.68179644839672 418.7 491.7)" fill="#000"/>
<ellipse cx="409.6" cy="497.3" rx="0.7211312599099922" ry="0.5489721840002592" transform="rotate(173.72534603589799 409.6 497.3)" fill="#000"/>
<ellipse cx="418.6" cy="469.6" rx="0.591246879975953" ry="0.5964152943411707" transform="rotate(163.3623109262215 418.6 469.6)" fill="#000"/>
<ellipse cx="415.3" cy="491.6" rx="1.2746500043321498" ry="1.084260057302318" transform="rotate(151.14802819126317 415.3 491.6)" fill="#000"/>
<ellipse cx="409.7" cy="493.5" rx="0.5631406587442596" ry="0.5808131258331373" transform="rotate(112.0719725292907 409.7 493.5)" fill="#000"/>
<ellipse cx="423.9" cy="470.7" rx="0.30961943847525397" ry="0.3715494708951741" transform="rotate(124.67253860710598 423.9 470.7)" fill="#000"/>
<ellipse cx="415.4" cy="491.8" rx="0.508091106231224" ry="0.39932395102361945" transform="rotate(65.41310083773875 415.4 491.8)" fill="#000"/>
<ellipse cx="420.7" cy="499.2" rx="0.5968886030005184" ry="0.39946131378252764" transform="rotate(164.5935801269439 420.7 499.2)" fill="#000"/>
<ellipse cx="421.6" cy="498.7" rx="1.2644997828637428" ry="0.9687952016559975" transform="rotate(51.72571618766159 421.6 498.7)" fill="#000"/>
<ellipse cx="406.3" cy="507.8" rx="1.2797752621652931" ry="0.9885329940597458" transform="rotate(5.576644852981372 406.3 507.8)" fill="#000"/>
<ellipse cx="400.8" cy="521.2" rx="0.8319914431916073" ry="0.6100862503178883" transform="rotate(96.81849794013452 400.8 521.2)" fill="#000"/>
<ellipse cx="390.7" cy="540.7" rx="0.421331924458661" ry="0.3532712519977447" transform="rotate(88.46713725579849 390.7 540.7)" fill="#000"/>
<ellipse cx="411.1" cy="516.3" rx="0.9768863359559069" ry="0.6459495944446421" transform="rotate(15.511122763033196 411.1 516.3)" fill="#000"/>
<ellipse cx="403.1" cy="526.9" rx="1.2047518002965698" ry="0.9147420618981994" transform="rotate(62.72737998280371 403.1 526.9)" fill="#000"/>
<ellipse cx="396.7" cy="504.3" rx="1.1797784727587242" ry="0.846575133243963" transform="rotate(30.519096131386487 396.7 504.3)" fill="#000"/>
<ellipse cx="402.1" cy="541.4" rx="0.5199436327363737" ry="0.4445427846203767" transform="rotate(159.32259414629257 402.1 541.4)" fill="#000"/>
<ellipse cx="414.8" cy="545.6" rx="0.4660855847936398" ry="0.4669892902007363" transform="rotate(58.7812631467068 414.8 545.6)" fill="#000"/>
<ellipse cx="406.1" cy="504.7" rx="0.7773473219763942" ry="0.49195505860459887" transform="rotate(131.1718144944799 406.1 504.7)" fill="#000"/>
<ellipse cx="428.2" cy="542.7" rx="0.647084031956986" ry="0.676192252005379" transform="rotate(114.83655530253387 428.2 542.7)" fill="#000"/>
<ellipse cx="419.0" cy="536.6" rx="0.9649253220431531" ry="0.8242833038580415" transform="rotate(25.52625496907859 419.0 536.6)" fill="#000"/>
<ellipse cx="410.0" cy="519.3" rx="1.179490734895985" ry="1.0310029159461593" transform="rotate(103.31604604226968 410.0 519.3)" fill="#000"/>
<ellipse cx="392.0" cy="538.3" rx="1.2655877819079018" ry="0.9305362666492855" transform="rotate(153.4399177219652 392.0 538.3)" fill="#000"/>
<ellipse cx="401.1" cy="541.9" rx="0.822251145272656" ry="0.8222110283921942" transform="rotate(76.24437218080347 401.1 541.9)" fill="#000"/>
<ellipse cx="402.8" cy="532.3" rx="1.3224689519164394" ry="0.8564337551282898" transform="rotate(32.95117364085462 402.8 532.3)" fill="#000"/>
<ellipse cx="412.4" cy="541.7" rx="1.1332422588017939" ry="0.7173801230724451" transform="rotate(6.86619524076699 412.4 541.7)" fill="#000"/>
<ellipse cx="407.1" cy="504.7" rx="1.2827573804733323" ry="1.0554407868523796" transform="rotate(18.195659164255172 407.1 504.7)" fill="#000"/>
<ellipse cx="408.6" cy="527.5" rx="0.962762247152844" ry="0.7341433712249983" transform="rotate(149.217357833568 408.6 527.5)" fill="#000"/>
<ellipse cx="413.8" cy="518.5" rx="0.7013840942534368" ry="0.4417959701033671" transform="rotate(63.98514028461564 413.8 518.5)" fill="#000"/>
<ellipse cx="418.3" cy="543.6" rx="0.8770857368122181" ry="0.7018689683202615" transform="rotate(40.67762528833059 418.3 543.6)" fill="#000"/>
<ellipse cx="411.7" cy="544.1" rx="0.7259455206844838" ry="0.7010756622784141" transform="rotate(98.68818817235048 411.7 544.1)" fill="#000"/>
<ellipse cx="399.1" cy="510.2" rx="0.39258903889050534" ry="0.4894172933785374" transform="rotate(129.92209392640237 399.1 510.2)" fill="#000"/>
<ellipse cx="398.4" cy="550.7" rx="0.5743950961588353" ry="0.39279715429216583" transform="rotate(163.04507060681402 398.4 550.7)" fill="#000"/>
<ellipse cx="423.9" cy="542.3" rx="0.6744463747284363" ry="0.4980278828803166" transform="rotate(95.54318602495421 423.9 542.3)" fill="#000"/>
<ellipse cx="404.7" cy="498.5" rx="0.5468153602094162" ry="0.458315628210576" transform="rotate(89.67161871217897 404.7 498.5)" fill="#000"/>
<ellipse cx="408.0" cy="534.9" rx="0.7164666318395148" ry="0.6312184081924006" transform="rotate(172.91043700032205 408.0 534.9)" fill="#000"/>
<ellipse cx="411.5" cy="496.7" rx="1.3318665110378525" ry="0.8619410515010801" transform="rotate(59.482041489689976 411.5 496.7)" fill="#000"/>
<ellipse cx="403.8" cy="526.5" rx="0.5833115051016952" ry="0.5080439654224611" transform="rotate(76.02994803550058 403.8 526.5)" fill="#000"/>
<ellipse cx="396.2" cy="513.0" rx="1.1791747354308473" ry="0.8261156649565857" transform="rotate(7.20919766871706 396.2 513.0)" fill="#000"/>
<ellipse cx="415.7" cy="548.1" rx="0.4028915862787215" ry="0.38727468884633154" transform="rotate(1.117921980853387 415.7 548.1)" fill="#000"/>
<ellipse cx="418.9" cy="549.6" rx="1.0574609750251827" ry="0.8125243590048605" transform="rotate(125.35263153942282 418.9 549.6)" fill="#000"/>
<ellipse cx="418.2" cy="549.8" rx="0.9137140885596444" ry="0.6266519889529165" transform="rotate(141.57720875503318 418.2 549.8)" fill="#000"/>
<ellipse cx="408.0" cy="510.5" rx="0.7028416671271954" ry="0.6663385300016449" transform="rotate(77.52151147976427 408.0 510.5)" fill="#000"/>
<ellipse cx="408.2" cy="497.4" rx="1.2070097694442614" ry="0.9577488628462226" transform="rotate(165.35334358242693 408.2 497.4)" fill="#000"/>
<ellipse cx="409.4" cy="551.3" rx="0.798395666653601" ry="0.7065863097266479" transform="rotate(18.36777549182214 409.4 551.3)" fill="#000"/>
<ellipse cx="415.3" cy="546.3" rx="0.5383800920702345" ry="0.4132172094274869" transform="rotate(127.66232706351144 415.3 546.3)" fill="#000"/>
<ellipse cx="412.2" cy="544.0" rx="0.807022558097057" ry="0.5832969492999547" transform="rotate(29.879466387524122 412.2 544.0)" fill="#000"/>
<ellipse cx="408.6" cy="521.3" rx="0.6595305986267728" ry="0.4586798960325603" transform="rotate(65.38780727759496 408.6 521.3)" fill="#000"/>
<ellipse cx="401.1" cy="518.1" rx="1.5114931237000548" ry="1.058691456943643" transform="rotate(102.02697739079144 401.1 518.1)" fill="#000"/>
<ellipse cx="410.1" cy="553.6" rx="0.8383955218745194" ry="0.8008529817645902" transform="rotate(77.1411358993482 410.1 553.6)" fill="#000"/>
<ellipse cx="424.0" cy="543.4" rx="0.3549294154263484" ry="0.35126375251370967" transform="rotate(76.05000278585015 424.0 543.4)" fill="#000"/>
<ellipse cx="409.2" cy="544.0" rx="0.5598283103598386" ry="0.3817224317520192" transform="rotate(146.11543476812724 409.2 544.0)" fill="#000"/>
<ellipse cx="394.1" cy="546.1" rx="1.3219860068604632" ry="0.8634790974317779" transform="rotate(62.43358415529376 394.1 546.1)" fill="#000"/>
<ellipse cx="419.3" cy="507.0" rx="1.0353945460426717" ry="1.0487920476995958" transform="rotate(109.2416767057845 419.3 507.0)" fill="#000"/>
<ellipse cx="393.2" cy="540.1" rx="0.604577352274913" ry="0.6947880924151943" transform="rotate(145.18349113999992 393.2 540.1)" fill="#000"/>
<ellipse cx="418.1" cy="509.0" rx="1.5423037156986046" ry="1.022696826567174" transform="rotate(93.93453417553532 418.1 509.0)" fill="#000"/>
<ellipse cx="414.7" cy="516.8" rx="0.7912209298275081" ry="0.6518684691543051" transform="rotate(26.82162377487772 414.7 516.8)" fill="#000"/>
<ellipse cx="399.0" cy="501.4" rx="0.8699008435945702" ry="0.9405106612392112" transform="rotate(107.49823008078769 399.0 501.4)" fill="#000"/>
<ellipse cx="408.2" cy="510.7" rx="1.0424867624628826" ry="0.6694624880167157" transform="rotate(138.10481329829713 408.2 510.7)" fill="#000"/>
<ellipse cx="426.5" cy="549.6" rx="0.8927141679446843" ry="0.7985511368504282" transform="rotate(21.584886216727977 426.5 549.6)" fill="#000"/>
<ellipse cx="408.1" cy="533.4" rx="0.9498738709233644" ry="0.8522911159684938" transform="rotate(80.70181781757618 408.1 533.4)" fill="#000"/>
<ellipse cx="445.0" cy="537.0" rx="0.42898927434968936" ry="0.5162913943014517" transform="rotate(46.055194358603146 445.0 537.0)" fill="#000"/>
<ellipse cx="464.2" cy="535.1" rx="0.8191333486096418" ry="0.9779134280184845" transform="rotate(141.5471830397857 464.2 535.1)" fill="#000"/>
<ellipse cx="496.7" cy="517.0" rx="0.8121947849883404" ry="0.9184233493312194" transform="rotate(58.30531423467279 496.7 517.0)" fill="#000"/>
<ellipse cx="473.7" cy="510.9" rx="1.2788402121392957" ry="0.9816869837515213" transform="rotate(81.4200920985343 473.7 510.9)" fill="#000"/>
<ellipse cx="463.0" cy="532.7" rx="0.7506955275398858" ry="0.8211373636463588" transform="rotate(39.89716136821591 463.0 532.7)" fill="#000"/>
<ellipse cx="484.3" cy="512.3" rx="0.6209553278197186" ry="0.5497975898064469" transform="rotate(28.023562912461216 484.3 512.3)" fill="#000"/>
<ellipse cx="456.1" cy="533.2" rx="0.5675946033579202" ry="0.47584839348125535" transform="rotate(57.25203366661992 456.1 533.2)" fill="#000"/>
<ellipse cx="526.9" cy="509.7" rx="0.8247602230860515" ry="0.8512100092613792" transform="rotate(85.94196371995517 526.9 509.7)" fill="#000"/>
<ellipse cx="501.6" cy="516.8" rx="0.5233448114710962" ry="0.3620213950543268" transform="rotate(61.36307293132838 501.6 516.8)" fill="#000"/>
<ellipse cx="486.1" cy="512.1" rx="1.2704785372341572" ry="0.9278343075723589" transform="rotate(35.40807268110926 486.1 512.1)" fill="#000"/>
<ellipse cx="489.9" cy="522.9" rx="0.6508089613516306" ry="0.5045239340721117" transform="rotate(127.39636878013637 489.9 522.9)" fill="#000"/>
<ellipse cx="510.1" cy="518.1" rx="1.1924775434985666" ry="0.9983790014626969" transform="rotate(2.780124945290521 510.1 518.1)" fill="#000"/>
<ellipse cx="520.0" cy="522.3" rx="0.5215732346503386" ry="0.5496946590859815" transform="rotate(149.69210831395097 520.0 522.3)" fill="#000"/>
<ellipse cx="500.1" cy="519.4" rx="0.5931632702315026" ry="0.39590600333106696" transform="rotate(171.72935717977776 500.1 519.4)" fill="#000"/>
<ellipse cx="510.7" cy="508.9" rx="0.8358189362963837" ry="0.8742254570429135" transform="rotate(3.1837228739241685 510.7 508.9)" fill="#000"/>
<ellipse cx="488.9" cy="525.3" rx="0.7737556741084046" ry="0.8769840067860428" transform="rotate(156.5147027142579 488.9 525.3)" fill="#000"/>
<ellipse cx="500.7" cy="509.4" rx="0.8646680259312342" ry="0.7201939317541313" transform="rotate(50.332110969775904 500.7 509.4)" fill="#000"/>
<ellipse cx="480.7" cy="536.7" rx="0.6109079706049493" ry="0.536963333955947" transform="rotate(113.88416738867616 480.7 536.7)" fill="#000"/>
<ellipse cx="479.5" cy="508.6" rx="1.5310877369142313" ry="1.077272130905008" transform="rotate(168.64824698620762 479.5 508.6)" fill="#000"/>
<ellipse cx="456.3" cy="524.3" rx="0.8163226780764407" ry="0.8159433370484274" transform="rotate(93.65490006253198 456.3 524.3)" fill="#000"/>
<ellipse cx="475.6" cy="524.0" rx="0.40090300762957715" ry="0.4429400372037615" transform="rotate(52.84790340666377 475.6 524.0)" fill="#000"/>
<ellipse cx="469.7" cy="516.6" rx="0.5144717542560799" ry="0.41588541757540914" transform="rotate(151.15450025905255 469.7 516.6)" fill="#000"/>
<ellipse cx="490.0" cy="525.1" rx="0.6853670420169665" ry="0.5008938961582675" transform="rotate(82.95901745949455 490.0 525.1)" fill="#000"/>
<ellipse cx="483.8" cy="526.4" rx="0.5792666328178486" ry="0.5828784057738017" transform="rotate(39.88450731325696 483.8 526.4)" fill="#000"/>
<ellipse cx="487.6" cy="508.4" rx="0.9872650927042854" ry="0.9963989109848342" transform="rotate(100.19757537980375 487.6 508.4)" fill="#000"/>
<ellipse cx="478.1" cy="516.5" rx="0.8103989343473367" ry="0.5716281931302" transform="rotate(28.542002433561787 478.1 516.5)" fill="#000"/>
<ellipse cx="511.1" cy="523.5" rx="1.2774805380194547" ry="0.9074592068160179" transform="rotate(85.54291463168617 511.1 523.5)" fill="#000"/>
<ellipse cx="478.8" cy="536.9" rx="0.9466844212152457" ry="0.6634326013733443" transform="rotate(157.09702977427781 478.8 536.9)" fill="#000"/>
<ellipse cx="474.2" cy="521.7" rx="0.6338062597082728" ry="0.5696891364806537" transform="rotate(99.96329819541938 474.2 521.7)" fill="#000"/>
<ellipse cx="467.5" cy="517.7" rx="1.1842541457305722" ry="0.9871747329257098" transform="rotate(79.92556299272249 467.5 517.7)" fill="#000"/>
<ellipse cx="487.2" cy="510.6" rx="0.8743569773065776" ry="0.5929001888387833" transform="rotate(150.86752238629398 487.2 510.6)" fill="#000"/>
<ellipse cx="524.9" cy="514.1" rx="0.8351794891931554" ry="1.0329299887041414" transform="rotate(8.539574490329333 524.9 514.1)" fill="#000"/>
<ellipse cx="485.5" cy="522.9" rx="1.1447805669022297" ry="0.9301111961477545" transform="rotate(179.69896285749044 485.5 522.9)" fill="#000"/>
<ellipse cx="481.5" cy="511.0" rx="0.8127333128241638" ry="0.6506702585995365" transform="rotate(103.3298601788258 481.5 511.0)" fill="#000"/>
<ellipse cx="510.6" cy="513.1" rx="1.5832697584594773" ry="1.0838200606876272" transform="rotate(92.26684906784779 510.6 513.1)" fill="#000"/>
<ellipse cx="507.8" cy="517.2" rx="0.36831051609329307" ry="0.35293480558525075" transform="rotate(151.58843157983938 507.8 517.2)" fill="#000"/>
<ellipse cx="506.1" cy="517.7" rx="0.5757108661793763" ry="0.6153836008651988" transform="rotate(47.98980961118403 506.1 517.7)" fill="#000"/>
<ellipse cx="438.9" cy="535.1" rx="0.7094583409588577" ry="0.6116701825986772" transform="rotate(69.41818716763483 438.9 535.1)" fill="#000"/>
<ellipse cx="473.0" cy="526.6" rx="0.5915796293291437" ry="0.3829840695079533" transform="rotate(153.84879627254315 473.0 526.6)" fill="#000"/>
<ellipse cx="510.6" cy="517.1" rx="1.2802184138298993" ry="1.070021742695011" transform="rotate(170.94803953286015 510.6 517.1)" fill="#000"/>
<ellipse cx="516.5" cy="522.5" rx="0.49993777049931176" ry="0.5325432223498764" transform="rotate(64.51128876374413 516.5 522.5)" fill="#000"/>
<ellipse cx="447.7" cy="537.1" rx="0.6877961488952182" ry="0.7711505206093359" transform="rotate(96.07508791139183 447.7 537.1)" fill="#000"/>
<ellipse cx="511.6" cy="518.5" rx="0.5066539340100524" ry="0.4933966185916989" transform="rotate(42.69144608381211 511.6 518.5)" fill="#000"/>
<ellipse cx="499.6" cy="510.8" rx="0.8808128049878373" ry="0.9762559450462183" transform="rotate(79.79556325129798 499.6 510.8)" fill="#000"/>
<ellipse cx="501.2" cy="519.3" rx="0.7898091260054283" ry="0.5060442110370116" transform="rotate(90.86934981346269 501.2 519.3)" fill="#000"/>
<ellipse cx="455.1" cy="535.0" rx="0.6241191372570103" ry="0.6259968072250173" transform="rotate(109.47665223356263 455.1 535.0)" fill="#000"/>
<ellipse cx="467.5" cy="527.7" rx="0.6483675912161393" ry="0.5830917195323874" transform="rotate(15.486653335686064 467.5 527.7)" fill="#000"/>
<ellipse cx="446.7" cy="533.5" rx="0.7514868398708752" ry="0.8470616040266346" transform="rotate(101.1583192981261 446.7 533.5)" fill="#000"/>
<ellipse cx="457.2" cy="520.1" rx="1.402649623606024" ry="0.931247605167525" transform="rotate(155.03048058865537 457.2 520.1)" fill="#000"/>
<ellipse cx="495.4" cy="518.5" rx="1.1477373128905597" ry="0.8442976704078896" transform="rotate(44.71577972165577 495.4 518.5)" fill="#000"/>
<ellipse cx="513.7" cy="518.6" rx="0.4338185993107835" ry="0.4862426744297695" transform="rotate(164.28348980549737 513.7 518.6)" fill="#000"/>
<ellipse cx="512.9" cy="525.1" rx="0.6210752392152665" ry="0.5410318206568782" transform="rotate(123.17897724769672 512.9 525.1)" fill="#000"/>
<ellipse cx="508.1" cy="514.3" rx="0.7925703094567667" ry="0.9121437071653784" transform="rotate(125.0418708764608 508.1 514.3)" fill="#000"/>
<ellipse cx="468.4" cy="530.4" rx="0.4890525626180009" ry="0.5608742698691298" transform="rotate(170.3450680593413 468.4 530.4)" fill="#000"/>
<ellipse cx="471.4" cy="535.9" rx="1.323386865923923" ry="0.9039580342643768" transform="rotate(113.05820876859697 471.4 535.9)" fill="#000"/>
<ellipse cx="423.9" cy="356.3" rx="0.9437009093065697" ry="1.0460974099761855" transform="rotate(137.14601691121828 423.9 356.3)" fill="#000"/>
<ellipse cx="429.3" cy="349.9" rx="1.4109640876946807" ry="1.0770607638034595" transform="rotate(97.90768762566023 429.3 349.9)" fill="#000"/>
<ellipse cx="414.8" cy="356.9" rx="0.6378314670743349" ry="0.6135957768077955" transform="rotate(159.24335768363443 414.8 356.9)" fill="#000"/>
<ellipse cx="422.3" cy="362.7" rx="1.3545087716798587" ry="0.9246192731304029" transform="rotate(20.606085093494514 422.3 362.7)" fill="#000"/>
<ellipse cx="424.1" cy="357.0" rx="0.6971468070535395" ry="0.5933530154362646" transform="rotate(65.33565351449722 424.1 357.0)" fill="#000"/>
<ellipse cx="420.4" cy="375.5" rx="0.5368306886345903" ry="0.538559040351247" transform="rotate(24.95744358405983 420.4 375.5)" fill="#000"/>
<ellipse cx="420.9" cy="372.1" rx="0.6800737968153916" ry="0.47634436657006146" transform="rotate(149.47090160744514 420.9 372.1)" fill="#000"/>
<ellipse cx="416.6" cy="354.0" rx="0.44110373546206305" ry="0.5295347783214714" transform="rotate(102.03650388495052 416.6 354.0)" fill="#000"/>
<ellipse cx="420.4" cy="371.1" rx="1.6009087982067685" ry="1.028896835356282" transform="rotate(88.98837056857644 420.4 371.1)" fill="#000"/>
<ellipse cx="431.0" cy="372.5" rx="0.6868844722609901" ry="0.6690832462711007" transform="rotate(119.09251444007222 431.0 372.5)" fill="#000"/>
<ellipse cx="414.7" cy="356.0" rx="0.9050545197372108" ry="0.6790200587853673" transform="rotate(148.69294950165408 414.7 356.0)" fill="#000"/>
<ellipse cx="432.3" cy="377.0" rx="1.180726487503881" ry="0.8149019357642457" transform="rotate(10.801520869868353 432.3 377.0)" fill="#000"/>
<path d="M455.4 415.8 L457.8 415.0 L461.0 418.2 L463.5 423.0 L465.9 427.0 L462.7 430.2 L458.6 431.0 L457.0 427.0 L456.2 421.4Z" fill="#808080" stroke="#000" stroke-width="0.8" stroke-linejoin="round"/>
<path d="M459.4 432.6 L462.7 429.4 L466.7 428.6 L469.9 431.0 L471.5 434.2 L469.9 439.0 L467.5 441.5 L465.1 442.3 L463.5 439.9 L461.0 440.7 L459.4 437.4Z" fill="#c3a6cf" stroke="#000" stroke-width="0.8" stroke-linejoin="round"/>
<path d="M508.4 437.4 L510.8 435.8 L516.4 438.3 L522.9 440.7 L527.7 442.3 L528.5 444.7 L525.6 446.6 L521.7 449.2 L521.0 454.5 L521.7 461.1 L519.0 467.7 L514.4 468.4 L511.1 472.3 L507.2 471.7 L509.1 466.4 L508.5 461.1 L512.4 457.2 L515.1 451.9 L513.8 445.3 L509.2 440.7Z" fill="#40004b" stroke="#000" stroke-width="0.8" stroke-linejoin="round"/>
<path d="M433.8 494.6 L437.0 493.0 L441.8 492.2 L446.6 493.0 L449.0 496.2 L445.8 500.2 L440.2 501.8 L435.4 500.2 L433.0 497.8Z" fill="#40004b" stroke="#000" stroke-width="0.8" stroke-linejoin="round"/>
<path d="M410.8 592.9 L413.3 588.8 L417.4 585.8 L424.5 583.2 L432.7 581.2 L439.9 580.7 L444.0 582.7 L444.0 586.8 L441.4 591.9 L437.8 595.0 L429.7 597.5 L422.5 598.0 L416.4 598.5 L412.3 596.0Z" fill="#ab87bb" stroke="#000" stroke-width="0.8" stroke-linejoin="round"/>
<rect x="252.4" y="335.3" width="11.4" height="223.7" fill="url(#cbM)"/>
<path d="M252.4 336.1L252.4 335.3L258.1 324.1L263.8 335.3L263.8 336.1Z" fill="#00441b"/>
<path d="M252.4 558.2L252.4 559.0L258.1 570.2L263.8 559.0L263.8 558.2Z" fill="#40004b"/>
<path d="M252.4 335.3L258.1 324.1L263.8 335.3L263.8 559.0L258.1 570.2L252.4 559.0Z" fill="none" stroke="#222" stroke-width="0.8"/>
<text x="272.3" y="351.20" font-size="15.5" font-family="Liberation Sans, sans-serif" fill="#1a1a1a">1.5</text>
<text x="272.3" y="384.90" font-size="15.5" font-family="Liberation Sans, sans-serif" fill="#1a1a1a">1.0</text>
<text x="272.3" y="418.60" font-size="15.5" font-family="Liberation Sans, sans-serif" fill="#1a1a1a">0.5</text>
<text x="272.3" y="452.30" font-size="15.5" font-family="Liberation Sans, sans-serif" fill="#1a1a1a">0.0</text>
<text x="272.3" y="486.00" font-size="15.5" font-family="Liberation Sans, sans-serif" fill="#1a1a1a">−0.5</text>
<text x="272.3" y="519.70" font-size="15.5" font-family="Liberation Sans, sans-serif" fill="#1a1a1a">−1.0</text>
<text x="272.3" y="553.40" font-size="15.5" font-family="Liberation Sans, sans-serif" fill="#1a1a1a">−1.5</text>
<path d="M263.8 346.00h3.8M263.8 379.70h3.8M263.8 413.40h3.8M263.8 447.10h3.8M263.8 480.80h3.8M263.8 514.50h3.8M263.8 548.20h3.8" stroke="#222" stroke-width="1" fill="none"/>
<rect x="581.4" y="335.3" width="11.4" height="223.7" fill="url(#cbM)"/>
<path d="M581.4 336.1L581.4 335.3L587.1 324.1L592.8 335.3L592.8 336.1Z" fill="#00441b"/>
<path d="M581.4 558.2L581.4 559.0L587.1 570.2L592.8 559.0L592.8 558.2Z" fill="#40004b"/>
<path d="M581.4 335.3L587.1 324.1L592.8 335.3L592.8 559.0L587.1 570.2L581.4 559.0Z" fill="none" stroke="#222" stroke-width="0.8"/>
<text x="601.3" y="351.20" font-size="15.5" font-family="Liberation Sans, sans-serif" fill="#1a1a1a">1.5</text>
<text x="601.3" y="384.90" font-size="15.5" font-family="Liberation Sans, sans-serif" fill="#1a1a1a">1.0</text>
<text x="601.3" y="418.60" font-size="15.5" font-family="Liberation Sans, sans-serif" fill="#1a1a1a">0.5</text>
<text x="601.3" y="452.30" font-size="15.5" font-family="Liberation Sans, sans-serif" fill="#1a1a1a">0.0</text>
<text x="601.3" y="486.00" font-size="15.5" font-family="Liberation Sans, sans-serif" fill="#1a1a1a">−0.5</text>
<text x="601.3" y="519.70" font-size="15.5" font-family="Liberation Sans, sans-serif" fill="#1a1a1a">−1.0</text>
<text x="601.3" y="553.40" font-size="15.5" font-family="Liberation Sans, sans-serif" fill="#1a1a1a">−1.5</text>
<path d="M592.8 346.00h3.8M592.8 379.70h3.8M592.8 413.40h3.8M592.8 447.10h3.8M592.8 480.80h3.8M592.8 514.50h3.8M592.8 548.20h3.8" stroke="#222" stroke-width="1" fill="none"/>
<text x="15.2" y="283.9" font-size="22.6" font-weight="bold" font-family="Liberation Sans, sans-serif" fill="#000">(b)</text>
<text x="335.3" y="283.9" font-size="22.4" font-weight="bold" font-family="Liberation Sans, sans-serif" fill="#000">(c)</text>
<text x="82.0" y="296.7" font-size="20.5" font-weight="bold" font-family="Liberation Sans, sans-serif" fill="#000">National drought (I)</text>
<text x="412.2" y="296.7" font-size="20.6" font-weight="bold" font-family="Liberation Sans, sans-serif" fill="#000">Local drought (II)</text>
<ellipse cx="24" cy="349.2" rx="2.8" ry="1.6" fill="#9465a5" stroke="#000" stroke-width="0.6"/>
<ellipse cx="24.5" cy="356" rx="1.2" ry="1" fill="#000"/>
<ellipse cx="26.5" cy="358.5" rx="1.2" ry="0.8" fill="#000"/>
<ellipse cx="353" cy="349.2" rx="2.8" ry="1.6" fill="#469d54" stroke="#000" stroke-width="0.6"/>
<ellipse cx="353.5" cy="356" rx="1.2" ry="1" fill="#000"/>
<ellipse cx="355.5" cy="358.5" rx="1.2" ry="0.8" fill="#000"/>
<path d="M278.0 371.0 L281.0 369.5 L284.5 369.8 L283.5 372.5 L281.0 374.5 L278.5 373.5Z" fill="#480754" stroke="#000" stroke-width="0.7" stroke-linejoin="round"/>
<path d="M607.0 371.0 L610.0 369.5 L613.5 369.8 L612.5 372.5 L610.0 374.5 L607.5 373.5Z" fill="#834492" stroke="#000" stroke-width="0.7" stroke-linejoin="round"/>
<circle cx="323.5" cy="384" r="0.8" fill="#000"/>
<circle cx="652.5" cy="384" r="0.8" fill="#000"/></svg>
</body></html>
